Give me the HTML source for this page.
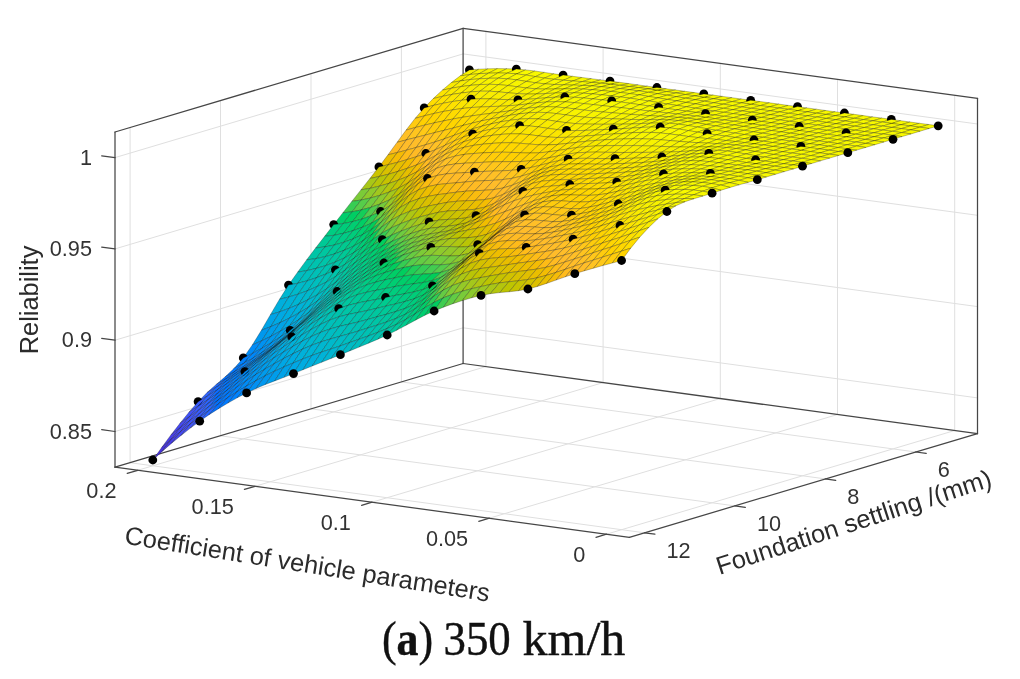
<!DOCTYPE html>
<html><head><meta charset="utf-8"><title>Reliability surface</title>
<style>
html,body{margin:0;padding:0;background:#fff}
svg{display:block}
.g{stroke:#dfdfdf;stroke-width:1;fill:none}
.b{stroke:#464646;stroke-width:1.25;fill:none;stroke-linecap:round}
.tk{font-family:"Liberation Sans",sans-serif;font-size:21.7px;fill:#333}
.al{font-family:"Liberation Sans",sans-serif;font-size:25.4px;fill:#2b2b2b}
.cap{font-family:"Liberation Serif",serif;font-size:48px;fill:#111;stroke:#111;stroke-width:0.4px}
</style></head><body>
<svg width="1020" height="679" viewBox="0 0 1020 679">
<rect width="1020" height="679" fill="#fff"/>
<g id="axes-back"><line x1="954.7" y1="430.5" x2="606.5" y2="534.2" class="g"/><line x1="837.5" y1="414.5" x2="489.4" y2="518.2" class="g"/><line x1="720.3" y1="398.5" x2="372.1" y2="502.2" class="g"/><line x1="603.1" y1="382.6" x2="255.0" y2="486.3" class="g"/><line x1="485.9" y1="366.6" x2="137.7" y2="470.3" class="g"/><line x1="915.8" y1="452.0" x2="401.4" y2="381.9" class="g"/><line x1="825.3" y1="478.9" x2="311.0" y2="408.8" class="g"/><line x1="734.9" y1="505.9" x2="220.5" y2="435.8" class="g"/><line x1="644.5" y1="532.8" x2="130.1" y2="462.7" class="g"/><line x1="401.4" y1="381.9" x2="401.4" y2="46.7" class="g"/><line x1="311.0" y1="408.8" x2="311.0" y2="73.6" class="g"/><line x1="220.5" y1="435.8" x2="220.5" y2="100.6" class="g"/><line x1="130.1" y1="462.7" x2="130.1" y2="127.5" class="g"/><line x1="463.1" y1="327.8" x2="115.0" y2="431.5" class="g"/><line x1="463.1" y1="236.5" x2="115.0" y2="340.2" class="g"/><line x1="463.1" y1="145.2" x2="115.0" y2="248.9" class="g"/><line x1="463.1" y1="53.9" x2="115.0" y2="157.6" class="g"/><line x1="954.7" y1="430.5" x2="954.7" y2="95.3" class="g"/><line x1="837.5" y1="414.5" x2="837.5" y2="79.3" class="g"/><line x1="720.3" y1="398.5" x2="720.3" y2="63.3" class="g"/><line x1="603.1" y1="382.6" x2="603.1" y2="47.4" class="g"/><line x1="485.9" y1="366.6" x2="485.9" y2="31.4" class="g"/><line x1="977.5" y1="397.9" x2="463.1" y2="327.8" class="g"/><line x1="977.5" y1="306.6" x2="463.1" y2="236.5" class="g"/><line x1="977.5" y1="215.3" x2="463.1" y2="145.2" class="g"/><line x1="977.5" y1="124.0" x2="463.1" y2="53.9" class="g"/><line x1="115.0" y1="467.2" x2="115.0" y2="132.0" class="b"/><line x1="115.0" y1="132.0" x2="463.1" y2="28.3" class="b"/><line x1="463.1" y1="28.3" x2="977.5" y2="98.4" class="b"/><line x1="977.5" y1="98.4" x2="977.5" y2="433.6" class="b"/><line x1="463.1" y1="363.5" x2="463.1" y2="28.3" class="b"/><line x1="115.0" y1="467.2" x2="463.1" y2="363.5" class="b"/><line x1="463.1" y1="363.5" x2="977.5" y2="433.6" class="b"/><line x1="115.0" y1="467.2" x2="629.4" y2="537.3" class="b"/><line x1="629.4" y1="537.3" x2="977.5" y2="433.6" class="b"/></g>
<g id="surface">
<g stroke="#000" stroke-opacity="0.32" stroke-width="0.80" stroke-linejoin="round">
<circle cx="469.4" cy="69.9" r="4.4" fill="#000" stroke="none"/>
<path d="M460.3,75.8L469.7,74.6L478.8,69.2L469.4,69.9z" fill="#f8f200"/>
<path d="M469.7,74.6L479.1,73.7L488.1,68.8L478.8,69.2z" fill="#f8f400"/>
<path d="M451.3,82.6L460.7,80.9L469.7,74.6L460.3,75.8z" fill="#f8ee00"/>
<path d="M479.1,73.7L488.5,73.2L497.5,68.6L488.1,68.8z" fill="#f8f500"/>
<path d="M460.7,80.9L470.1,79.6L479.1,73.7L469.7,74.6z" fill="#f8f100"/>
<path d="M442.3,90.2L451.6,88.2L460.7,80.9L451.3,82.6z" fill="#f9ea00"/>
<path d="M488.5,73.2L497.9,73.0L506.9,68.7L497.5,68.6z" fill="#f8f700"/>
<path d="M470.1,79.6L479.4,78.8L488.5,73.2L479.1,73.7z" fill="#f8f300"/>
<path d="M451.6,88.2L461.0,86.6L470.1,79.6L460.7,80.9z" fill="#f9ed00"/>
<path d="M497.9,73.0L507.2,73.2L516.3,69.1L506.9,68.7z" fill="#f8f800"/>
<path d="M433.2,98.6L442.6,96.3L451.6,88.2L442.3,90.2z" fill="#fce400"/>
<circle cx="516.3" cy="69.1" r="4.4" fill="#000" stroke="none"/>
<path d="M479.4,78.8L488.8,78.3L497.9,73.0L488.5,73.2z" fill="#f8f500"/>
<path d="M507.2,73.2L516.6,73.9L525.6,69.9L516.3,69.1z" fill="#f8f800"/>
<path d="M461.0,86.6L470.4,85.4L479.4,78.8L470.1,79.6z" fill="#f8f000"/>
<path d="M442.6,96.3L452.0,94.4L461.0,86.6L451.6,88.2z" fill="#fae800"/>
<path d="M424.2,107.9L433.5,105.4L442.6,96.3L433.2,98.6z" fill="#ffdd00"/>
<path d="M488.8,78.3L498.2,78.2L507.2,73.2L497.9,73.0z" fill="#f8f600"/>
<path d="M516.6,73.9L526.0,75.1L535.0,71.0L525.6,69.9z" fill="#f8f900"/>
<circle cx="424.2" cy="107.9" r="4.4" fill="#000" stroke="none"/>
<path d="M470.4,85.4L479.8,84.6L488.8,78.3L479.4,78.8z" fill="#f8f200"/>
<path d="M452.0,94.4L461.3,93.0L470.4,85.4L461.0,86.6z" fill="#f9eb00"/>
<path d="M415.1,118.4L424.5,115.8L433.5,105.4L424.2,107.9z" fill="#ffd500"/>
<path d="M498.2,78.2L507.6,78.8L516.6,73.9L507.2,73.2z" fill="#f8f700"/>
<path d="M433.5,105.4L442.9,103.3L452.0,94.4L442.6,96.3z" fill="#fee100"/>
<path d="M526.0,75.1L535.4,76.6L544.4,72.4L535.0,71.0z" fill="#f8f800"/>
<path d="M479.8,84.6L489.1,84.3L498.2,78.2L488.8,78.3z" fill="#f8f300"/>
<path d="M507.6,78.8L516.9,79.9L526.0,75.1L516.6,73.9z" fill="#f8f700"/>
<path d="M535.4,76.6L544.7,78.1L553.8,73.8L544.4,72.4z" fill="#f8f800"/>
<path d="M461.3,93.0L470.7,91.9L479.8,84.6L470.4,85.4z" fill="#f9ed00"/>
<path d="M406.1,130.1L415.5,127.5L424.5,115.8L415.1,118.4z" fill="#ffcb10"/>
<path d="M442.9,103.3L452.3,101.6L461.3,93.0L452.0,94.4z" fill="#fbe500"/>
<path d="M424.5,115.8L433.9,113.5L442.9,103.3L433.5,105.4z" fill="#ffd900"/>
<path d="M489.1,84.3L498.5,84.6L507.6,78.8L498.2,78.2z" fill="#f8f400"/>
<path d="M516.9,79.9L526.3,81.4L535.4,76.6L526.0,75.1z" fill="#f8f700"/>
<path d="M544.7,78.1L554.1,79.3L563.1,75.1L553.8,73.8z" fill="#f8f800"/>
<path d="M397.0,142.4L406.4,139.9L415.5,127.5L406.1,130.1z" fill="#ffc026"/>
<circle cx="563.1" cy="75.1" r="4.4" fill="#000" stroke="none"/>
<path d="M470.7,91.9L480.1,91.2L489.1,84.3L479.8,84.6z" fill="#f8ef00"/>
<path d="M415.5,127.5L424.8,125.1L433.9,113.5L424.5,115.8z" fill="#ffd001"/>
<path d="M452.3,101.6L461.7,100.2L470.7,91.9L461.3,93.0z" fill="#fae800"/>
<path d="M433.9,113.5L443.3,111.5L452.3,101.6L442.9,103.3z" fill="#ffdd00"/>
<path d="M498.5,84.6L507.9,85.5L516.9,79.9L507.6,78.8z" fill="#f8f400"/>
<path d="M526.3,81.4L535.7,82.8L544.7,78.1L535.4,76.6z" fill="#f8f600"/>
<path d="M554.1,79.3L563.5,80.2L572.5,76.3L563.1,75.1z" fill="#f8f800"/>
<path d="M388.0,154.8L397.4,152.5L406.4,139.9L397.0,142.4z" fill="#ffbb20"/>
<path d="M480.1,91.2L489.5,91.2L498.5,84.6L489.1,84.3z" fill="#f8f100"/>
<path d="M406.4,139.9L415.8,137.5L424.8,125.1L415.5,127.5z" fill="#ffc51f"/>
<path d="M507.9,85.5L517.3,86.8L526.3,81.4L516.9,79.9z" fill="#f8f400"/>
<path d="M461.7,100.2L471.0,99.2L480.1,91.2L470.7,91.9z" fill="#f9ea00"/>
<path d="M424.8,125.1L434.2,122.9L443.3,111.5L433.9,113.5z" fill="#ffd400"/>
<path d="M535.7,82.8L545.1,83.9L554.1,79.3L544.7,78.1z" fill="#f8f600"/>
<path d="M443.3,111.5L452.6,109.9L461.7,100.2L452.3,101.6z" fill="#fee100"/>
<path d="M563.5,80.2L572.9,81.0L581.9,77.5L572.5,76.3z" fill="#f8f800"/>
<path d="M378.9,166.9L388.3,164.7L397.4,152.5L388.0,154.8z" fill="#ebbe00"/>
<path d="M489.5,91.2L498.8,91.9L507.9,85.5L498.5,84.6z" fill="#f8f100"/>
<path d="M397.4,152.5L406.7,150.1L415.8,137.5L406.4,139.9z" fill="#ffbc2a"/>
<circle cx="378.9" cy="166.9" r="4.4" fill="#000" stroke="none"/>
<path d="M517.3,86.8L526.6,88.0L535.7,82.8L526.3,81.4z" fill="#f8f400"/>
<path d="M415.8,137.5L425.2,135.1L434.2,122.9L424.8,125.1z" fill="#ffc916"/>
<path d="M545.1,83.9L554.4,84.5L563.5,80.2L554.1,79.3z" fill="#f8f700"/>
<path d="M471.0,99.2L480.4,98.8L489.5,91.2L480.1,91.2z" fill="#f9ec00"/>
<path d="M572.9,81.0L582.2,81.6L591.3,78.7L581.9,77.5z" fill="#f8f900"/>
<path d="M434.2,122.9L443.6,120.9L452.6,109.9L443.3,111.5z" fill="#ffd800"/>
<path d="M452.6,109.9L462.0,108.5L471.0,99.2L461.7,100.2z" fill="#fce400"/>
<path d="M369.9,178.5L379.3,176.5L388.3,164.7L378.9,166.9z" fill="#ccc300"/>
<path d="M498.8,91.9L508.2,92.8L517.3,86.8L507.9,85.5z" fill="#f8f100"/>
<path d="M388.3,164.7L397.7,162.3L406.7,150.1L397.4,152.5z" fill="#f5bc04"/>
<path d="M526.6,88.0L536.0,88.8L545.1,83.9L535.7,82.8z" fill="#f8f400"/>
<circle cx="471.0" cy="99.2" r="4.4" fill="#000" stroke="none"/>
<path d="M406.7,150.1L416.1,147.5L425.2,135.1L415.8,137.5z" fill="#ffbe29"/>
<path d="M554.4,84.5L563.8,84.8L572.9,81.0L563.5,80.2z" fill="#f8f800"/>
<path d="M480.4,98.8L489.8,98.9L498.8,91.9L489.5,91.2z" fill="#f9ed00"/>
<path d="M582.2,81.6L591.6,82.4L600.7,79.9L591.3,78.7z" fill="#f8f900"/>
<path d="M425.2,135.1L434.5,132.7L443.6,120.9L434.2,122.9z" fill="#ffcd0a"/>
<path d="M360.9,189.9L370.2,188.3L379.3,176.5L369.9,178.5z" fill="#a8c719"/>
<path d="M462.0,108.5L471.4,107.5L480.4,98.8L471.0,99.2z" fill="#fbe600"/>
<path d="M443.6,120.9L453.0,119.0L462.0,108.5L452.6,109.9z" fill="#ffdb00"/>
<path d="M508.2,92.8L517.6,93.6L526.6,88.0L517.3,86.8z" fill="#f8f100"/>
<path d="M379.3,176.5L388.7,174.2L397.7,162.3L388.3,164.7z" fill="#d9c100"/>
<path d="M536.0,88.8L545.4,89.1L554.4,84.5L545.1,83.9z" fill="#f8f500"/>
<path d="M397.7,162.3L407.1,159.6L416.1,147.5L406.7,150.1z" fill="#febc19"/>
<path d="M563.8,84.8L573.2,85.1L582.2,81.6L572.9,81.0z" fill="#f8f800"/>
<path d="M591.6,82.4L601.0,83.2L610.0,81.1L600.7,79.9z" fill="#f8f900"/>
<path d="M489.8,98.9L499.2,99.4L508.2,92.8L498.8,91.9z" fill="#f9ed00"/>
<circle cx="610.0" cy="81.1" r="4.4" fill="#000" stroke="none"/>
<path d="M416.1,147.5L425.5,144.8L434.5,132.7L425.2,135.1z" fill="#ffc224"/>
<path d="M351.8,201.4L361.2,200.0L370.2,188.3L360.9,189.9z" fill="#7bcb38"/>
<path d="M517.6,93.6L527.0,94.1L536.0,88.8L526.6,88.0z" fill="#f8f200"/>
<path d="M471.4,107.5L480.8,107.0L489.8,98.9L480.4,98.8z" fill="#fae700"/>
<path d="M434.5,132.7L443.9,130.4L453.0,119.0L443.6,120.9z" fill="#ffd100"/>
<path d="M370.2,188.3L379.6,186.1L388.7,174.2L379.3,176.5z" fill="#b7c508"/>
<path d="M453.0,119.0L462.3,117.3L471.4,107.5L462.0,108.5z" fill="#ffde00"/>
<path d="M545.4,89.1L554.8,89.0L563.8,84.8L554.4,84.5z" fill="#f8f600"/>
<path d="M388.7,174.2L398.0,171.4L407.1,159.6L397.7,162.3z" fill="#e5bf00"/>
<path d="M601.0,83.2L610.4,84.2L619.4,82.3L610.0,81.1z" fill="#f8f900"/>
<path d="M573.2,85.1L582.6,85.4L591.6,82.4L582.2,81.6z" fill="#f8f900"/>
<path d="M499.2,99.4L508.6,99.7L517.6,93.6L508.2,92.8z" fill="#f9ed00"/>
<path d="M407.1,159.6L416.5,156.7L425.5,144.8L416.1,147.5z" fill="#ffbb25"/>
<path d="M527.0,94.1L536.3,94.0L545.4,89.1L536.0,88.8z" fill="#f8f300"/>
<path d="M342.8,212.9L352.1,211.8L361.2,200.0L351.8,201.4z" fill="#37cd53"/>
<path d="M480.8,107.0L490.1,106.6L499.2,99.4L489.8,98.9z" fill="#fae800"/>
<path d="M425.5,144.8L434.9,142.0L443.9,130.4L434.5,132.7z" fill="#ffc61c"/>
<path d="M361.2,200.0L370.6,198.0L379.6,186.1L370.2,188.3z" fill="#8eca2c"/>
<path d="M443.9,130.4L453.3,128.0L462.3,117.3L453.0,119.0z" fill="#ffd500"/>
<path d="M554.8,89.0L564.1,88.9L573.2,85.1L563.8,84.8z" fill="#f8f700"/>
<path d="M462.3,117.3L471.7,115.9L480.8,107.0L471.4,107.5z" fill="#fee000"/>
<path d="M610.4,84.2L619.7,85.3L628.8,83.6L619.4,82.3z" fill="#f8f900"/>
<path d="M379.6,186.1L389.0,183.4L398.0,171.4L388.7,174.2z" fill="#c7c300"/>
<path d="M582.6,85.4L591.9,85.9L601.0,83.2L591.6,82.4z" fill="#f8f900"/>
<path d="M508.6,99.7L517.9,99.8L527.0,94.1L517.6,93.6z" fill="#f8ee00"/>
<path d="M398.0,171.4L407.4,168.3L416.5,156.7L407.1,159.6z" fill="#f1bd00"/>
<path d="M536.3,94.0L545.7,93.6L554.8,89.0L545.4,89.1z" fill="#f8f400"/>
<path d="M333.7,224.6L343.1,223.6L352.1,211.8L342.8,212.9z" fill="#00ce6c"/>
<path d="M416.5,156.7L425.8,153.5L434.9,142.0L425.5,144.8z" fill="#ffbd2a"/>
<path d="M490.1,106.6L499.5,106.3L508.6,99.7L499.2,99.4z" fill="#fae900"/>
<path d="M352.1,211.8L361.5,209.9L370.6,198.0L361.2,200.0z" fill="#56cd4a"/>
<path d="M619.7,85.3L629.1,86.5L638.2,84.9L628.8,83.6z" fill="#f8f900"/>
<path d="M564.1,88.9L573.5,88.8L582.6,85.4L573.2,85.1z" fill="#f8f900"/>
<path d="M434.9,142.0L444.2,138.9L453.3,128.0L443.9,130.4z" fill="#ffcb11"/>
<path d="M591.9,85.9L601.3,86.7L610.4,84.2L601.0,83.2z" fill="#f9fa00"/>
<path d="M471.7,115.9L481.1,114.6L490.1,106.6L480.8,107.0z" fill="#fde200"/>
<path d="M370.6,198.0L379.9,195.3L389.0,183.4L379.6,186.1z" fill="#a1c81e"/>
<circle cx="333.7" cy="224.6" r="4.4" fill="#000" stroke="none"/>
<path d="M453.3,128.0L462.7,125.5L471.7,115.9L462.3,117.3z" fill="#ffd800"/>
<path d="M517.9,99.8L527.3,99.3L536.3,94.0L527.0,94.1z" fill="#f8f000"/>
<path d="M389.0,183.4L398.4,180.1L407.4,168.3L398.0,171.4z" fill="#d6c100"/>
<path d="M324.7,236.3L334.1,235.3L343.1,223.6L333.7,224.6z" fill="#00cc82"/>
<path d="M545.7,93.6L555.1,93.1L564.1,88.9L554.8,89.0z" fill="#f8f600"/>
<path d="M407.4,168.3L416.8,164.9L425.8,153.5L416.5,156.7z" fill="#fdbc15"/>
<path d="M499.5,106.3L508.9,105.8L517.9,99.8L508.6,99.7z" fill="#f9eb00"/>
<path d="M343.1,223.6L352.5,221.7L361.5,209.9L352.1,211.8z" fill="#00ce63"/>
<path d="M629.1,86.5L638.5,87.6L647.5,86.2L638.2,84.9z" fill="#f8f900"/>
<path d="M573.5,88.8L582.9,89.1L591.9,85.9L582.6,85.4z" fill="#f8f900"/>
<path d="M601.3,86.7L610.7,87.6L619.7,85.3L610.4,84.2z" fill="#f9fa00"/>
<path d="M425.8,153.5L435.2,149.8L444.2,138.9L434.9,142.0z" fill="#ffc126"/>
<path d="M361.5,209.9L370.9,207.3L379.9,195.3L370.6,198.0z" fill="#71cc3e"/>
<circle cx="517.9" cy="99.8" r="4.4" fill="#000" stroke="none"/>
<path d="M481.1,114.6L490.5,113.4L499.5,106.3L490.1,106.6z" fill="#fce400"/>
<path d="M527.3,99.3L536.7,98.6L545.7,93.6L536.3,94.0z" fill="#f8f200"/>
<path d="M444.2,138.9L453.6,135.5L462.7,125.5L453.3,128.0z" fill="#ffcf02"/>
<path d="M462.7,125.5L472.0,123.2L481.1,114.6L471.7,115.9z" fill="#ffdc00"/>
<path d="M379.9,195.3L389.3,192.0L398.4,180.1L389.0,183.4z" fill="#b4c60c"/>
<circle cx="425.8" cy="153.5" r="4.4" fill="#000" stroke="none"/>
<path d="M315.6,248.0L325.0,246.9L334.1,235.3L324.7,236.3z" fill="#00c996"/>
<path d="M555.1,93.1L564.5,92.8L573.5,88.8L564.1,88.9z" fill="#f8f800"/>
<path d="M398.4,180.1L407.7,176.4L416.8,164.9L407.4,168.3z" fill="#e5bf00"/>
<path d="M638.5,87.6L647.9,88.9L656.9,87.5L647.5,86.2z" fill="#f8f900"/>
<circle cx="656.9" cy="87.5" r="4.4" fill="#000" stroke="none"/>
<path d="M334.1,235.3L343.4,233.4L352.5,221.7L343.1,223.6z" fill="#00cd7b"/>
<path d="M508.9,105.8L518.3,105.0L527.3,99.3L517.9,99.8z" fill="#f9ed00"/>
<path d="M610.7,87.6L620.1,88.6L629.1,86.5L619.7,85.3z" fill="#f9fa00"/>
<path d="M582.9,89.1L592.3,89.7L601.3,86.7L591.9,85.9z" fill="#f9fa00"/>
<path d="M352.5,221.7L361.9,219.1L370.9,207.3L361.5,209.9z" fill="#13ce59"/>
<path d="M416.8,164.9L426.2,160.6L435.2,149.8L425.8,153.5z" fill="#ffbb26"/>
<path d="M490.5,113.4L499.8,112.2L508.9,105.8L499.5,106.3z" fill="#fbe700"/>
<path d="M370.9,207.3L380.3,203.9L389.3,192.0L379.9,195.3z" fill="#8aca2f"/>
<path d="M536.7,98.6L546.1,97.8L555.1,93.1L545.7,93.6z" fill="#f8f400"/>
<path d="M435.2,149.8L444.6,145.5L453.6,135.5L444.2,138.9z" fill="#ffc61b"/>
<path d="M472.0,123.2L481.4,120.9L490.5,113.4L481.1,114.6z" fill="#ffdf00"/>
<path d="M453.6,135.5L463.0,132.1L472.0,123.2L462.7,125.5z" fill="#ffd400"/>
<path d="M306.6,259.9L316.0,258.6L325.0,246.9L315.6,248.0z" fill="#00c5a6"/>
<path d="M647.9,88.9L657.2,90.2L666.3,88.8L656.9,87.5z" fill="#f8f900"/>
<path d="M389.3,192.0L398.7,188.1L407.7,176.4L398.4,180.1z" fill="#c8c300"/>
<path d="M564.5,92.8L573.9,92.8L582.9,89.1L573.5,88.8z" fill="#f8f900"/>
<path d="M325.0,246.9L334.4,245.0L343.4,233.4L334.1,235.3z" fill="#00cb8f"/>
<path d="M620.1,88.6L629.4,89.7L638.5,87.6L629.1,86.5z" fill="#f9fa00"/>
<path d="M592.3,89.7L601.7,90.5L610.7,87.6L601.3,86.7z" fill="#f9fa00"/>
<path d="M518.3,105.0L527.6,103.9L536.7,98.6L527.3,99.3z" fill="#f8ef00"/>
<path d="M343.4,233.4L352.8,230.8L361.9,219.1L352.5,221.7z" fill="#00ce72"/>
<path d="M407.7,176.4L417.1,171.7L426.2,160.6L416.8,164.9z" fill="#f5bc04"/>
<path d="M361.9,219.1L371.2,215.7L380.3,203.9L370.9,207.3z" fill="#50cd4c"/>
<path d="M499.8,112.2L509.2,110.9L518.3,105.0L508.9,105.8z" fill="#fae900"/>
<path d="M546.1,97.8L555.4,97.2L564.5,92.8L555.1,93.1z" fill="#f8f600"/>
<path d="M426.2,160.6L435.5,155.6L444.6,145.5L435.2,149.8z" fill="#ffbe29"/>
<path d="M657.2,90.2L666.6,91.6L675.7,90.0L666.3,88.8z" fill="#f8f900"/>
<path d="M297.6,272.2L306.9,270.6L316.0,258.6L306.6,259.9z" fill="#00c1b4"/>
<path d="M481.4,120.9L490.8,119.0L499.8,112.2L490.5,113.4z" fill="#fde200"/>
<path d="M629.4,89.7L638.8,90.9L647.9,88.9L638.5,87.6z" fill="#f9fa00"/>
<path d="M380.3,203.9L389.7,199.8L398.7,188.1L389.3,192.0z" fill="#a3c81d"/>
<path d="M573.9,92.8L583.2,93.2L592.3,89.7L582.9,89.1z" fill="#f9fa00"/>
<path d="M601.7,90.5L611.0,91.4L620.1,88.6L610.7,87.6z" fill="#f9fb00"/>
<path d="M444.6,145.5L454.0,141.1L463.0,132.1L453.6,135.5z" fill="#ffcc0d"/>
<path d="M316.0,258.6L325.4,256.6L334.4,245.0L325.0,246.9z" fill="#00c7a0"/>
<path d="M463.0,132.1L472.4,128.9L481.4,120.9L472.0,123.2z" fill="#ffd900"/>
<path d="M527.6,103.9L537.0,102.8L546.1,97.8L536.7,98.6z" fill="#f8f200"/>
<path d="M334.4,245.0L343.8,242.3L352.8,230.8L343.4,233.4z" fill="#00cc87"/>
<path d="M398.7,188.1L408.1,182.9L417.1,171.7L407.7,176.4z" fill="#dcc000"/>
<path d="M352.8,230.8L362.2,227.4L371.2,215.7L361.9,219.1z" fill="#00ce65"/>
<path d="M666.6,91.6L676.0,93.0L685.0,91.3L675.7,90.0z" fill="#f8f900"/>
<path d="M555.4,97.2L564.8,97.0L573.9,92.8L564.5,92.8z" fill="#f8f800"/>
<path d="M509.2,110.9L518.6,109.4L527.6,103.9L518.3,105.0z" fill="#f9ec00"/>
<path d="M288.5,285.1L297.9,283.2L306.9,270.6L297.6,272.2z" fill="#00bdc2"/>
<path d="M638.8,90.9L648.2,92.3L657.2,90.2L647.9,88.9z" fill="#f9fa00"/>
<path d="M417.1,171.7L426.5,165.9L435.5,155.6L426.2,160.6z" fill="#ffbb21"/>
<path d="M583.2,93.2L592.6,93.9L601.7,90.5L592.3,89.7z" fill="#f9fa00"/>
<path d="M611.0,91.4L620.4,92.5L629.4,89.7L620.1,88.6z" fill="#f9fb00"/>
<path d="M371.2,215.7L380.6,211.5L389.7,199.8L380.3,203.9z" fill="#75cb3b"/>
<path d="M306.9,270.6L316.3,268.4L325.4,256.6L316.0,258.6z" fill="#00c3af"/>
<path d="M490.8,119.0L500.2,117.2L509.2,110.9L499.8,112.2z" fill="#fbe500"/>
<circle cx="288.5" cy="285.1" r="4.4" fill="#000" stroke="none"/>
<path d="M435.5,155.6L444.9,150.4L454.0,141.1L444.6,145.5z" fill="#ffc41f"/>
<path d="M325.4,256.6L334.7,253.9L343.8,242.3L334.4,245.0z" fill="#00c999"/>
<path d="M537.0,102.8L546.4,102.0L555.4,97.2L546.1,97.8z" fill="#f8f400"/>
<path d="M472.4,128.9L481.8,126.2L490.8,119.0L481.4,120.9z" fill="#ffdd00"/>
<path d="M454.0,141.1L463.3,137.1L472.4,128.9L463.0,132.1z" fill="#ffd200"/>
<path d="M389.7,199.8L399.0,194.3L408.1,182.9L398.7,188.1z" fill="#bec400"/>
<path d="M676.0,93.0L685.4,94.5L694.4,92.6L685.0,91.3z" fill="#f8f900"/>
<path d="M343.8,242.3L353.1,238.9L362.2,227.4L352.8,230.8z" fill="#00cd7c"/>
<path d="M279.5,299.3L288.8,297.0L297.9,283.2L288.5,285.1z" fill="#00b7d0"/>
<path d="M564.8,97.0L574.2,97.3L583.2,93.2L573.9,92.8z" fill="#f8f900"/>
<path d="M648.2,92.3L657.6,93.7L666.6,91.6L657.2,90.2z" fill="#f9fa00"/>
<path d="M620.4,92.5L629.8,93.6L638.8,90.9L629.4,89.7z" fill="#f9fb00"/>
<path d="M592.6,93.9L602.0,94.8L611.0,91.4L601.7,90.5z" fill="#f9fb00"/>
<path d="M518.6,109.4L528.0,108.1L537.0,102.8L527.6,103.9z" fill="#f8ef00"/>
<path d="M362.2,227.4L371.6,223.1L380.6,211.5L371.2,215.7z" fill="#29ce56"/>
<path d="M408.1,182.9L417.5,176.5L426.5,165.9L417.1,171.7z" fill="#f1bd00"/>
<path d="M297.9,283.2L307.3,280.8L316.3,268.4L306.9,270.6z" fill="#00bfbd"/>
<path d="M316.3,268.4L325.7,265.6L334.7,253.9L325.4,256.6z" fill="#00c5a9"/>
<path d="M500.2,117.2L509.5,115.4L518.6,109.4L509.2,110.9z" fill="#fae900"/>
<path d="M270.4,314.7L279.8,311.8L288.8,297.0L279.5,299.3z" fill="#00afdd"/>
<path d="M546.4,102.0L555.8,101.6L564.8,97.0L555.4,97.2z" fill="#f8f600"/>
<path d="M426.5,165.9L435.9,159.9L444.9,150.4L435.5,155.6z" fill="#ffbe29"/>
<path d="M685.4,94.5L694.7,95.9L703.8,93.9L694.4,92.6z" fill="#f8f900"/>
<path d="M380.6,211.5L390.0,205.7L399.0,194.3L389.7,199.8z" fill="#99c925"/>
<circle cx="703.8" cy="93.9" r="4.4" fill="#000" stroke="none"/>
<path d="M334.7,253.9L344.1,250.4L353.1,238.9L343.8,242.3z" fill="#00ca90"/>
<path d="M481.8,126.2L491.1,123.9L500.2,117.2L490.8,119.0z" fill="#fee100"/>
<path d="M657.6,93.7L667.0,95.2L676.0,93.0L666.6,91.6z" fill="#f9fa00"/>
<circle cx="564.8" cy="97.0" r="4.4" fill="#000" stroke="none"/>
<path d="M574.2,97.3L583.6,98.0L592.6,93.9L583.2,93.2z" fill="#f8f900"/>
<path d="M444.9,150.4L454.3,145.6L463.3,137.1L454.0,141.1z" fill="#ffcb11"/>
<circle cx="380.6" cy="211.5" r="4.4" fill="#000" stroke="none"/>
<path d="M629.8,93.6L639.2,94.9L648.2,92.3L638.8,90.9z" fill="#f9fb00"/>
<path d="M463.3,137.1L472.7,133.8L481.8,126.2L472.4,128.9z" fill="#ffd700"/>
<path d="M602.0,94.8L611.4,95.9L620.4,92.5L611.0,91.4z" fill="#f9fb00"/>
<path d="M288.8,297.0L298.2,294.1L307.3,280.8L297.9,283.2z" fill="#00bacb"/>
<path d="M353.1,238.9L362.5,234.7L371.6,223.1L362.2,227.4z" fill="#00ce6e"/>
<path d="M528.0,108.1L537.3,107.2L546.4,102.0L537.0,102.8z" fill="#f8f200"/>
<path d="M261.4,330.3L270.8,326.7L279.8,311.8L270.4,314.7z" fill="#00a4e7"/>
<path d="M399.0,194.3L408.4,187.3L417.5,176.5L408.1,182.9z" fill="#dac000"/>
<path d="M307.3,280.8L316.6,277.7L325.7,265.6L316.3,268.4z" fill="#00c1b7"/>
<path d="M694.7,95.9L704.1,97.3L713.2,95.1L703.8,93.9z" fill="#f8f900"/>
<path d="M555.8,101.6L565.1,101.9L574.2,97.3L564.8,97.0z" fill="#f8f700"/>
<path d="M509.5,115.4L518.9,113.9L528.0,108.1L518.6,109.4z" fill="#f9ec00"/>
<path d="M371.6,223.1L380.9,217.3L390.0,205.7L380.6,211.5z" fill="#69cc41"/>
<path d="M667.0,95.2L676.3,96.7L685.4,94.5L676.0,93.0z" fill="#f9fa00"/>
<path d="M417.5,176.5L426.8,169.7L435.9,159.9L426.5,165.9z" fill="#ffbb20"/>
<path d="M325.7,265.6L335.1,262.1L344.1,250.4L334.7,253.9z" fill="#00c7a1"/>
<path d="M583.6,98.0L592.9,98.9L602.0,94.8L592.6,93.9z" fill="#f9fa00"/>
<path d="M279.8,311.8L289.2,308.3L298.2,294.1L288.8,297.0z" fill="#00b2d9"/>
<path d="M639.2,94.9L648.5,96.4L657.6,93.7L648.2,92.3z" fill="#f9fb00"/>
<path d="M611.4,95.9L620.7,97.0L629.8,93.6L620.4,92.5z" fill="#f9fb00"/>
<path d="M252.3,345.0L261.7,340.8L270.8,326.7L261.4,330.3z" fill="#0098ee"/>
<path d="M491.1,123.9L500.5,121.9L509.5,115.4L500.2,117.2z" fill="#fce500"/>
<path d="M435.9,159.9L445.2,154.4L454.3,145.6L444.9,150.4z" fill="#ffc420"/>
<path d="M344.1,250.4L353.5,246.3L362.5,234.7L353.1,238.9z" fill="#00cc84"/>
<path d="M472.7,133.8L482.1,131.2L491.1,123.9L481.8,126.2z" fill="#ffdb00"/>
<path d="M537.3,107.2L546.7,106.7L555.8,101.6L546.4,102.0z" fill="#f8f400"/>
<path d="M390.0,205.7L399.4,198.5L408.4,187.3L399.0,194.3z" fill="#bcc501"/>
<path d="M454.3,145.6L463.7,141.8L472.7,133.8L463.3,137.1z" fill="#ffd100"/>
<path d="M298.2,294.1L307.6,290.7L316.6,277.7L307.3,280.8z" fill="#00bcc5"/>
<path d="M704.1,97.3L713.5,98.7L722.5,96.4L713.2,95.1z" fill="#f8f900"/>
<path d="M270.8,326.7L280.1,322.7L289.2,308.3L279.8,311.8z" fill="#00a9e4"/>
<path d="M676.3,96.7L685.7,98.2L694.7,95.9L685.4,94.5z" fill="#f9fa00"/>
<path d="M565.1,101.9L574.5,102.6L583.6,98.0L574.2,97.3z" fill="#f8f800"/>
<path d="M362.5,234.7L371.9,229.1L380.9,217.3L371.6,223.1z" fill="#00ce5b"/>
<path d="M648.5,96.4L657.9,97.9L667.0,95.2L657.6,93.7z" fill="#f9fb00"/>
<path d="M243.3,357.9L252.7,353.3L261.7,340.8L252.3,345.0z" fill="#008cf8"/>
<path d="M592.9,98.9L602.3,99.9L611.4,95.9L602.0,94.8z" fill="#f9fa00"/>
<path d="M518.9,113.9L528.3,112.9L537.3,107.2L528.0,108.1z" fill="#f8ef00"/>
<path d="M316.6,277.7L326.0,274.0L335.1,262.1L325.7,265.6z" fill="#00c3af"/>
<path d="M620.7,97.0L630.1,98.2L639.2,94.9L629.8,93.6z" fill="#f9fb00"/>
<circle cx="472.7" cy="133.8" r="4.4" fill="#000" stroke="none"/>
<path d="M408.4,187.3L417.8,180.0L426.8,169.7L417.5,176.5z" fill="#f2bd00"/>
<circle cx="243.3" cy="357.9" r="4.4" fill="#000" stroke="none"/>
<path d="M289.2,308.3L298.6,304.4L307.6,290.7L298.2,294.1z" fill="#00b6d3"/>
<path d="M500.5,121.9L509.9,120.3L518.9,113.9L509.5,115.4z" fill="#fae800"/>
<path d="M335.1,262.1L344.4,258.0L353.5,246.3L344.1,250.4z" fill="#00c997"/>
<path d="M546.7,106.7L556.1,107.0L565.1,101.9L555.8,101.6z" fill="#f8f500"/>
<path d="M713.5,98.7L722.9,100.2L731.9,97.7L722.5,96.4z" fill="#f8f900"/>
<path d="M380.9,217.3L390.3,210.0L399.4,198.5L390.0,205.7z" fill="#98c925"/>
<path d="M261.7,340.8L271.1,336.2L280.1,322.7L270.8,326.7z" fill="#009eea"/>
<path d="M426.8,169.7L436.2,163.6L445.2,154.4L435.9,159.9z" fill="#ffbe29"/>
<path d="M685.7,98.2L695.1,99.7L704.1,97.3L694.7,95.9z" fill="#f8f900"/>
<path d="M482.1,131.2L491.5,129.1L500.5,121.9L491.1,123.9z" fill="#ffe000"/>
<path d="M574.5,102.6L583.9,103.6L592.9,98.9L583.6,98.0z" fill="#f8f800"/>
<path d="M657.9,97.9L667.3,99.4L676.3,96.7L667.0,95.2z" fill="#f9fa00"/>
<path d="M463.7,141.8L473.0,139.0L482.1,131.2L472.7,133.8z" fill="#ffd500"/>
<path d="M445.2,154.4L454.6,150.1L463.7,141.8L454.3,145.6z" fill="#ffca13"/>
<path d="M602.3,99.9L611.7,100.9L620.7,97.0L611.4,95.9z" fill="#f9fa00"/>
<path d="M353.5,246.3L362.9,240.9L371.9,229.1L362.5,234.7z" fill="#00ce73"/>
<path d="M630.1,98.2L639.5,99.6L648.5,96.4L639.2,94.9z" fill="#f9fb00"/>
<path d="M307.6,290.7L317.0,286.6L326.0,274.0L316.6,277.7z" fill="#00bfbe"/>
<path d="M234.2,368.3L243.6,363.4L252.7,353.3L243.3,357.9z" fill="#0081fe"/>
<path d="M528.3,112.9L537.7,112.3L546.7,106.7L537.3,107.2z" fill="#f8f100"/>
<path d="M280.1,322.7L289.5,318.1L298.6,304.4L289.2,308.3z" fill="#00addf"/>
<path d="M399.4,198.5L408.7,190.7L417.8,180.0L408.4,187.3z" fill="#dbc000"/>
<path d="M722.9,100.2L732.2,101.6L741.3,99.0L731.9,97.7z" fill="#f8f900"/>
<path d="M326.0,274.0L335.4,269.8L344.4,258.0L335.1,262.1z" fill="#00c5a7"/>
<path d="M252.7,353.3L262.0,348.2L271.1,336.2L261.7,340.8z" fill="#0092f2"/>
<path d="M556.1,107.0L565.5,107.8L574.5,102.6L565.1,101.9z" fill="#f8f500"/>
<path d="M371.9,229.1L381.3,222.0L390.3,210.0L380.9,217.3z" fill="#67cc42"/>
<path d="M695.1,99.7L704.5,101.2L713.5,98.7L704.1,97.3z" fill="#f8f900"/>
<path d="M509.9,120.3L519.3,119.2L528.3,112.9L518.9,113.9z" fill="#f9eb00"/>
<path d="M667.3,99.4L676.7,100.9L685.7,98.2L676.3,96.7z" fill="#f9fa00"/>
<path d="M583.9,103.6L593.3,104.6L602.3,99.9L592.9,98.9z" fill="#f8f800"/>
<path d="M639.5,99.6L648.9,101.0L657.9,97.9L648.5,96.4z" fill="#f9fb00"/>
<path d="M611.7,100.9L621.1,102.1L630.1,98.2L620.7,97.0z" fill="#f9fa00"/>
<path d="M417.8,180.0L427.2,173.3L436.2,163.6L426.8,169.7z" fill="#ffbb21"/>
<path d="M298.6,304.4L307.9,299.8L317.0,286.6L307.6,290.7z" fill="#00b9cc"/>
<path d="M491.5,129.1L500.8,127.5L509.9,120.3L500.5,121.9z" fill="#fce300"/>
<path d="M344.4,258.0L353.8,252.7L362.9,240.9L353.5,246.3z" fill="#00cc89"/>
<path d="M271.1,336.2L280.5,331.1L289.5,318.1L280.1,322.7z" fill="#00a3e7"/>
<path d="M473.0,139.0L482.4,136.9L491.5,129.1L482.1,131.2z" fill="#ffda00"/>
<path d="M537.7,112.3L547.1,112.6L556.1,107.0L546.7,106.7z" fill="#f8f200"/>
<path d="M436.2,163.6L445.6,158.9L454.6,150.1L445.2,154.4z" fill="#ffc322"/>
<path d="M454.6,150.1L464.0,147.3L473.0,139.0L463.7,141.8z" fill="#ffcf04"/>
<path d="M225.2,376.8L234.6,371.7L243.6,363.4L234.2,368.3z" fill="#0077ff"/>
<path d="M390.3,210.0L399.7,202.3L408.7,190.7L399.4,198.5z" fill="#bfc400"/>
<path d="M732.2,101.6L741.6,102.9L750.7,100.3L741.3,99.0z" fill="#f8f900"/>
<circle cx="750.7" cy="100.3" r="4.4" fill="#000" stroke="none"/>
<path d="M317.0,286.6L326.3,282.1L335.4,269.8L326.0,274.0z" fill="#00c1b5"/>
<path d="M704.5,101.2L713.8,102.8L722.9,100.2L713.5,98.7z" fill="#f8f900"/>
<path d="M565.5,107.8L574.9,108.9L583.9,103.6L574.5,102.6z" fill="#f8f600"/>
<path d="M243.6,363.4L253.0,358.1L262.0,348.2L252.7,353.3z" fill="#0088fa"/>
<path d="M362.9,240.9L372.2,234.2L381.3,222.0L371.9,229.1z" fill="#00ce5d"/>
<path d="M676.7,100.9L686.0,102.4L695.1,99.7L685.7,98.2z" fill="#f9fa00"/>
<path d="M593.3,104.6L602.6,105.7L611.7,100.9L602.3,99.9z" fill="#f8f900"/>
<path d="M289.5,318.1L298.9,313.0L307.9,299.8L298.6,304.4z" fill="#00b2d9"/>
<path d="M648.9,101.0L658.2,102.5L667.3,99.4L657.9,97.9z" fill="#f9fa00"/>
<path d="M519.3,119.2L528.6,118.6L537.7,112.3L528.3,112.9z" fill="#f9ed00"/>
<path d="M621.1,102.1L630.4,103.3L639.5,99.6L630.1,98.2z" fill="#f9fa00"/>
<circle cx="611.7" cy="100.9" r="4.4" fill="#000" stroke="none"/>
<path d="M335.4,269.8L344.8,264.5L353.8,252.7L344.4,258.0z" fill="#00c89b"/>
<path d="M262.0,348.2L271.4,342.7L280.5,331.1L271.1,336.2z" fill="#0099ee"/>
<path d="M408.7,190.7L418.1,183.7L427.2,173.3L417.8,180.0z" fill="#f3bd01"/>
<path d="M500.8,127.5L510.2,126.3L519.3,119.2L509.9,120.3z" fill="#fbe600"/>
<path d="M547.1,112.6L556.4,113.6L565.5,107.8L556.1,107.0z" fill="#f8f200"/>
<circle cx="335.4" cy="269.8" r="4.4" fill="#000" stroke="none"/>
<path d="M741.6,102.9L751.0,104.3L760.0,101.5L750.7,100.3z" fill="#f8f900"/>
<path d="M381.3,222.0L390.6,214.5L399.7,202.3L390.3,210.0z" fill="#99c925"/>
<path d="M307.9,299.8L317.3,294.8L326.3,282.1L317.0,286.6z" fill="#00bcc4"/>
<path d="M713.8,102.8L723.2,104.2L732.2,101.6L722.9,100.2z" fill="#f8f900"/>
<path d="M482.4,136.9L491.8,135.4L500.8,127.5L491.5,129.1z" fill="#ffde00"/>
<path d="M574.9,108.9L584.2,110.1L593.3,104.6L583.9,103.6z" fill="#f8f600"/>
<path d="M427.2,173.3L436.5,168.3L445.6,158.9L436.2,163.6z" fill="#ffbd29"/>
<path d="M686.0,102.4L695.4,103.9L704.5,101.2L695.1,99.7z" fill="#f8f900"/>
<path d="M464.0,147.3L473.4,145.4L482.4,136.9L473.0,139.0z" fill="#ffd300"/>
<path d="M353.8,252.7L363.2,246.4L372.2,234.2L362.9,240.9z" fill="#00cd76"/>
<path d="M445.6,158.9L455.0,156.1L464.0,147.3L454.6,150.1z" fill="#ffc818"/>
<path d="M280.5,331.1L289.8,325.5L298.9,313.0L289.5,318.1z" fill="#00a9e3"/>
<path d="M602.6,105.7L612.0,106.7L621.1,102.1L611.7,100.9z" fill="#f8f900"/>
<path d="M658.2,102.5L667.6,104.0L676.7,100.9L667.3,99.4z" fill="#f9fa00"/>
<path d="M216.2,384.5L225.5,379.3L234.6,371.7L225.2,376.8z" fill="#0070ff"/>
<path d="M630.4,103.3L639.8,104.7L648.9,101.0L639.5,99.6z" fill="#f9fa00"/>
<path d="M528.6,118.6L538.0,118.9L547.1,112.6L537.7,112.3z" fill="#f8ee00"/>
<path d="M234.6,371.7L244.0,366.3L253.0,358.1L243.6,363.4z" fill="#0080ff"/>
<path d="M326.3,282.1L335.7,276.5L344.8,264.5L335.4,269.8z" fill="#00c4ab"/>
<path d="M399.7,202.3L409.1,195.2L418.1,183.7L408.7,190.7z" fill="#dcc000"/>
<path d="M556.4,113.6L565.8,114.9L574.9,108.9L565.5,107.8z" fill="#f8f300"/>
<path d="M253.0,358.1L262.4,352.3L271.4,342.7L262.0,348.2z" fill="#0090f5"/>
<path d="M751.0,104.3L760.4,105.6L769.4,102.8L760.0,101.5z" fill="#f8f900"/>
<path d="M510.2,126.3L519.6,125.7L528.6,118.6L519.3,119.2z" fill="#fae900"/>
<path d="M298.9,313.0L308.3,307.4L317.3,294.8L307.9,299.8z" fill="#00b7d1"/>
<path d="M723.2,104.2L732.6,105.6L741.6,102.9L732.2,101.6z" fill="#f8f900"/>
<path d="M372.2,234.2L381.6,227.1L390.6,214.5L381.3,222.0z" fill="#64cc44"/>
<path d="M584.2,110.1L593.6,111.1L602.6,105.7L593.3,104.6z" fill="#f8f600"/>
<path d="M695.4,103.9L704.8,105.4L713.8,102.8L704.5,101.2z" fill="#f8f900"/>
<path d="M667.6,104.0L677.0,105.4L686.0,102.4L676.7,100.9z" fill="#f9fa00"/>
<path d="M612.0,106.7L621.4,107.7L630.4,103.3L621.1,102.1z" fill="#f8f900"/>
<path d="M491.8,135.4L501.2,134.4L510.2,126.3L500.8,127.5z" fill="#fee100"/>
<path d="M344.8,264.5L354.1,258.2L363.2,246.4L353.8,252.7z" fill="#00cb8c"/>
<path d="M639.8,104.7L649.2,106.0L658.2,102.5L648.9,101.0z" fill="#f9fa00"/>
<path d="M271.4,342.7L280.8,336.7L289.8,325.5L280.5,331.1z" fill="#00a0e9"/>
<path d="M418.1,183.7L427.5,178.5L436.5,168.3L427.2,173.3z" fill="#ffbb1e"/>
<path d="M473.4,145.4L482.7,144.2L491.8,135.4L482.4,136.9z" fill="#ffd700"/>
<path d="M538.0,118.9L547.4,119.9L556.4,113.6L547.1,112.6z" fill="#f8ef00"/>
<path d="M455.0,156.1L464.3,154.4L473.4,145.4L464.0,147.3z" fill="#ffcc0e"/>
<path d="M436.5,168.3L445.9,165.4L455.0,156.1L445.6,158.9z" fill="#ffc126"/>
<path d="M317.3,294.8L326.7,288.8L335.7,276.5L326.3,282.1z" fill="#00c0b9"/>
<path d="M565.8,114.9L575.2,116.2L584.2,110.1L574.9,108.9z" fill="#f8f300"/>
<path d="M207.1,392.5L216.5,387.1L225.5,379.3L216.2,384.5z" fill="#2269ff"/>
<path d="M760.4,105.6L769.8,106.8L778.8,104.1L769.4,102.8z" fill="#f8f900"/>
<path d="M390.6,214.5L400.0,207.6L409.1,195.2L399.7,202.3z" fill="#bdc501"/>
<path d="M732.6,105.6L742.0,107.0L751.0,104.3L741.6,102.9z" fill="#f8f900"/>
<path d="M289.8,325.5L299.2,319.4L308.3,307.4L298.9,313.0z" fill="#00afdd"/>
<path d="M225.5,379.3L234.9,373.8L244.0,366.3L234.6,371.7z" fill="#0079ff"/>
<path d="M363.2,246.4L372.6,239.6L381.6,227.1L372.2,234.2z" fill="#00ce60"/>
<path d="M704.8,105.4L714.2,106.9L723.2,104.2L713.8,102.8z" fill="#f8f900"/>
<path d="M593.6,111.1L603.0,112.0L612.0,106.7L602.6,105.7z" fill="#f8f700"/>
<path d="M519.6,125.7L529.0,125.9L538.0,118.9L528.6,118.6z" fill="#f9ea00"/>
<path d="M244.0,366.3L253.3,360.5L262.4,352.3L253.0,358.1z" fill="#0088fb"/>
<path d="M677.0,105.4L686.4,106.8L695.4,103.9L686.0,102.4z" fill="#f8f900"/>
<path d="M621.4,107.7L630.8,108.8L639.8,104.7L630.4,103.3z" fill="#f8f900"/>
<path d="M649.2,106.0L658.6,107.3L667.6,104.0L658.2,102.5z" fill="#f9fa00"/>
<path d="M335.7,276.5L345.1,270.0L354.1,258.2L344.8,264.5z" fill="#00c79e"/>
<path d="M501.2,134.4L510.5,133.8L519.6,125.7L510.2,126.3z" fill="#fce300"/>
<path d="M547.4,119.9L556.8,121.4L565.8,114.9L556.4,113.6z" fill="#f8ef00"/>
<path d="M262.4,352.3L271.8,346.2L280.8,336.7L271.4,342.7z" fill="#0097ef"/>
<path d="M409.1,195.2L418.4,189.8L427.5,178.5L418.1,183.7z" fill="#efbd00"/>
<path d="M308.3,307.4L317.6,300.9L326.7,288.8L317.3,294.8z" fill="#00bbc7"/>
<path d="M482.7,144.2L492.1,143.4L501.2,134.4L491.8,135.4z" fill="#ffda00"/>
<path d="M575.2,116.2L584.6,117.2L593.6,111.1L584.2,110.1z" fill="#f8f300"/>
<path d="M769.8,106.8L779.1,108.1L788.2,105.4L778.8,104.1z" fill="#f8f900"/>
<path d="M464.3,154.4L473.7,153.5L482.7,144.2L473.4,145.4z" fill="#ffcf03"/>
<path d="M381.6,227.1L391.0,220.4L400.0,207.6L390.6,214.5z" fill="#92c929"/>
<path d="M742.0,107.0L751.3,108.3L760.4,105.6L751.0,104.3z" fill="#f8f900"/>
<path d="M427.5,178.5L436.9,175.5L445.9,165.4L436.5,168.3z" fill="#ffbc2a"/>
<circle cx="519.6" cy="125.7" r="4.4" fill="#000" stroke="none"/>
<path d="M445.9,165.4L455.3,163.9L464.3,154.4L455.0,156.1z" fill="#ffc41f"/>
<path d="M714.2,106.9L723.5,108.3L732.6,105.6L723.2,104.2z" fill="#f8f900"/>
<path d="M280.8,336.7L290.2,330.3L299.2,319.4L289.8,325.5z" fill="#00a7e5"/>
<path d="M603.0,112.0L612.4,112.8L621.4,107.7L612.0,106.7z" fill="#f8f700"/>
<path d="M354.1,258.2L363.5,251.6L372.6,239.6L363.2,246.4z" fill="#00cd7a"/>
<path d="M529.0,125.9L538.3,126.9L547.4,119.9L538.0,118.9z" fill="#f9ea00"/>
<path d="M686.4,106.8L695.7,108.2L704.8,105.4L695.4,103.9z" fill="#f8f900"/>
<path d="M630.8,108.8L640.2,110.0L649.2,106.0L639.8,104.7z" fill="#f8f900"/>
<path d="M658.6,107.3L667.9,108.6L677.0,105.4L667.6,104.0z" fill="#f8f900"/>
<path d="M198.1,401.7L207.4,396.0L216.5,387.1L207.1,392.5z" fill="#2f63ff"/>
<path d="M326.7,288.8L336.1,281.9L345.1,270.0L335.7,276.5z" fill="#00c3ad"/>
<circle cx="427.5" cy="178.5" r="4.4" fill="#000" stroke="none"/>
<path d="M556.8,121.4L566.1,122.7L575.2,116.2L565.8,114.9z" fill="#f8ef00"/>
<path d="M216.5,387.1L225.9,381.5L234.9,373.8L225.5,379.3z" fill="#0072ff"/>
<path d="M510.5,133.8L519.9,133.9L529.0,125.9L519.6,125.7z" fill="#fce500"/>
<path d="M400.0,207.6L409.4,202.2L418.4,189.8L409.1,195.2z" fill="#d5c100"/>
<path d="M234.9,373.8L244.3,368.0L253.3,360.5L244.0,366.3z" fill="#0082fe"/>
<circle cx="198.1" cy="401.7" r="4.4" fill="#000" stroke="none"/>
<path d="M299.2,319.4L308.6,312.5L317.6,300.9L308.3,307.4z" fill="#00b5d4"/>
<path d="M584.6,117.2L593.9,117.8L603.0,112.0L593.6,111.1z" fill="#f8f400"/>
<path d="M779.1,108.1L788.5,109.3L797.5,106.6L788.2,105.4z" fill="#f8f900"/>
<path d="M372.6,239.6L381.9,233.1L391.0,220.4L381.6,227.1z" fill="#55cd4a"/>
<circle cx="797.5" cy="106.6" r="4.4" fill="#000" stroke="none"/>
<path d="M751.3,108.3L760.7,109.5L769.8,106.8L760.4,105.6z" fill="#f8f900"/>
<path d="M492.1,143.4L501.5,142.8L510.5,133.8L501.2,134.4z" fill="#ffdc00"/>
<path d="M253.3,360.5L262.7,354.3L271.8,346.2L262.4,352.3z" fill="#0090f4"/>
<path d="M723.5,108.3L732.9,109.7L742.0,107.0L732.6,105.6z" fill="#f8f900"/>
<path d="M473.7,153.5L483.1,152.9L492.1,143.4L482.7,144.2z" fill="#ffd200"/>
<path d="M612.4,112.8L621.7,113.6L630.8,108.8L621.4,107.7z" fill="#f8f700"/>
<path d="M538.3,126.9L547.7,128.3L556.8,121.4L547.4,119.9z" fill="#f9ea00"/>
<path d="M695.7,108.2L705.1,109.7L714.2,106.9L704.8,105.4z" fill="#f8f900"/>
<path d="M418.4,189.8L427.8,186.6L436.9,175.5L427.5,178.5z" fill="#fbbc12"/>
<path d="M345.1,270.0L354.5,263.2L363.5,251.6L354.1,258.2z" fill="#00cb8f"/>
<path d="M667.9,108.6L677.3,109.9L686.4,106.8L677.0,105.4z" fill="#f8f900"/>
<path d="M640.2,110.0L649.5,111.0L658.6,107.3L649.2,106.0z" fill="#f8f900"/>
<path d="M455.3,163.9L464.7,163.2L473.7,153.5L464.3,154.4z" fill="#ffc71a"/>
<path d="M436.9,175.5L446.2,173.9L455.3,163.9L445.9,165.4z" fill="#ffbd29"/>
<path d="M271.8,346.2L281.1,339.7L290.2,330.3L280.8,336.7z" fill="#009fe9"/>
<circle cx="658.6" cy="107.3" r="4.4" fill="#000" stroke="none"/>
<path d="M566.1,122.7L575.5,123.6L584.6,117.2L575.2,116.2z" fill="#f8ef00"/>
<path d="M317.6,300.9L327.0,293.5L336.1,281.9L326.7,288.8z" fill="#00bfbc"/>
<path d="M189.0,412.2L198.4,406.1L207.4,396.0L198.1,401.7z" fill="#395bfe"/>
<path d="M391.0,220.4L400.4,215.1L409.4,202.2L400.0,207.6z" fill="#b0c611"/>
<path d="M519.9,133.9L529.3,134.7L538.3,126.9L529.0,125.9z" fill="#fbe500"/>
<path d="M788.5,109.3L797.9,110.6L806.9,107.9L797.5,106.6z" fill="#f8f900"/>
<path d="M593.9,117.8L603.3,118.3L612.4,112.8L603.0,112.0z" fill="#f8f400"/>
<path d="M760.7,109.5L770.1,110.8L779.1,108.1L769.8,106.8z" fill="#f8f900"/>
<path d="M290.2,330.3L299.5,323.1L308.6,312.5L299.2,319.4z" fill="#00aede"/>
<path d="M363.5,251.6L372.9,245.2L381.9,233.1L372.6,239.6z" fill="#00ce66"/>
<path d="M207.4,396.0L216.8,390.2L225.9,381.5L216.5,387.1z" fill="#186cff"/>
<path d="M732.9,109.7L742.3,111.0L751.3,108.3L742.0,107.0z" fill="#f8f900"/>
<path d="M501.5,142.8L510.9,142.7L519.9,133.9L510.5,133.8z" fill="#ffde00"/>
<path d="M705.1,109.7L714.5,111.0L723.5,108.3L714.2,106.9z" fill="#f8f900"/>
<path d="M547.7,128.3L557.1,129.6L566.1,122.7L556.8,121.4z" fill="#f9ea00"/>
<path d="M621.7,113.6L631.1,114.4L640.2,110.0L630.8,108.8z" fill="#f8f700"/>
<circle cx="290.2" cy="330.3" r="4.4" fill="#000" stroke="none"/>
<path d="M677.3,109.9L686.7,111.2L695.7,108.2L686.4,106.8z" fill="#f8f900"/>
<path d="M649.5,111.0L658.9,112.1L667.9,108.6L658.6,107.3z" fill="#f8f900"/>
<path d="M409.4,202.2L418.8,198.7L427.8,186.6L418.4,189.8z" fill="#e3bf00"/>
<path d="M225.9,381.5L235.2,375.6L244.3,368.0L234.9,373.8z" fill="#007cff"/>
<path d="M483.1,152.9L492.5,152.4L501.5,142.8L492.1,143.4z" fill="#ffd400"/>
<path d="M336.1,281.9L345.4,274.6L354.5,263.2L345.1,270.0z" fill="#00c7a0"/>
<path d="M464.7,163.2L474.0,162.8L483.1,152.9L473.7,153.5z" fill="#ffc915"/>
<path d="M244.3,368.0L253.7,361.9L262.7,354.3L253.3,360.5z" fill="#008af9"/>
<path d="M575.5,123.6L584.9,124.1L593.9,117.8L584.6,117.2z" fill="#f8f000"/>
<path d="M427.8,186.6L437.2,184.7L446.2,173.9L436.9,175.5z" fill="#ffbb1d"/>
<path d="M446.2,173.9L455.6,173.1L464.7,163.2L455.3,163.9z" fill="#ffbf29"/>
<path d="M308.6,312.5L318.0,304.7L327.0,293.5L317.6,300.9z" fill="#00bbc9"/>
<path d="M381.9,233.1L391.3,227.8L400.4,215.1L391.0,220.4z" fill="#80cb35"/>
<path d="M529.3,134.7L538.7,135.9L547.7,128.3L538.3,126.9z" fill="#fbe500"/>
<path d="M262.7,354.3L272.1,347.8L281.1,339.7L271.8,346.2z" fill="#0098ee"/>
<path d="M797.9,110.6L807.3,111.9L816.3,109.2L806.9,107.9z" fill="#f8f900"/>
<path d="M180.0,423.3L189.4,416.7L198.4,406.1L189.0,412.2z" fill="#4052f9"/>
<path d="M770.1,110.8L779.5,112.0L788.5,109.3L779.1,108.1z" fill="#f8f900"/>
<path d="M603.3,118.3L612.7,118.8L621.7,113.6L612.4,112.8z" fill="#f8f500"/>
<path d="M742.3,111.0L751.7,112.2L760.7,109.5L751.3,108.3z" fill="#f8f900"/>
<path d="M354.5,263.2L363.9,256.5L372.9,245.2L363.5,251.6z" fill="#00cd7e"/>
<path d="M714.5,111.0L723.9,112.3L732.9,109.7L723.5,108.3z" fill="#f8f900"/>
<path d="M557.1,129.6L566.5,130.4L575.5,123.6L566.1,122.7z" fill="#f9ea00"/>
<path d="M631.1,114.4L640.5,115.1L649.5,111.0L640.2,110.0z" fill="#f8f800"/>
<path d="M510.9,142.7L520.3,143.3L529.3,134.7L519.9,133.9z" fill="#ffde00"/>
<path d="M686.7,111.2L696.1,112.4L705.1,109.7L695.7,108.2z" fill="#f8f900"/>
<path d="M281.1,339.7L290.5,332.4L299.5,323.1L290.2,330.3z" fill="#00a7e5"/>
<path d="M658.9,112.1L668.3,113.0L677.3,109.9L667.9,108.6z" fill="#f8f900"/>
<path d="M400.4,215.1L409.7,211.3L418.8,198.7L409.4,202.2z" fill="#c3c400"/>
<path d="M198.4,406.1L207.8,399.9L216.8,390.2L207.4,396.0z" fill="#2e64ff"/>
<path d="M327.0,293.5L336.4,285.8L345.4,274.6L336.1,281.9z" fill="#00c3ae"/>
<path d="M492.5,152.4L501.8,152.2L510.9,142.7L501.5,142.8z" fill="#ffd600"/>
<path d="M584.9,124.1L594.3,124.2L603.3,118.3L593.9,117.8z" fill="#f8f100"/>
<path d="M474.0,162.8L483.4,162.3L492.5,152.4L483.1,152.9z" fill="#ffcb0f"/>
<path d="M418.8,198.7L428.2,196.3L437.2,184.7L427.8,186.6z" fill="#edbe00"/>
<path d="M372.9,245.2L382.3,239.7L391.3,227.8L381.9,233.1z" fill="#35cd53"/>
<path d="M538.7,135.9L548.0,137.0L557.1,129.6L547.7,128.3z" fill="#fbe500"/>
<path d="M455.6,173.1L465.0,172.7L474.0,162.8L464.7,163.2z" fill="#ffc126"/>
<path d="M216.8,390.2L226.2,384.2L235.2,375.6L225.9,381.5z" fill="#0075ff"/>
<path d="M807.3,111.9L816.6,113.2L825.7,110.5L816.3,109.2z" fill="#f8f900"/>
<path d="M437.2,184.7L446.6,183.6L455.6,173.1L446.2,173.9z" fill="#ffbb23"/>
<path d="M299.5,323.1L308.9,315.1L318.0,304.7L308.6,312.5z" fill="#00b5d4"/>
<path d="M779.5,112.0L788.8,113.3L797.9,110.6L788.5,109.3z" fill="#f8f900"/>
<path d="M751.7,112.2L761.0,113.5L770.1,110.8L760.7,109.5z" fill="#f8f900"/>
<path d="M612.7,118.8L622.1,119.1L631.1,114.4L621.7,113.6z" fill="#f8f500"/>
<path d="M170.9,434.9L180.3,427.7L189.4,416.7L180.0,423.3z" fill="#4548f2"/>
<path d="M235.2,375.6L244.6,369.5L253.7,361.9L244.3,368.0z" fill="#0085fc"/>
<path d="M723.9,112.3L733.2,113.6L742.3,111.0L732.9,109.7z" fill="#f8f900"/>
<path d="M696.1,112.4L705.5,113.7L714.5,111.0L705.1,109.7z" fill="#f8f900"/>
<path d="M566.5,130.4L575.8,130.6L584.9,124.1L575.5,123.6z" fill="#f9ec00"/>
<path d="M345.4,274.6L354.8,267.6L363.9,256.5L354.5,263.2z" fill="#00ca91"/>
<path d="M640.5,115.1L649.9,115.7L658.9,112.1L649.5,111.0z" fill="#f8f800"/>
<path d="M520.3,143.3L529.6,144.1L538.7,135.9L529.3,134.7z" fill="#ffdf00"/>
<path d="M668.3,113.0L677.7,114.0L686.7,111.2L677.3,109.9z" fill="#f8f900"/>
<path d="M253.7,361.9L263.0,355.4L272.1,347.8L262.7,354.3z" fill="#0093f2"/>
<path d="M391.3,227.8L400.7,223.6L409.7,211.3L400.4,215.1z" fill="#9ac924"/>
<path d="M501.8,152.2L511.2,152.4L520.3,143.3L510.9,142.7z" fill="#ffd700"/>
<path d="M318.0,304.7L327.3,296.6L336.4,285.8L327.0,293.5z" fill="#00bfbb"/>
<path d="M272.1,347.8L281.5,340.6L290.5,332.4L281.1,339.7z" fill="#00a1e8"/>
<path d="M189.4,416.7L198.7,410.1L207.8,399.9L198.4,406.1z" fill="#395bfe"/>
<path d="M594.3,124.2L603.6,124.3L612.7,118.8L603.3,118.3z" fill="#f8f200"/>
<path d="M548.0,137.0L557.4,137.5L566.5,130.4L557.1,129.6z" fill="#fbe500"/>
<path d="M409.7,211.3L419.1,208.3L428.2,196.3L418.8,198.7z" fill="#d1c200"/>
<path d="M483.4,162.3L492.8,161.8L501.8,152.2L492.5,152.4z" fill="#ffcd09"/>
<path d="M816.6,113.2L826.0,114.4L835.1,111.8L825.7,110.5z" fill="#f8f900"/>
<path d="M363.9,256.5L373.2,250.8L382.3,239.7L372.9,245.2z" fill="#00ce6d"/>
<path d="M788.8,113.3L798.2,114.6L807.3,111.9L797.9,110.6z" fill="#f8f900"/>
<path d="M465.0,172.7L474.4,172.1L483.4,162.3L474.0,162.8z" fill="#ffc322"/>
<path d="M761.0,113.5L770.4,114.7L779.5,112.0L770.1,110.8z" fill="#f8f900"/>
<path d="M428.2,196.3L437.5,194.7L446.6,183.6L437.2,184.7z" fill="#f3bd02"/>
<path d="M446.6,183.6L456.0,182.9L465.0,172.7L455.6,173.1z" fill="#ffbb28"/>
<path d="M622.1,119.1L631.4,119.5L640.5,115.1L631.1,114.4z" fill="#f8f600"/>
<path d="M733.2,113.6L742.6,114.9L751.7,112.2L742.3,111.0z" fill="#f8f900"/>
<circle cx="566.5" cy="130.4" r="4.4" fill="#000" stroke="none"/>
<path d="M161.9,447.2L171.3,439.3L180.3,427.7L170.9,434.9z" fill="#483ee9"/>
<path d="M207.8,399.9L217.2,393.7L226.2,384.2L216.8,390.2z" fill="#0f6dff"/>
<path d="M290.5,332.4L299.9,324.4L308.9,315.1L299.5,323.1z" fill="#00afdd"/>
<path d="M705.5,113.7L714.8,115.0L723.9,112.3L714.5,111.0z" fill="#f8f900"/>
<path d="M529.6,144.1L539.0,144.8L548.0,137.0L538.7,135.9z" fill="#ffdf00"/>
<path d="M649.9,115.7L659.2,116.2L668.3,113.0L658.9,112.1z" fill="#f8f800"/>
<path d="M677.7,114.0L687.0,115.0L696.1,112.4L686.7,111.2z" fill="#f8f900"/>
<path d="M575.8,130.6L585.2,130.4L594.3,124.2L584.9,124.1z" fill="#f9ed00"/>
<path d="M382.3,239.7L391.6,235.2L400.7,223.6L391.3,227.8z" fill="#64cc44"/>
<path d="M336.4,285.8L345.8,278.4L354.8,267.6L345.4,274.6z" fill="#00c7a1"/>
<path d="M226.2,384.2L235.6,378.0L244.6,369.5L235.2,375.6z" fill="#007fff"/>
<path d="M511.2,152.4L520.6,152.8L529.6,144.1L520.3,143.3z" fill="#ffd700"/>
<circle cx="382.3" cy="239.7" r="4.4" fill="#000" stroke="none"/>
<path d="M826.0,114.4L835.4,115.7L844.4,113.0L835.1,111.8z" fill="#f8f900"/>
<path d="M603.6,124.3L613.0,124.2L622.1,119.1L612.7,118.8z" fill="#f8f300"/>
<path d="M400.7,223.6L410.1,220.1L419.1,208.3L409.7,211.3z" fill="#adc714"/>
<path d="M244.6,369.5L254.0,363.1L263.0,355.4L253.7,361.9z" fill="#008df6"/>
<path d="M557.4,137.5L566.8,137.3L575.8,130.6L566.5,130.4z" fill="#fbe700"/>
<path d="M308.9,315.1L318.3,306.8L327.3,296.6L318.0,304.7z" fill="#00bbc7"/>
<path d="M180.3,427.7L189.7,420.7L198.7,410.1L189.4,416.7z" fill="#4052f9"/>
<circle cx="844.4" cy="113.0" r="4.4" fill="#000" stroke="none"/>
<path d="M798.2,114.6L807.6,115.9L816.6,113.2L807.3,111.9z" fill="#f8f900"/>
<path d="M492.8,161.8L502.2,161.7L511.2,152.4L501.8,152.2z" fill="#ffcf05"/>
<path d="M770.4,114.7L779.8,116.0L788.8,113.3L779.5,112.0z" fill="#f8f900"/>
<path d="M354.8,267.6L364.2,261.4L373.2,250.8L363.9,256.5z" fill="#00cd81"/>
<path d="M742.6,114.9L752.0,116.2L761.0,113.5L751.7,112.2z" fill="#f8f900"/>
<path d="M474.4,172.1L483.7,171.4L492.8,161.8L483.4,162.3z" fill="#ffc51f"/>
<path d="M419.1,208.3L428.5,206.0L437.5,194.7L428.2,196.3z" fill="#dac000"/>
<path d="M263.0,355.4L272.4,348.4L281.5,340.6L272.1,347.8z" fill="#009cec"/>
<path d="M631.4,119.5L640.8,119.7L649.9,115.7L640.5,115.1z" fill="#f8f700"/>
<path d="M714.8,115.0L724.2,116.3L733.2,113.6L723.9,112.3z" fill="#f8f900"/>
<path d="M152.8,460.0L162.2,451.4L171.3,439.3L161.9,447.2z" fill="#4834da"/>
<path d="M456.0,182.9L465.3,182.0L474.4,172.1L465.0,172.7z" fill="#ffbc2a"/>
<path d="M437.5,194.7L446.9,193.5L456.0,182.9L446.6,183.6z" fill="#f8bc0d"/>
<path d="M687.0,115.0L696.4,116.1L705.5,113.7L696.1,112.4z" fill="#f8f900"/>
<circle cx="152.8" cy="460.0" r="4.4" fill="#000" stroke="none"/>
<path d="M659.2,116.2L668.6,116.8L677.7,114.0L668.3,113.0z" fill="#f8f900"/>
<path d="M539.0,144.8L548.4,144.9L557.4,137.5L548.0,137.0z" fill="#ffe000"/>
<circle cx="705.5" cy="113.7" r="4.4" fill="#000" stroke="none"/>
<path d="M585.2,130.4L594.6,130.0L603.6,124.3L594.3,124.2z" fill="#f8ee00"/>
<path d="M198.7,410.1L208.1,403.5L217.2,393.7L207.8,399.9z" fill="#2c65ff"/>
<path d="M373.2,250.8L382.6,245.8L391.6,235.2L382.3,239.7z" fill="#00ce5d"/>
<path d="M281.5,340.6L290.8,332.8L299.9,324.4L290.5,332.4z" fill="#00aae3"/>
<path d="M327.3,296.6L336.7,288.8L345.8,278.4L336.4,285.8z" fill="#00c3ae"/>
<path d="M520.6,152.8L530.0,153.0L539.0,144.8L529.6,144.1z" fill="#ffd800"/>
<path d="M835.4,115.7L844.8,117.0L853.8,114.3L844.4,113.0z" fill="#f8f900"/>
<circle cx="474.4" cy="172.1" r="4.4" fill="#000" stroke="none"/>
<path d="M807.6,115.9L817.0,117.1L826.0,114.4L816.6,113.2z" fill="#f8f900"/>
<path d="M613.0,124.2L622.4,124.2L631.4,119.5L622.1,119.1z" fill="#f8f400"/>
<path d="M391.6,235.2L401.0,231.1L410.1,220.1L400.7,223.6z" fill="#81cb34"/>
<path d="M217.2,393.7L226.5,387.3L235.6,378.0L226.2,384.2z" fill="#0077ff"/>
<path d="M779.8,116.0L789.2,117.3L798.2,114.6L788.8,113.3z" fill="#f8f900"/>
<path d="M566.8,137.3L576.2,136.8L585.2,130.4L575.8,130.6z" fill="#fae900"/>
<path d="M171.3,439.3L180.6,431.7L189.7,420.7L180.3,427.7z" fill="#4548f2"/>
<path d="M502.2,161.7L511.5,161.7L520.6,152.8L511.2,152.4z" fill="#ffd001"/>
<path d="M752.0,116.2L761.4,117.4L770.4,114.7L761.0,113.5z" fill="#f8f900"/>
<path d="M299.9,324.4L309.3,316.2L318.3,306.8L308.9,315.1z" fill="#00b6d2"/>
<path d="M724.2,116.3L733.6,117.6L742.6,114.9L733.2,113.6z" fill="#f8f900"/>
<path d="M345.8,278.4L355.1,271.7L364.2,261.4L354.8,267.6z" fill="#00ca92"/>
<path d="M640.8,119.7L650.2,119.7L659.2,116.2L649.9,115.7z" fill="#f8f800"/>
<path d="M410.1,220.1L419.4,217.1L428.5,206.0L419.1,208.3z" fill="#bbc503"/>
<path d="M696.4,116.1L705.8,117.3L714.8,115.0L705.5,113.7z" fill="#f8f900"/>
<path d="M483.7,171.4L493.1,171.1L502.2,161.7L492.8,161.8z" fill="#ffc61b"/>
<path d="M235.6,378.0L244.9,371.6L254.0,363.1L244.6,369.5z" fill="#0088fb"/>
<path d="M668.6,116.8L678.0,117.4L687.0,115.0L677.7,114.0z" fill="#f8f900"/>
<path d="M465.3,182.0L474.7,181.1L483.7,171.4L474.4,172.1z" fill="#ffbe29"/>
<path d="M548.4,144.9L557.8,144.4L566.8,137.3L557.4,137.5z" fill="#fde200"/>
<path d="M428.5,206.0L437.9,204.2L446.9,193.5L437.5,194.7z" fill="#e2bf00"/>
<path d="M446.9,193.5L456.3,192.2L465.3,182.0L456.0,182.9z" fill="#febc17"/>
<path d="M594.6,130.0L604.0,129.6L613.0,124.2L603.6,124.3z" fill="#f8f000"/>
<path d="M254.0,363.1L263.4,356.2L272.4,348.4L263.0,355.4z" fill="#0096f0"/>
<path d="M189.7,420.7L199.1,413.8L208.1,403.5L198.7,410.1z" fill="#395cfe"/>
<path d="M364.2,261.4L373.6,256.0L382.6,245.8L373.2,250.8z" fill="#00ce72"/>
<path d="M844.8,117.0L854.1,118.3L863.2,115.6L853.8,114.3z" fill="#f8f900"/>
<path d="M318.3,306.8L327.7,298.8L336.7,288.8L327.3,296.6z" fill="#00c0ba"/>
<path d="M530.0,153.0L539.3,152.8L548.4,144.9L539.0,144.8z" fill="#ffda00"/>
<path d="M817.0,117.1L826.3,118.4L835.4,115.7L826.0,114.4z" fill="#f8f900"/>
<path d="M789.2,117.3L798.5,118.6L807.6,115.9L798.2,114.6z" fill="#f8f900"/>
<path d="M622.4,124.2L631.8,124.0L640.8,119.7L631.4,119.5z" fill="#f8f500"/>
<path d="M761.4,117.4L770.8,118.7L779.8,116.0L770.4,114.7z" fill="#f8f900"/>
<path d="M272.4,348.4L281.8,340.8L290.8,332.8L281.5,340.6z" fill="#00a4e6"/>
<path d="M382.6,245.8L392.0,241.3L401.0,231.1L391.6,235.2z" fill="#49cd4e"/>
<path d="M733.6,117.6L743.0,118.8L752.0,116.2L742.6,114.9z" fill="#f8f900"/>
<path d="M576.2,136.8L585.6,136.0L594.6,130.0L585.2,130.4z" fill="#f9eb00"/>
<path d="M511.5,161.7L520.9,161.5L530.0,153.0L520.6,152.8z" fill="#ffd100"/>
<path d="M162.2,451.4L171.6,443.2L180.6,431.7L171.3,439.3z" fill="#483ee9"/>
<path d="M705.8,117.3L715.2,118.6L724.2,116.3L714.8,115.0z" fill="#f8f900"/>
<path d="M208.1,403.5L217.5,397.0L226.5,387.3L217.2,393.7z" fill="#066eff"/>
<path d="M650.2,119.7L659.6,119.7L668.6,116.8L659.2,116.2z" fill="#f8f900"/>
<path d="M678.0,117.4L687.4,118.2L696.4,116.1L687.0,115.0z" fill="#f8f900"/>
<path d="M401.0,231.1L410.4,227.6L419.4,217.1L410.1,220.1z" fill="#97c926"/>
<path d="M493.1,171.1L502.5,170.8L511.5,161.7L502.2,161.7z" fill="#ffc818"/>
<path d="M336.7,288.8L346.1,281.7L355.1,271.7L345.8,278.4z" fill="#00c7a1"/>
<path d="M290.8,332.8L300.2,324.7L309.3,316.2L299.9,324.4z" fill="#00b2da"/>
<path d="M474.7,181.1L484.1,180.7L493.1,171.1L483.7,171.4z" fill="#ffbf29"/>
<path d="M557.8,144.4L567.1,143.5L576.2,136.8L566.8,137.3z" fill="#fce400"/>
<path d="M419.4,217.1L428.8,214.6L437.9,204.2L428.5,206.0z" fill="#c7c300"/>
<path d="M456.3,192.2L465.7,191.2L474.7,181.1L465.3,182.0z" fill="#ffbb1f"/>
<path d="M437.9,204.2L447.2,202.4L456.3,192.2L446.9,193.5z" fill="#eabe00"/>
<path d="M226.5,387.3L235.9,380.9L244.9,371.6L235.6,378.0z" fill="#0081fe"/>
<path d="M604.0,129.6L613.3,129.2L622.4,124.2L613.0,124.2z" fill="#f8f200"/>
<path d="M854.1,118.3L863.5,119.6L872.6,116.9L863.2,115.6z" fill="#f8f900"/>
<path d="M826.3,118.4L835.7,119.7L844.8,117.0L835.4,115.7z" fill="#f8f900"/>
<path d="M180.6,431.7L190.0,424.4L199.1,413.8L189.7,420.7z" fill="#4053f9"/>
<path d="M798.5,118.6L807.9,119.8L817.0,117.1L807.6,115.9z" fill="#f8f900"/>
<path d="M539.3,152.8L548.7,151.9L557.8,144.4L548.4,144.9z" fill="#ffdc00"/>
<path d="M355.1,271.7L364.5,265.8L373.6,256.0L364.2,261.4z" fill="#00cc84"/>
<path d="M770.8,118.7L780.1,120.0L789.2,117.3L779.8,116.0z" fill="#f8f900"/>
<path d="M743.0,118.8L752.3,120.1L761.4,117.4L752.0,116.2z" fill="#f8f900"/>
<path d="M309.3,316.2L318.6,308.1L327.7,298.8L318.3,306.8z" fill="#00bcc5"/>
<path d="M244.9,371.6L254.3,364.9L263.4,356.2L254.0,363.1z" fill="#0091f4"/>
<path d="M631.8,124.0L641.1,123.6L650.2,119.7L640.8,119.7z" fill="#f8f700"/>
<path d="M715.2,118.6L724.5,120.0L733.6,117.6L724.2,116.3z" fill="#f8f900"/>
<path d="M520.9,161.5L530.3,160.9L539.3,152.8L530.0,153.0z" fill="#ffd300"/>
<path d="M585.6,136.0L594.9,135.3L604.0,129.6L594.6,130.0z" fill="#f9ed00"/>
<path d="M687.4,118.2L696.7,119.4L705.8,117.3L696.4,116.1z" fill="#f8f900"/>
<path d="M373.6,256.0L382.9,251.0L392.0,241.3L382.6,245.8z" fill="#00ce63"/>
<path d="M659.6,119.7L668.9,119.9L678.0,117.4L668.6,116.8z" fill="#f8f900"/>
<path d="M199.1,413.8L208.4,407.0L217.5,397.0L208.1,403.5z" fill="#2b66ff"/>
<path d="M263.4,356.2L272.7,348.9L281.8,340.8L272.4,348.4z" fill="#009fe9"/>
<circle cx="244.9" cy="371.6" r="4.4" fill="#000" stroke="none"/>
<path d="M502.5,170.8L511.9,170.3L520.9,161.5L511.5,161.7z" fill="#ffca14"/>
<path d="M392.0,241.3L401.4,237.3L410.4,227.6L401.0,231.1z" fill="#6dcc40"/>
<path d="M863.5,119.6L872.9,120.8L881.9,118.1L872.6,116.9z" fill="#f8f900"/>
<path d="M327.7,298.8L337.1,291.5L346.1,281.7L336.7,288.8z" fill="#00c3ad"/>
<path d="M484.1,180.7L493.5,180.3L502.5,170.8L493.1,171.1z" fill="#ffc026"/>
<path d="M567.1,143.5L576.5,142.4L585.6,136.0L576.2,136.8z" fill="#fbe700"/>
<path d="M835.7,119.7L845.1,121.0L854.1,118.3L844.8,117.0z" fill="#f8f900"/>
<path d="M410.4,227.6L419.8,224.5L428.8,214.6L419.4,217.1z" fill="#a8c719"/>
<path d="M613.3,129.2L622.7,128.7L631.8,124.0L622.4,124.2z" fill="#f8f300"/>
<path d="M465.7,191.2L475.0,190.7L484.1,180.7L474.7,181.1z" fill="#ffbb24"/>
<path d="M807.9,119.8L817.3,121.1L826.3,118.4L817.0,117.1z" fill="#f8f900"/>
<path d="M428.8,214.6L438.2,212.4L447.2,202.4L437.9,204.2z" fill="#d2c200"/>
<path d="M447.2,202.4L456.6,201.3L465.7,191.2L456.3,192.2z" fill="#f0bd00"/>
<path d="M281.8,340.8L291.2,333.0L300.2,324.7L290.8,332.8z" fill="#00ade0"/>
<path d="M780.1,120.0L789.5,121.3L798.5,118.6L789.2,117.3z" fill="#f8f900"/>
<path d="M217.5,397.0L226.9,390.4L235.9,380.9L226.5,387.3z" fill="#0079ff"/>
<path d="M171.6,443.2L181.0,435.5L190.0,424.4L180.6,431.7z" fill="#4549f3"/>
<path d="M752.3,120.1L761.7,121.4L770.8,118.7L761.4,117.4z" fill="#f8f900"/>
<path d="M548.7,151.9L558.1,150.5L567.1,143.5L557.8,144.4z" fill="#ffdf00"/>
<path d="M724.5,120.0L733.9,121.3L743.0,118.8L733.6,117.6z" fill="#f8f900"/>
<path d="M346.1,281.7L355.5,275.4L364.5,265.8L355.1,271.7z" fill="#00ca93"/>
<path d="M641.1,123.6L650.5,123.2L659.6,119.7L650.2,119.7z" fill="#f8f800"/>
<path d="M696.7,119.4L706.1,120.7L715.2,118.6L705.8,117.3z" fill="#f8f900"/>
<path d="M668.9,119.9L678.3,120.5L687.4,118.2L678.0,117.4z" fill="#f9fa00"/>
<path d="M530.3,160.9L539.7,159.6L548.7,151.9L539.3,152.8z" fill="#ffd600"/>
<path d="M594.9,135.3L604.3,134.6L613.3,129.2L604.0,129.6z" fill="#f8ef00"/>
<path d="M300.2,324.7L309.6,316.8L318.6,308.1L309.3,316.2z" fill="#00b8ce"/>
<path d="M235.9,380.9L245.3,374.2L254.3,364.9L244.9,371.6z" fill="#008af9"/>
<path d="M364.5,265.8L373.9,260.3L382.9,251.0L373.6,256.0z" fill="#00cd75"/>
<path d="M872.9,120.8L882.3,122.1L891.3,119.4L881.9,118.1z" fill="#f8f900"/>
<path d="M511.9,170.3L521.2,169.3L530.3,160.9L520.9,161.5z" fill="#ffcc0d"/>
<path d="M190.0,424.4L199.4,417.4L208.4,407.0L199.1,413.8z" fill="#385cff"/>
<circle cx="891.3" cy="119.4" r="4.4" fill="#000" stroke="none"/>
<path d="M845.1,121.0L854.5,122.3L863.5,119.6L854.1,118.3z" fill="#f8f900"/>
<circle cx="613.3" cy="129.2" r="4.4" fill="#000" stroke="none"/>
<path d="M817.3,121.1L826.7,122.4L835.7,119.7L826.3,118.4z" fill="#f8f900"/>
<path d="M493.5,180.3L502.8,179.6L511.9,170.3L502.5,170.8z" fill="#ffc223"/>
<path d="M382.9,251.0L392.3,246.4L401.4,237.3L392.0,241.3z" fill="#32cd54"/>
<path d="M789.5,121.3L798.9,122.5L807.9,119.8L798.5,118.6z" fill="#f8f900"/>
<path d="M254.3,364.9L263.7,357.7L272.7,348.9L263.4,356.2z" fill="#009aed"/>
<path d="M576.5,142.4L585.9,141.3L594.9,135.3L585.6,136.0z" fill="#fae900"/>
<path d="M622.7,128.7L632.1,128.1L641.1,123.6L631.8,124.0z" fill="#f8f500"/>
<path d="M318.6,308.1L328.0,300.8L337.1,291.5L327.7,298.8z" fill="#00c0b8"/>
<path d="M475.0,190.7L484.4,190.3L493.5,180.3L484.1,180.7z" fill="#ffbc28"/>
<path d="M761.7,121.4L771.1,122.7L780.1,120.0L770.8,118.7z" fill="#f8f900"/>
<path d="M401.4,237.3L410.7,233.7L419.8,224.5L410.4,227.6z" fill="#86ca32"/>
<path d="M456.6,201.3L466.0,200.8L475.0,190.7L465.7,191.2z" fill="#f5bc05"/>
<path d="M733.9,121.3L743.3,122.6L752.3,120.1L743.0,118.8z" fill="#f8f900"/>
<path d="M419.8,224.5L429.1,221.9L438.2,212.4L428.8,214.6z" fill="#b7c508"/>
<circle cx="752.3" cy="120.1" r="4.4" fill="#000" stroke="none"/>
<path d="M438.2,212.4L447.6,211.0L456.6,201.3L447.2,202.4z" fill="#dac000"/>
<path d="M706.1,120.7L715.5,122.1L724.5,120.0L715.2,118.6z" fill="#f8f900"/>
<path d="M208.4,407.0L217.8,400.4L226.9,390.4L217.5,397.0z" fill="#0070ff"/>
<path d="M650.5,123.2L659.9,123.0L668.9,119.9L659.6,119.7z" fill="#f9f900"/>
<path d="M558.1,150.5L567.5,149.0L576.5,142.4L567.1,143.5z" fill="#fde200"/>
<path d="M272.7,348.9L282.1,341.4L291.2,333.0L281.8,340.8z" fill="#00a8e4"/>
<path d="M678.3,120.5L687.7,121.5L696.7,119.4L687.4,118.2z" fill="#f9fa00"/>
<path d="M337.1,291.5L346.4,284.9L355.5,275.4L346.1,281.7z" fill="#00c7a0"/>
<path d="M604.3,134.6L613.7,134.0L622.7,128.7L613.3,129.2z" fill="#f8f100"/>
<path d="M882.3,122.1L891.6,123.4L900.7,120.7L891.3,119.4z" fill="#f8f900"/>
<path d="M539.7,159.6L549.0,157.8L558.1,150.5L548.7,151.9z" fill="#ffd900"/>
<path d="M854.5,122.3L863.8,123.5L872.9,120.8L863.5,119.6z" fill="#f8f900"/>
<path d="M226.9,390.4L236.2,383.8L245.3,374.2L235.9,380.9z" fill="#0083fd"/>
<path d="M826.7,122.4L836.0,123.7L845.1,121.0L835.7,119.7z" fill="#f8f900"/>
<circle cx="337.1" cy="291.5" r="4.4" fill="#000" stroke="none"/>
<path d="M291.2,333.0L300.5,325.3L309.6,316.8L300.2,324.7z" fill="#00b4d6"/>
<path d="M798.9,122.5L808.3,123.8L817.3,121.1L807.9,119.8z" fill="#f8f900"/>
<path d="M521.2,169.3L530.6,167.6L539.7,159.6L530.3,160.9z" fill="#ffcf02"/>
<path d="M181.0,435.5L190.4,428.1L199.4,417.4L190.0,424.4z" fill="#4053fa"/>
<path d="M355.5,275.4L364.8,269.5L373.9,260.3L364.5,265.8z" fill="#00cc85"/>
<path d="M771.1,122.7L780.5,123.9L789.5,121.3L780.1,120.0z" fill="#f8f900"/>
<path d="M502.8,179.6L512.2,178.3L521.2,169.3L511.9,170.3z" fill="#ffc51e"/>
<path d="M743.3,122.6L752.7,124.0L761.7,121.4L752.3,120.1z" fill="#f8f900"/>
<path d="M632.1,128.1L641.5,127.4L650.5,123.2L641.1,123.6z" fill="#f8f700"/>
<path d="M585.9,141.3L595.3,140.5L604.3,134.6L594.9,135.3z" fill="#f9eb00"/>
<path d="M484.4,190.3L493.8,189.6L502.8,179.6L493.5,180.3z" fill="#ffbc2a"/>
<path d="M715.5,122.1L724.9,123.6L733.9,121.3L724.5,120.0z" fill="#f8f900"/>
<path d="M373.9,260.3L383.3,255.3L392.3,246.4L382.9,251.0z" fill="#00ce66"/>
<path d="M466.0,200.8L475.4,200.4L484.4,190.3L475.0,190.7z" fill="#f9bc0f"/>
<path d="M245.3,374.2L254.7,367.3L263.7,357.7L254.3,364.9z" fill="#0094f2"/>
<path d="M309.6,316.8L319.0,309.6L328.0,300.8L318.6,308.1z" fill="#00bdc2"/>
<path d="M447.6,211.0L456.9,210.5L466.0,200.8L456.6,201.3z" fill="#e0c000"/>
<path d="M687.7,121.5L697.1,122.9L706.1,120.7L696.7,119.4z" fill="#f9fa00"/>
<path d="M659.9,123.0L669.3,123.3L678.3,120.5L668.9,119.9z" fill="#f9fa00"/>
<path d="M392.3,246.4L401.7,242.3L410.7,233.7L401.4,237.3z" fill="#5fcc46"/>
<path d="M429.1,221.9L438.5,220.2L447.6,211.0L438.2,212.4z" fill="#c1c400"/>
<path d="M410.7,233.7L420.1,230.6L429.1,221.9L419.8,224.5z" fill="#99c924"/>
<path d="M199.4,417.4L208.8,410.6L217.8,400.4L208.4,407.0z" fill="#2966ff"/>
<path d="M891.6,123.4L901.0,124.7L910.1,122.0L900.7,120.7z" fill="#f8f900"/>
<circle cx="521.2" cy="169.3" r="4.4" fill="#000" stroke="none"/>
<path d="M567.5,149.0L576.8,147.6L585.9,141.3L576.5,142.4z" fill="#fbe500"/>
<path d="M863.8,123.5L873.2,124.8L882.3,122.1L872.9,120.8z" fill="#f8f900"/>
<path d="M613.7,134.0L623.1,133.4L632.1,128.1L622.7,128.7z" fill="#f8f300"/>
<path d="M836.0,123.7L845.4,124.9L854.5,122.3L845.1,121.0z" fill="#f8f900"/>
<path d="M263.7,357.7L273.1,350.5L282.1,341.4L272.7,348.9z" fill="#00a3e7"/>
<path d="M328.0,300.8L337.4,294.1L346.4,284.9L337.1,291.5z" fill="#00c4ac"/>
<path d="M808.3,123.8L817.6,125.1L826.7,122.4L817.3,121.1z" fill="#f8f900"/>
<path d="M780.5,123.9L789.8,125.2L798.9,122.5L789.5,121.3z" fill="#f8f900"/>
<path d="M549.0,157.8L558.4,155.8L567.5,149.0L558.1,150.5z" fill="#ffdd00"/>
<path d="M752.7,124.0L762.0,125.3L771.1,122.7L761.7,121.4z" fill="#f8f900"/>
<path d="M217.8,400.4L227.2,393.8L236.2,383.8L226.9,390.4z" fill="#007aff"/>
<circle cx="429.1" cy="221.9" r="4.4" fill="#000" stroke="none"/>
<path d="M724.9,123.6L734.2,125.0L743.3,122.6L733.9,121.3z" fill="#f8f900"/>
<path d="M530.6,167.6L540.0,165.3L549.0,157.8L539.7,159.6z" fill="#ffd300"/>
<path d="M346.4,284.9L355.8,278.7L364.8,269.5L355.5,275.4z" fill="#00ca93"/>
<path d="M641.5,127.4L650.9,127.1L659.9,123.0L650.5,123.2z" fill="#f8f900"/>
<path d="M282.1,341.4L291.5,334.1L300.5,325.3L291.2,333.0z" fill="#00b0dd"/>
<path d="M595.3,140.5L604.6,139.9L613.7,134.0L604.3,134.6z" fill="#f9ee00"/>
<path d="M512.2,178.3L521.6,176.1L530.6,167.6L521.2,169.3z" fill="#ffc916"/>
<path d="M697.1,122.9L706.4,124.4L715.5,122.1L706.1,120.7z" fill="#f9fa00"/>
<path d="M493.8,189.6L503.2,188.0L512.2,178.3L502.8,179.6z" fill="#ffbe29"/>
<path d="M475.4,200.4L484.7,199.6L493.8,189.6L484.4,190.3z" fill="#febc18"/>
<path d="M669.3,123.3L678.6,124.2L687.7,121.5L678.3,120.5z" fill="#f9fb00"/>
<path d="M456.9,210.5L466.3,210.1L475.4,200.4L466.0,200.8z" fill="#e5bf00"/>
<path d="M901.0,124.7L910.4,125.9L919.4,123.3L910.1,122.0z" fill="#f8f900"/>
<path d="M236.2,383.8L245.6,377.1L254.7,367.3L245.3,374.2z" fill="#008cf7"/>
<path d="M364.8,269.5L374.2,264.0L383.3,255.3L373.9,260.3z" fill="#00cd76"/>
<path d="M873.2,124.8L882.6,126.1L891.6,123.4L882.3,122.1z" fill="#f8f900"/>
<path d="M438.5,220.2L447.9,219.4L456.9,210.5L447.6,211.0z" fill="#c8c300"/>
<path d="M845.4,124.9L854.8,126.2L863.8,123.5L854.5,122.3z" fill="#f8f900"/>
<path d="M190.4,428.1L199.7,421.2L208.8,410.6L199.4,417.4z" fill="#385dff"/>
<path d="M300.5,325.3L309.9,318.3L319.0,309.6L309.6,316.8z" fill="#00bacb"/>
<path d="M576.8,147.6L586.2,146.6L595.3,140.5L585.9,141.3z" fill="#fae800"/>
<path d="M817.6,125.1L827.0,126.4L836.0,123.7L826.7,122.4z" fill="#f8f900"/>
<path d="M383.3,255.3L392.6,250.7L401.7,242.3L392.3,246.4z" fill="#20ce57"/>
<path d="M420.1,230.6L429.5,228.4L438.5,220.2L429.1,221.9z" fill="#a7c71a"/>
<path d="M401.7,242.3L411.1,238.7L420.1,230.6L410.7,233.7z" fill="#7acb39"/>
<path d="M789.8,125.2L799.2,126.5L808.3,123.8L798.9,122.5z" fill="#f8f900"/>
<path d="M623.1,133.4L632.4,132.7L641.5,127.4L632.1,128.1z" fill="#f8f500"/>
<path d="M762.0,125.3L771.4,126.6L780.5,123.9L771.1,122.7z" fill="#f8f900"/>
<path d="M734.2,125.0L743.6,126.4L752.7,124.0L743.3,122.6z" fill="#f8f900"/>
<path d="M254.7,367.3L264.0,360.3L273.1,350.5L263.7,357.7z" fill="#009ceb"/>
<path d="M319.0,309.6L328.3,302.9L337.4,294.1L328.0,300.8z" fill="#00c1b6"/>
<path d="M558.4,155.8L567.8,154.1L576.8,147.6L567.5,149.0z" fill="#fee000"/>
<path d="M706.4,124.4L715.8,126.0L724.9,123.6L715.5,122.1z" fill="#f9f900"/>
<path d="M208.8,410.6L218.1,404.1L227.2,393.8L217.8,400.4z" fill="#0070ff"/>
<path d="M650.9,127.1L660.2,127.2L669.3,123.3L659.9,123.0z" fill="#f9fa00"/>
<path d="M678.6,124.2L688.0,125.5L697.1,122.9L687.7,121.5z" fill="#f9fb00"/>
<path d="M604.6,139.9L614.0,139.3L623.1,133.4L613.7,134.0z" fill="#f8f000"/>
<path d="M540.0,165.3L549.4,162.8L558.4,155.8L549.0,157.8z" fill="#ffd700"/>
<path d="M910.4,125.9L919.8,127.2L928.8,124.5L919.4,123.3z" fill="#f8f900"/>
<path d="M337.4,294.1L346.8,287.8L355.8,278.7L346.4,284.9z" fill="#00c79f"/>
<path d="M882.6,126.1L892.0,127.4L901.0,124.7L891.6,123.4z" fill="#f8f900"/>
<path d="M484.7,199.6L494.1,197.8L503.2,188.0L493.8,189.6z" fill="#ffbb22"/>
<path d="M521.6,176.1L531.0,173.1L540.0,165.3L530.6,167.6z" fill="#ffcd0a"/>
<path d="M273.1,350.5L282.5,343.5L291.5,334.1L282.1,341.4z" fill="#00abe2"/>
<path d="M503.2,188.0L512.5,185.1L521.6,176.1L512.2,178.3z" fill="#ffc224"/>
<path d="M466.3,210.1L475.7,209.2L484.7,199.6L475.4,200.4z" fill="#ebbe00"/>
<path d="M854.8,126.2L864.2,127.5L873.2,124.8L863.8,123.5z" fill="#f8f900"/>
<path d="M827.0,126.4L836.4,127.6L845.4,124.9L836.0,123.7z" fill="#f8f900"/>
<path d="M447.9,219.4L457.3,218.9L466.3,210.1L456.9,210.5z" fill="#cec200"/>
<path d="M227.2,393.8L236.6,387.3L245.6,377.1L236.2,383.8z" fill="#0084fd"/>
<path d="M799.2,126.5L808.6,127.8L817.6,125.1L808.3,123.8z" fill="#f8f900"/>
<path d="M355.8,278.7L365.2,273.0L374.2,264.0L364.8,269.5z" fill="#00cc84"/>
<path d="M771.4,126.6L780.8,127.9L789.8,125.2L780.5,123.9z" fill="#f8f900"/>
<path d="M586.2,146.6L595.6,146.0L604.6,139.9L595.3,140.5z" fill="#f9ea00"/>
<path d="M632.4,132.7L641.8,132.4L650.9,127.1L641.5,127.4z" fill="#f8f700"/>
<path d="M743.6,126.4L753.0,127.8L762.0,125.3L752.7,124.0z" fill="#f8f900"/>
<path d="M429.5,228.4L438.9,227.2L447.9,219.4L438.5,220.2z" fill="#b0c611"/>
<path d="M291.5,334.1L300.9,327.2L309.9,318.3L300.5,325.3z" fill="#00b6d3"/>
<path d="M715.8,126.0L725.2,127.5L734.2,125.0L724.9,123.6z" fill="#f8f900"/>
<path d="M374.2,264.0L383.6,259.1L392.6,250.7L383.3,255.3z" fill="#00ce67"/>
<path d="M411.1,238.7L420.4,236.0L429.5,228.4L420.1,230.6z" fill="#8dca2d"/>
<path d="M392.6,250.7L402.0,246.6L411.1,238.7L401.7,242.3z" fill="#56cd49"/>
<path d="M688.0,125.5L697.4,127.1L706.4,124.4L697.1,122.9z" fill="#f9fa00"/>
<path d="M245.6,377.1L255.0,370.5L264.0,360.3L254.7,367.3z" fill="#0095f1"/>
<path d="M660.2,127.2L669.6,127.9L678.6,124.2L669.3,123.3z" fill="#f9fb00"/>
<path d="M567.8,154.1L577.2,152.8L586.2,146.6L576.8,147.6z" fill="#fce300"/>
<path d="M919.8,127.2L929.1,128.5L938.2,125.8L928.8,124.5z" fill="#f8f900"/>
<path d="M199.7,421.2L209.1,414.7L218.1,404.1L208.8,410.6z" fill="#2867ff"/>
<circle cx="938.2" cy="125.8" r="4.4" fill="#000" stroke="none"/>
<path d="M892.0,127.4L901.4,128.6L910.4,125.9L901.0,124.7z" fill="#f8f900"/>
<path d="M309.9,318.3L319.3,311.6L328.3,302.9L319.0,309.6z" fill="#00bebf"/>
<path d="M614.0,139.3L623.4,139.0L632.4,132.7L623.1,133.4z" fill="#f8f200"/>
<path d="M864.2,127.5L873.6,128.8L882.6,126.1L873.2,124.8z" fill="#f8f900"/>
<path d="M836.4,127.6L845.8,128.9L854.8,126.2L845.4,124.9z" fill="#f8f900"/>
<path d="M549.4,162.8L558.8,160.6L567.8,154.1L558.4,155.8z" fill="#ffdb00"/>
<path d="M808.6,127.8L818.0,129.1L827.0,126.4L817.6,125.1z" fill="#f8f900"/>
<circle cx="199.7" cy="421.2" r="4.4" fill="#000" stroke="none"/>
<path d="M475.7,209.2L485.1,207.1L494.1,197.8L484.7,199.6z" fill="#f4bd03"/>
<path d="M780.8,127.9L790.2,129.2L799.2,126.5L789.8,125.2z" fill="#f8f900"/>
<path d="M264.0,360.3L273.4,353.6L282.5,343.5L273.1,350.5z" fill="#00a4e6"/>
<path d="M328.3,302.9L337.7,296.4L346.8,287.8L337.4,294.1z" fill="#00c4aa"/>
<path d="M494.1,197.8L503.5,194.3L512.5,185.1L503.2,188.0z" fill="#ffbc2a"/>
<circle cx="799.2" cy="126.5" r="4.4" fill="#000" stroke="none"/>
<path d="M457.3,218.9L466.7,217.8L475.7,209.2L466.3,210.1z" fill="#d6c100"/>
<path d="M753.0,127.8L762.4,129.2L771.4,126.6L762.0,125.3z" fill="#f8f900"/>
<path d="M531.0,173.1L540.3,169.9L549.4,162.8L540.0,165.3z" fill="#ffd200"/>
<path d="M512.5,185.1L521.9,181.3L531.0,173.1L521.6,176.1z" fill="#ffc71a"/>
<path d="M218.1,404.1L227.5,397.8L236.6,387.3L227.2,393.8z" fill="#007bff"/>
<path d="M595.6,146.0L605.0,145.7L614.0,139.3L604.6,139.9z" fill="#f9ec00"/>
<path d="M725.2,127.5L734.6,128.9L743.6,126.4L734.2,125.0z" fill="#f8f900"/>
<path d="M641.8,132.4L651.2,132.4L660.2,127.2L650.9,127.1z" fill="#f8f900"/>
<path d="M438.9,227.2L448.2,226.2L457.3,218.9L447.9,219.4z" fill="#b7c508"/>
<path d="M697.4,127.1L706.8,128.7L715.8,126.0L706.4,124.4z" fill="#f9fa00"/>
<path d="M346.8,287.8L356.1,281.8L365.2,273.0L355.8,278.7z" fill="#00ca92"/>
<path d="M669.6,127.9L679.0,129.1L688.0,125.5L678.6,124.2z" fill="#f9fb00"/>
<circle cx="660.2" cy="127.2" r="4.4" fill="#000" stroke="none"/>
<path d="M282.5,343.5L291.8,336.9L300.9,327.2L291.5,334.1z" fill="#00b1da"/>
<path d="M901.4,128.6L910.7,129.9L919.8,127.2L910.4,125.9z" fill="#f8f900"/>
<path d="M420.4,236.0L429.8,234.1L438.9,227.2L429.5,228.4z" fill="#99c925"/>
<path d="M365.2,273.0L374.6,267.7L383.6,259.1L374.2,264.0z" fill="#00cd76"/>
<path d="M873.6,128.8L882.9,130.1L892.0,127.4L882.6,126.1z" fill="#f8f900"/>
<path d="M236.6,387.3L245.9,381.0L255.0,370.5L245.6,377.1z" fill="#008df7"/>
<path d="M577.2,152.8L586.5,152.3L595.6,146.0L586.2,146.6z" fill="#fbe600"/>
<path d="M845.8,128.9L855.1,130.2L864.2,127.5L854.8,126.2z" fill="#f8f900"/>
<path d="M623.4,139.0L632.8,138.7L641.8,132.4L632.4,132.7z" fill="#f8f400"/>
<path d="M383.6,259.1L393.0,254.6L402.0,246.6L392.6,250.7z" fill="#18ce58"/>
<path d="M402.0,246.6L411.4,243.3L420.4,236.0L411.1,238.7z" fill="#72cc3d"/>
<path d="M818.0,129.1L827.3,130.3L836.4,127.6L827.0,126.4z" fill="#f8f900"/>
<path d="M790.2,129.2L799.5,130.5L808.6,127.8L799.2,126.5z" fill="#f8f900"/>
<path d="M300.9,327.2L310.2,320.7L319.3,311.6L309.9,318.3z" fill="#00bbc8"/>
<path d="M762.4,129.2L771.7,130.5L780.8,127.9L771.4,126.6z" fill="#f8f900"/>
<path d="M558.8,160.6L568.1,159.1L577.2,152.8L567.8,154.1z" fill="#ffdf00"/>
<path d="M734.6,128.9L744.0,130.3L753.0,127.8L743.6,126.4z" fill="#f8f900"/>
<path d="M255.0,370.5L264.4,364.1L273.4,353.6L264.0,360.3z" fill="#009deb"/>
<path d="M651.2,132.4L660.6,133.0L669.6,127.9L660.2,127.2z" fill="#f8f900"/>
<path d="M706.8,128.7L716.2,130.3L725.2,127.5L715.8,126.0z" fill="#f9fa00"/>
<path d="M605.0,145.7L614.3,145.6L623.4,139.0L614.0,139.3z" fill="#f9ee00"/>
<path d="M466.7,217.8L476.0,215.6L485.1,207.1L475.7,209.2z" fill="#e0bf00"/>
<path d="M209.1,414.7L218.5,408.7L227.5,397.8L218.1,404.1z" fill="#0070ff"/>
<path d="M485.1,207.1L494.4,203.3L503.5,194.3L494.1,197.8z" fill="#ffbb1a"/>
<path d="M679.0,129.1L688.4,130.6L697.4,127.1L688.0,125.5z" fill="#f9fa00"/>
<path d="M319.3,311.6L328.7,305.1L337.7,296.4L328.3,302.9z" fill="#00c2b3"/>
<path d="M540.3,169.9L549.7,167.1L558.8,160.6L549.4,162.8z" fill="#ffd600"/>
<path d="M503.5,194.3L512.9,189.7L521.9,181.3L512.5,185.1z" fill="#ffc026"/>
<path d="M910.7,129.9L920.1,131.2L929.1,128.5L919.8,127.2z" fill="#f8f900"/>
<path d="M448.2,226.2L457.6,224.9L466.7,217.8L457.3,218.9z" fill="#c0c400"/>
<path d="M521.9,181.3L531.3,177.2L540.3,169.9L531.0,173.1z" fill="#ffcc0c"/>
<path d="M882.9,130.1L892.3,131.3L901.4,128.6L892.0,127.4z" fill="#f8f900"/>
<path d="M855.1,130.2L864.5,131.5L873.6,128.8L864.2,127.5z" fill="#f8f900"/>
<path d="M337.7,296.4L347.1,290.3L356.1,281.8L346.8,287.8z" fill="#00c79e"/>
<path d="M273.4,353.6L282.8,347.3L291.8,336.9L282.5,343.5z" fill="#00ace1"/>
<path d="M827.3,130.3L836.7,131.6L845.8,128.9L836.4,127.6z" fill="#f8f900"/>
<path d="M586.5,152.3L595.9,152.1L605.0,145.7L595.6,146.0z" fill="#fae800"/>
<path d="M227.5,397.8L236.9,391.9L245.9,381.0L236.6,387.3z" fill="#0084fd"/>
<path d="M799.5,130.5L808.9,131.8L818.0,129.1L808.6,127.8z" fill="#f8f900"/>
<path d="M429.8,234.1L439.2,232.5L448.2,226.2L438.9,227.2z" fill="#a4c81c"/>
<path d="M632.8,138.7L642.1,138.8L651.2,132.4L641.8,132.4z" fill="#f8f600"/>
<path d="M771.7,130.5L781.1,131.9L790.2,129.2L780.8,127.9z" fill="#f8f900"/>
<path d="M356.1,281.8L365.5,276.4L374.6,267.7L365.2,273.0z" fill="#00cc84"/>
<path d="M744.0,130.3L753.3,131.8L762.4,129.2L753.0,127.8z" fill="#f8f900"/>
<path d="M411.4,243.3L420.8,240.6L429.8,234.1L420.4,236.0z" fill="#84ca33"/>
<path d="M716.2,130.3L725.5,131.7L734.6,128.9L725.2,127.5z" fill="#f8f900"/>
<path d="M374.6,267.7L383.9,263.0L393.0,254.6L383.6,259.1z" fill="#00ce67"/>
<path d="M660.6,133.0L669.9,134.0L679.0,129.1L669.6,127.9z" fill="#f9f900"/>
<path d="M291.8,336.9L301.2,330.6L310.2,320.7L300.9,327.2z" fill="#00b7d1"/>
<path d="M688.4,130.6L697.7,132.2L706.8,128.7L697.4,127.1z" fill="#f9fa00"/>
<path d="M568.1,159.1L577.5,158.4L586.5,152.3L577.2,152.8z" fill="#fee100"/>
<path d="M393.0,254.6L402.3,250.8L411.4,243.3L402.0,246.6z" fill="#52cd4b"/>
<path d="M614.3,145.6L623.7,145.6L632.8,138.7L623.4,139.0z" fill="#f8f000"/>
<path d="M245.9,381.0L255.3,374.9L264.4,364.1L255.0,370.5z" fill="#0095f0"/>
<path d="M892.3,131.3L901.7,132.6L910.7,129.9L901.4,128.6z" fill="#f8f900"/>
<circle cx="291.8" cy="336.9" r="4.4" fill="#000" stroke="none"/>
<path d="M864.5,131.5L873.9,132.8L882.9,130.1L873.6,128.8z" fill="#f8f900"/>
<path d="M476.0,215.6L485.4,211.6L494.4,203.3L485.1,207.1z" fill="#efbd00"/>
<path d="M310.2,320.7L319.6,314.3L328.7,305.1L319.3,311.6z" fill="#00bfbd"/>
<path d="M836.7,131.6L846.1,132.9L855.1,130.2L845.8,128.9z" fill="#f8f900"/>
<path d="M549.7,167.1L559.1,165.1L568.1,159.1L558.8,160.6z" fill="#ffda00"/>
<path d="M457.6,224.9L467.0,222.6L476.0,215.6L466.7,217.8z" fill="#cdc200"/>
<path d="M808.9,131.8L818.3,133.0L827.3,130.3L818.0,129.1z" fill="#f8f900"/>
<path d="M494.4,203.3L503.8,198.1L512.9,189.7L503.5,194.3z" fill="#ffbc2a"/>
<path d="M595.9,152.1L605.3,152.3L614.3,145.6L605.0,145.7z" fill="#fae900"/>
<path d="M781.1,131.9L790.5,133.2L799.5,130.5L790.2,129.2z" fill="#f8f900"/>
<path d="M642.1,138.8L651.5,139.1L660.6,133.0L651.2,132.4z" fill="#f8f700"/>
<path d="M264.4,364.1L273.7,358.0L282.8,347.3L273.4,353.6z" fill="#00a5e6"/>
<path d="M531.3,177.2L540.7,173.4L549.7,167.1L540.3,169.9z" fill="#ffd200"/>
<path d="M218.5,408.7L227.9,403.1L236.9,391.9L227.5,397.8z" fill="#007aff"/>
<path d="M753.3,131.8L762.7,133.2L771.7,130.5L762.4,129.2z" fill="#f8f900"/>
<path d="M512.9,189.7L522.2,184.6L531.3,177.2L521.9,181.3z" fill="#ffc71b"/>
<path d="M439.2,232.5L448.6,230.8L457.6,224.9L448.2,226.2z" fill="#afc612"/>
<path d="M328.7,305.1L338.0,299.0L347.1,290.3L337.7,296.4z" fill="#00c5a8"/>
<circle cx="568.1" cy="159.1" r="4.4" fill="#000" stroke="none"/>
<path d="M725.5,131.7L734.9,133.1L744.0,130.3L734.6,128.9z" fill="#f8f900"/>
<path d="M669.9,134.0L679.3,135.2L688.4,130.6L679.0,129.1z" fill="#f8f900"/>
<path d="M697.7,132.2L707.1,133.6L716.2,130.3L706.8,128.7z" fill="#f9fa00"/>
<circle cx="476.0" cy="215.6" r="4.4" fill="#000" stroke="none"/>
<path d="M347.1,290.3L356.5,284.8L365.5,276.4L356.1,281.8z" fill="#00ca91"/>
<path d="M577.5,158.4L586.9,158.3L595.9,152.1L586.5,152.3z" fill="#fce300"/>
<path d="M623.7,145.6L633.1,145.6L642.1,138.8L632.8,138.7z" fill="#f8f100"/>
<path d="M420.8,240.6L430.1,238.4L439.2,232.5L429.8,234.1z" fill="#93c929"/>
<path d="M282.8,347.3L292.2,341.2L301.2,330.6L291.8,336.9z" fill="#00b2da"/>
<path d="M901.7,132.6L911.1,133.9L920.1,131.2L910.7,129.9z" fill="#f8f900"/>
<path d="M236.9,391.9L246.3,386.2L255.3,374.9L245.9,381.0z" fill="#008cf7"/>
<path d="M873.9,132.8L883.3,134.0L892.3,131.3L882.9,130.1z" fill="#f8f900"/>
<path d="M365.5,276.4L374.9,271.5L383.9,263.0L374.6,267.7z" fill="#00cd76"/>
<path d="M846.1,132.9L855.5,134.2L864.5,131.5L855.1,130.2z" fill="#f8f900"/>
<path d="M402.3,250.8L411.7,247.5L420.8,240.6L411.4,243.3z" fill="#6ecc3f"/>
<path d="M383.9,263.0L393.3,258.8L402.3,250.8L393.0,254.6z" fill="#14ce59"/>
<path d="M818.3,133.0L827.7,134.3L836.7,131.6L827.3,130.3z" fill="#f8f900"/>
<path d="M790.5,133.2L799.9,134.5L808.9,131.8L799.5,130.5z" fill="#f8f900"/>
<path d="M559.1,165.1L568.5,164.1L577.5,158.4L568.1,159.1z" fill="#ffdd00"/>
<path d="M762.7,133.2L772.1,134.6L781.1,131.9L771.7,130.5z" fill="#f8f900"/>
<path d="M651.5,139.1L660.9,139.8L669.9,134.0L660.6,133.0z" fill="#f8f700"/>
<path d="M605.3,152.3L614.7,152.4L623.7,145.6L614.3,145.6z" fill="#f9eb00"/>
<path d="M301.2,330.6L310.6,324.3L319.6,314.3L310.2,320.7z" fill="#00bbc6"/>
<path d="M734.9,133.1L744.3,134.5L753.3,131.8L744.0,130.3z" fill="#f8f900"/>
<path d="M255.3,374.9L264.7,369.2L273.7,358.0L264.4,364.1z" fill="#009deb"/>
<path d="M679.3,135.2L688.7,136.5L697.7,132.2L688.4,130.6z" fill="#f8f900"/>
<path d="M707.1,133.6L716.5,134.9L725.5,131.7L716.2,130.3z" fill="#f8f900"/>
<path d="M467.0,222.6L476.4,218.9L485.4,211.6L476.0,215.6z" fill="#dfc000"/>
<path d="M485.4,211.6L494.8,206.3L503.8,198.1L494.4,203.3z" fill="#ffbb1b"/>
<circle cx="383.9" cy="263.0" r="4.4" fill="#000" stroke="none"/>
<path d="M540.7,173.4L550.0,170.8L559.1,165.1L549.7,167.1z" fill="#ffd600"/>
<path d="M448.6,230.8L457.9,228.5L467.0,222.6L457.6,224.9z" fill="#bdc500"/>
<path d="M319.6,314.3L329.0,308.3L338.0,299.0L328.7,305.1z" fill="#00c2b1"/>
<path d="M503.8,198.1L513.2,192.4L522.2,184.6L512.9,189.7z" fill="#ffc125"/>
<path d="M586.9,158.3L596.3,158.5L605.3,152.3L595.9,152.1z" fill="#fce400"/>
<path d="M883.3,134.0L892.6,135.3L901.7,132.6L892.3,131.3z" fill="#f8f900"/>
<path d="M633.1,145.6L642.5,145.8L651.5,139.1L642.1,138.8z" fill="#f8f200"/>
<path d="M522.2,184.6L531.6,180.1L540.7,173.4L531.3,177.2z" fill="#ffcd0b"/>
<path d="M855.5,134.2L864.8,135.4L873.9,132.8L864.5,131.5z" fill="#f8f900"/>
<path d="M273.7,358.0L283.1,352.3L292.2,341.2L282.8,347.3z" fill="#00abe2"/>
<path d="M227.9,403.1L237.2,397.8L246.3,386.2L236.9,391.9z" fill="#0083fe"/>
<path d="M827.7,134.3L837.0,135.6L846.1,132.9L836.7,131.6z" fill="#f8f900"/>
<path d="M430.1,238.4L439.5,236.3L448.6,230.8L439.2,232.5z" fill="#a1c81e"/>
<path d="M338.0,299.0L347.4,293.5L356.5,284.8L347.1,290.3z" fill="#00c89c"/>
<circle cx="846.1" cy="132.9" r="4.4" fill="#000" stroke="none"/>
<path d="M799.9,134.5L809.2,135.7L818.3,133.0L808.9,131.8z" fill="#f8f900"/>
<path d="M772.1,134.6L781.5,135.9L790.5,133.2L781.1,131.9z" fill="#f8f900"/>
<path d="M660.9,139.8L670.3,140.6L679.3,135.2L669.9,134.0z" fill="#f8f700"/>
<path d="M744.3,134.5L753.7,135.9L762.7,133.2L753.3,131.8z" fill="#f8f900"/>
<path d="M356.5,284.8L365.8,280.0L374.9,271.5L365.5,276.4z" fill="#00cc83"/>
<path d="M614.7,152.4L624.1,152.5L633.1,145.6L623.7,145.6z" fill="#f9ec00"/>
<path d="M568.5,164.1L577.8,163.9L586.9,158.3L577.5,158.4z" fill="#ffde00"/>
<path d="M411.7,247.5L421.1,244.7L430.1,238.4L420.8,240.6z" fill="#82cb34"/>
<path d="M688.7,136.5L698.1,137.6L707.1,133.6L697.7,132.2z" fill="#f8f900"/>
<path d="M716.5,134.9L725.9,136.1L734.9,133.1L725.5,131.7z" fill="#f8f900"/>
<path d="M374.9,271.5L384.3,267.4L393.3,258.8L383.9,263.0z" fill="#00ce67"/>
<path d="M292.2,341.2L301.5,335.2L310.6,324.3L301.2,330.6z" fill="#00b7d0"/>
<path d="M393.3,258.8L402.7,255.2L411.7,247.5L402.3,250.8z" fill="#50cd4c"/>
<path d="M246.3,386.2L255.7,380.9L264.7,369.2L255.3,374.9z" fill="#0094f1"/>
<circle cx="707.1" cy="133.6" r="4.4" fill="#000" stroke="none"/>
<path d="M892.6,135.3L902.0,136.6L911.1,133.9L901.7,132.6z" fill="#f8f900"/>
<path d="M596.3,158.5L605.6,158.7L614.7,152.4L605.3,152.3z" fill="#fbe600"/>
<path d="M864.8,135.4L874.2,136.7L883.3,134.0L873.9,132.8z" fill="#f8f900"/>
<path d="M642.5,145.8L651.9,146.1L660.9,139.8L651.5,139.1z" fill="#f8f300"/>
<path d="M550.0,170.8L559.4,169.5L568.5,164.1L559.1,165.1z" fill="#ffd900"/>
<path d="M837.0,135.6L846.4,136.9L855.5,134.2L846.1,132.9z" fill="#f8f900"/>
<path d="M476.4,218.9L485.7,214.3L494.8,206.3L485.4,211.6z" fill="#f2bd00"/>
<path d="M310.6,324.3L320.0,318.4L329.0,308.3L319.6,314.3z" fill="#00bfbb"/>
<path d="M457.9,228.5L467.3,225.5L476.4,218.9L467.0,222.6z" fill="#cfc200"/>
<path d="M809.2,135.7L818.6,137.0L827.7,134.3L818.3,133.0z" fill="#f8f900"/>
<path d="M264.7,369.2L274.1,363.8L283.1,352.3L273.7,358.0z" fill="#00a4e7"/>
<path d="M781.5,135.9L790.8,137.2L799.9,134.5L790.5,133.2z" fill="#f8f900"/>
<path d="M494.8,206.3L504.2,200.6L513.2,192.4L503.8,198.1z" fill="#ffbd2a"/>
<path d="M670.3,140.6L679.6,141.4L688.7,136.5L679.3,135.2z" fill="#f8f700"/>
<path d="M753.7,135.9L763.0,137.3L772.1,134.6L762.7,133.2z" fill="#f8f900"/>
<path d="M531.6,180.1L541.0,176.8L550.0,170.8L540.7,173.4z" fill="#ffd200"/>
<path d="M725.9,136.1L735.2,137.4L744.3,134.5L734.9,133.1z" fill="#f8f900"/>
<path d="M698.1,137.6L707.4,138.6L716.5,134.9L707.1,133.6z" fill="#f8f900"/>
<path d="M439.5,236.3L448.9,234.1L457.9,228.5L448.6,230.8z" fill="#b0c611"/>
<path d="M513.2,192.4L522.6,187.3L531.6,180.1L522.2,184.6z" fill="#ffc818"/>
<path d="M624.1,152.5L633.4,152.4L642.5,145.8L633.1,145.6z" fill="#f9ee00"/>
<path d="M329.0,308.3L338.4,302.8L347.4,293.5L338.0,299.0z" fill="#00c5a6"/>
<path d="M577.8,163.9L587.2,164.0L596.3,158.5L586.9,158.3z" fill="#ffe000"/>
<path d="M237.2,397.8L246.6,392.9L255.7,380.9L246.3,386.2z" fill="#008af9"/>
<path d="M283.1,352.3L292.5,346.7L301.5,335.2L292.2,341.2z" fill="#00b1da"/>
<path d="M347.4,293.5L356.8,288.8L365.8,280.0L356.5,284.8z" fill="#00ca90"/>
<path d="M421.1,244.7L430.5,242.2L439.5,236.3L430.1,238.4z" fill="#94c929"/>
<path d="M874.2,136.7L883.6,138.0L892.6,135.3L883.3,134.0z" fill="#f8f900"/>
<path d="M365.8,280.0L375.2,276.0L384.3,267.4L374.9,271.5z" fill="#00cd77"/>
<path d="M651.9,146.1L661.2,146.4L670.3,140.6L660.9,139.8z" fill="#f8f400"/>
<path d="M846.4,136.9L855.8,138.1L864.8,135.4L855.5,134.2z" fill="#f8f900"/>
<path d="M402.7,255.2L412.1,252.1L421.1,244.7L411.7,247.5z" fill="#6dcc3f"/>
<path d="M605.6,158.7L615.0,158.7L624.1,152.5L614.7,152.4z" fill="#fae700"/>
<path d="M384.3,267.4L393.6,263.8L402.7,255.2L393.3,258.8z" fill="#00ce5a"/>
<path d="M818.6,137.0L828.0,138.3L837.0,135.6L827.7,134.3z" fill="#f8f900"/>
<path d="M559.4,169.5L568.8,169.1L577.8,163.9L568.5,164.1z" fill="#ffdb00"/>
<path d="M790.8,137.2L800.2,138.5L809.2,135.7L799.9,134.5z" fill="#f8f900"/>
<path d="M255.7,380.9L265.0,375.9L274.1,363.8L264.7,369.2z" fill="#009bec"/>
<path d="M763.0,137.3L772.4,138.6L781.5,135.9L772.1,134.6z" fill="#f8f900"/>
<path d="M301.5,335.2L310.9,329.6L320.0,318.4L310.6,324.3z" fill="#00bbc6"/>
<path d="M679.6,141.4L689.0,142.2L698.1,137.6L688.7,136.5z" fill="#f8f700"/>
<path d="M735.2,137.4L744.6,138.7L753.7,135.9L744.3,134.5z" fill="#f8f900"/>
<path d="M707.4,138.6L716.8,139.5L725.9,136.1L716.5,134.9z" fill="#f8f900"/>
<path d="M633.4,152.4L642.8,152.4L651.9,146.1L642.5,145.8z" fill="#f8ef00"/>
<path d="M467.3,225.5L476.7,222.2L485.7,214.3L476.4,218.9z" fill="#e3bf00"/>
<path d="M587.2,164.0L596.6,164.2L605.6,158.7L596.3,158.5z" fill="#fee100"/>
<path d="M485.7,214.3L495.1,209.4L504.2,200.6L494.8,206.3z" fill="#ffbb20"/>
<path d="M541.0,176.8L550.4,175.1L559.4,169.5L550.0,170.8z" fill="#ffd500"/>
<path d="M448.9,234.1L458.3,231.9L467.3,225.5L457.9,228.5z" fill="#c1c400"/>
<path d="M320.0,318.4L329.3,313.1L338.4,302.8L329.0,308.3z" fill="#00c2b1"/>
<path d="M274.1,363.8L283.4,358.7L292.5,346.7L283.1,352.3z" fill="#00aae3"/>
<path d="M883.6,138.0L893.0,139.3L902.0,136.6L892.6,135.3z" fill="#f8f900"/>
<path d="M504.2,200.6L513.5,195.3L522.6,187.3L513.2,192.4z" fill="#ffc322"/>
<path d="M855.8,138.1L865.2,139.4L874.2,136.7L864.8,135.4z" fill="#f8f900"/>
<path d="M522.6,187.3L532.0,183.5L541.0,176.8L531.6,180.1z" fill="#ffce08"/>
<path d="M661.2,146.4L670.6,146.8L679.6,141.4L670.3,140.6z" fill="#f8f400"/>
<path d="M828.0,138.3L837.4,139.6L846.4,136.9L837.0,135.6z" fill="#f8f900"/>
<path d="M615.0,158.7L624.4,158.5L633.4,152.4L624.1,152.5z" fill="#fae900"/>
<path d="M338.4,302.8L347.8,298.3L356.8,288.8L347.4,293.5z" fill="#00c89c"/>
<path d="M430.5,242.2L439.9,240.1L448.9,234.1L439.5,236.3z" fill="#a4c81c"/>
<path d="M800.2,138.5L809.6,139.7L818.6,137.0L809.2,135.7z" fill="#f8f900"/>
<path d="M772.4,138.6L781.8,139.9L790.8,137.2L781.5,135.9z" fill="#f8f900"/>
<path d="M568.8,169.1L578.2,169.2L587.2,164.0L577.8,163.9z" fill="#ffdc00"/>
<path d="M246.6,392.9L256.0,388.5L265.0,375.9L255.7,380.9z" fill="#0091f4"/>
<path d="M689.0,142.2L698.4,142.7L707.4,138.6L698.1,137.6z" fill="#f8f800"/>
<path d="M356.8,288.8L366.2,285.1L375.2,276.0L365.8,280.0z" fill="#00cc85"/>
<path d="M744.6,138.7L754.0,140.0L763.0,137.3L753.7,135.9z" fill="#f8f900"/>
<path d="M716.8,139.5L726.2,140.5L735.2,137.4L725.9,136.1z" fill="#f8f900"/>
<path d="M412.1,252.1L421.4,249.5L430.5,242.2L421.1,244.7z" fill="#83cb33"/>
<path d="M292.5,346.7L301.9,341.4L310.9,329.6L301.5,335.2z" fill="#00b6d2"/>
<path d="M375.2,276.0L384.6,272.7L393.6,263.8L384.3,267.4z" fill="#00ce6a"/>
<path d="M393.6,263.8L403.0,260.7L412.1,252.1L402.7,255.2z" fill="#4bcd4e"/>
<circle cx="246.6" cy="392.9" r="4.4" fill="#000" stroke="none"/>
<path d="M642.8,152.4L652.2,152.3L661.2,146.4L651.9,146.1z" fill="#f8f000"/>
<path d="M596.6,164.2L606.0,164.2L615.0,158.7L605.6,158.7z" fill="#fde300"/>
<path d="M265.0,375.9L274.4,371.3L283.4,358.7L274.1,363.8z" fill="#00a1e8"/>
<path d="M550.4,175.1L559.8,174.4L568.8,169.1L559.4,169.5z" fill="#ffd700"/>
<path d="M865.2,139.4L874.5,140.7L883.6,138.0L874.2,136.7z" fill="#f8f900"/>
<path d="M310.9,329.6L320.3,324.5L329.3,313.1L320.0,318.4z" fill="#00bfbd"/>
<circle cx="615.0" cy="158.7" r="4.4" fill="#000" stroke="none"/>
<path d="M837.4,139.6L846.8,140.8L855.8,138.1L846.4,136.9z" fill="#f8f900"/>
<path d="M670.6,146.8L680.0,147.0L689.0,142.2L679.6,141.4z" fill="#f8f500"/>
<path d="M809.6,139.7L819.0,141.0L828.0,138.3L818.6,137.0z" fill="#f8f900"/>
<path d="M476.7,222.2L486.1,218.6L495.1,209.4L485.7,214.3z" fill="#f5bc04"/>
<path d="M458.3,231.9L467.6,230.1L476.7,222.2L467.3,225.5z" fill="#d2c200"/>
<path d="M781.8,139.9L791.2,141.1L800.2,138.5L790.8,137.2z" fill="#f8f900"/>
<path d="M624.4,158.5L633.8,158.2L642.8,152.4L633.4,152.4z" fill="#f9eb00"/>
<path d="M754.0,140.0L763.4,141.2L772.4,138.6L763.0,137.3z" fill="#f8f900"/>
<path d="M698.4,142.7L707.8,143.1L716.8,139.5L707.4,138.6z" fill="#f8f800"/>
<path d="M495.1,209.4L504.5,204.7L513.5,195.3L504.2,200.6z" fill="#ffbd29"/>
<path d="M578.2,169.2L587.5,169.3L596.6,164.2L587.2,164.0z" fill="#ffdd00"/>
<path d="M532.0,183.5L541.3,181.3L550.4,175.1L541.0,176.8z" fill="#ffd100"/>
<path d="M726.2,140.5L735.6,141.5L744.6,138.7L735.2,137.4z" fill="#f8f900"/>
<path d="M329.3,313.1L338.7,308.7L347.8,298.3L338.4,302.8z" fill="#00c5a8"/>
<path d="M439.9,240.1L449.2,238.7L458.3,231.9L448.9,234.1z" fill="#b3c60e"/>
<path d="M283.4,358.7L292.8,353.9L301.9,341.4L292.5,346.7z" fill="#00b0dd"/>
<path d="M513.5,195.3L522.9,191.3L532.0,183.5L522.6,187.3z" fill="#ffc916"/>
<path d="M347.8,298.3L357.1,294.8L366.2,285.1L356.8,288.8z" fill="#00ca92"/>
<path d="M421.4,249.5L430.8,247.4L439.9,240.1L430.5,242.2z" fill="#94c928"/>
<path d="M652.2,152.3L661.6,152.2L670.6,146.8L661.2,146.4z" fill="#f8f100"/>
<path d="M366.2,285.1L375.6,282.2L384.6,272.7L375.2,276.0z" fill="#00cd7a"/>
<path d="M606.0,164.2L615.3,163.8L624.4,158.5L615.0,158.7z" fill="#fce500"/>
<path d="M384.6,272.7L394.0,270.0L403.0,260.7L393.6,263.8z" fill="#00ce5e"/>
<path d="M256.0,388.5L265.4,384.5L274.4,371.3L265.0,375.9z" fill="#0097ef"/>
<path d="M403.0,260.7L412.4,258.2L421.4,249.5L412.1,252.1z" fill="#68cc42"/>
<path d="M874.5,140.7L883.9,142.0L893.0,139.3L883.6,138.0z" fill="#f8f900"/>
<circle cx="893.0" cy="139.3" r="4.4" fill="#000" stroke="none"/>
<path d="M846.8,140.8L856.1,142.1L865.2,139.4L855.8,138.1z" fill="#f8f900"/>
<path d="M559.8,174.4L569.1,174.3L578.2,169.2L568.8,169.1z" fill="#ffd900"/>
<path d="M301.9,341.4L311.2,336.6L320.3,324.5L310.9,329.6z" fill="#00bac9"/>
<path d="M819.0,141.0L828.3,142.2L837.4,139.6L828.0,138.3z" fill="#f8f900"/>
<path d="M680.0,147.0L689.4,147.1L698.4,142.7L689.0,142.2z" fill="#f8f600"/>
<path d="M791.2,141.1L800.5,142.4L809.6,139.7L800.2,138.5z" fill="#f8f900"/>
<path d="M763.4,141.2L772.7,142.5L781.8,139.9L772.4,138.6z" fill="#f8f900"/>
<path d="M707.8,143.1L717.1,143.6L726.2,140.5L716.8,139.5z" fill="#f8f800"/>
<path d="M735.6,141.5L744.9,142.6L754.0,140.0L744.6,138.7z" fill="#f8f900"/>
<path d="M633.8,158.2L643.1,157.9L652.2,152.3L642.8,152.4z" fill="#f9ec00"/>
<circle cx="754.0" cy="140.0" r="4.4" fill="#000" stroke="none"/>
<path d="M274.4,371.3L283.8,367.0L292.8,353.9L283.4,358.7z" fill="#00a7e5"/>
<path d="M587.5,169.3L596.9,169.2L606.0,164.2L596.6,164.2z" fill="#ffdf00"/>
<path d="M467.6,230.1L477.0,228.2L486.1,218.6L476.7,222.2z" fill="#e2bf00"/>
<path d="M320.3,324.5L329.7,320.1L338.7,308.7L329.3,313.1z" fill="#00c1b4"/>
<path d="M541.3,181.3L550.7,180.3L559.8,174.4L550.4,175.1z" fill="#ffd400"/>
<path d="M486.1,218.6L495.4,215.1L504.5,204.7L495.1,209.4z" fill="#ffbb1f"/>
<path d="M449.2,238.7L458.6,238.2L467.6,230.1L458.3,231.9z" fill="#bfc400"/>
<path d="M661.6,152.2L670.9,152.0L680.0,147.0L670.6,146.8z" fill="#f8f200"/>
<path d="M338.7,308.7L348.1,305.4L357.1,294.8L347.8,298.3z" fill="#00c7a0"/>
<path d="M504.5,204.7L513.9,200.8L522.9,191.3L513.5,195.3z" fill="#ffc323"/>
<path d="M522.9,191.3L532.3,188.7L541.3,181.3L532.0,183.5z" fill="#ffcd0a"/>
<path d="M615.3,163.8L624.7,163.4L633.8,158.2L624.4,158.5z" fill="#fbe700"/>
<path d="M856.1,142.1L865.5,143.4L874.5,140.7L865.2,139.4z" fill="#f8f900"/>
<path d="M430.8,247.4L440.2,246.5L449.2,238.7L439.9,240.1z" fill="#a1c81e"/>
<path d="M828.3,142.2L837.7,143.5L846.8,140.8L837.4,139.6z" fill="#f8f900"/>
<path d="M292.8,353.9L302.2,349.4L311.2,336.6L301.9,341.4z" fill="#00b4d6"/>
<path d="M357.1,294.8L366.5,292.3L375.6,282.2L366.2,285.1z" fill="#00cc8a"/>
<path d="M569.1,174.3L578.5,174.4L587.5,169.3L578.2,169.2z" fill="#ffda00"/>
<path d="M800.5,142.4L809.9,143.7L819.0,141.0L809.6,139.7z" fill="#f8f900"/>
<path d="M375.6,282.2L384.9,279.9L394.0,270.0L384.6,272.7z" fill="#00ce70"/>
<path d="M412.4,258.2L421.8,256.1L430.8,247.4L421.4,249.5z" fill="#7ccb37"/>
<path d="M689.4,147.1L698.7,147.0L707.8,143.1L698.4,142.7z" fill="#f8f700"/>
<path d="M394.0,270.0L403.3,267.7L412.4,258.2L403.0,260.7z" fill="#35cd53"/>
<path d="M772.7,142.5L782.1,143.8L791.2,141.1L781.8,139.9z" fill="#f8f900"/>
<path d="M744.9,142.6L754.3,143.8L763.4,141.2L754.0,140.0z" fill="#f8f900"/>
<path d="M717.1,143.6L726.5,144.2L735.6,141.5L726.2,140.5z" fill="#f8f900"/>
<path d="M265.4,384.5L274.7,380.9L283.8,367.0L274.4,371.3z" fill="#009deb"/>
<circle cx="338.7" cy="308.7" r="4.4" fill="#000" stroke="none"/>
<path d="M643.1,157.9L652.5,157.5L661.6,152.2L652.2,152.3z" fill="#f9ee00"/>
<path d="M596.9,169.2L606.3,168.8L615.3,163.8L606.0,164.2z" fill="#fee100"/>
<circle cx="522.9" cy="191.3" r="4.4" fill="#000" stroke="none"/>
<path d="M311.2,336.6L320.6,332.4L329.7,320.1L320.3,324.5z" fill="#00bdc1"/>
<circle cx="430.8" cy="247.4" r="4.4" fill="#000" stroke="none"/>
<path d="M550.7,180.3L560.1,179.8L569.1,174.3L559.8,174.4z" fill="#ffd600"/>
<path d="M458.6,238.2L468.0,237.7L477.0,228.2L467.6,230.1z" fill="#cbc300"/>
<path d="M477.0,228.2L486.4,226.0L495.4,215.1L486.1,218.6z" fill="#f0bd00"/>
<path d="M865.5,143.4L874.9,144.7L883.9,142.0L874.5,140.7z" fill="#f8f900"/>
<path d="M670.9,152.0L680.3,151.6L689.4,147.1L680.0,147.0z" fill="#f8f400"/>
<path d="M837.7,143.5L847.1,144.8L856.1,142.1L846.8,140.8z" fill="#f8f900"/>
<path d="M283.8,367.0L293.2,363.0L302.2,349.4L292.8,353.9z" fill="#00ace1"/>
<path d="M329.7,320.1L339.0,316.8L348.1,305.4L338.7,308.7z" fill="#00c3ad"/>
<path d="M624.7,163.4L634.1,163.0L643.1,157.9L633.8,158.2z" fill="#fae900"/>
<path d="M809.9,143.7L819.3,144.9L828.3,142.2L819.0,141.0z" fill="#f8f900"/>
<path d="M495.4,215.1L504.8,211.7L513.9,200.8L504.5,204.7z" fill="#ffbc2a"/>
<path d="M440.2,246.5L449.6,246.6L458.6,238.2L449.2,238.7z" fill="#a9c718"/>
<path d="M782.1,143.8L791.5,145.1L800.5,142.4L791.2,141.1z" fill="#f8f900"/>
<path d="M532.3,188.7L541.7,187.1L550.7,180.3L541.3,181.3z" fill="#ffd000"/>
<path d="M578.5,174.4L587.9,174.1L596.9,169.2L587.5,169.3z" fill="#ffdc00"/>
<path d="M698.7,147.0L708.1,146.9L717.1,143.6L707.8,143.1z" fill="#f8f800"/>
<path d="M754.3,143.8L763.7,145.0L772.7,142.5L763.4,141.2z" fill="#f8f900"/>
<path d="M348.1,305.4L357.5,303.0L366.5,292.3L357.1,294.8z" fill="#00c999"/>
<path d="M513.9,200.8L523.2,197.8L532.3,188.7L522.9,191.3z" fill="#ffc71a"/>
<path d="M726.5,144.2L735.9,145.0L744.9,142.6L735.6,141.5z" fill="#f8f900"/>
<path d="M366.5,292.3L375.9,290.4L384.9,279.9L375.6,282.2z" fill="#00cd82"/>
<path d="M421.8,256.1L431.1,255.3L440.2,246.5L430.8,247.4z" fill="#88ca30"/>
<path d="M384.9,279.9L394.3,278.0L403.3,267.7L394.0,270.0z" fill="#00ce67"/>
<path d="M403.3,267.7L412.7,265.8L421.8,256.1L412.4,258.2z" fill="#55cd4a"/>
<path d="M652.5,157.5L661.9,157.0L670.9,152.0L661.6,152.2z" fill="#f8f000"/>
<path d="M302.2,349.4L311.6,345.3L320.6,332.4L311.2,336.6z" fill="#00b8cf"/>
<path d="M606.3,168.8L615.7,168.4L624.7,163.4L615.3,163.8z" fill="#fce300"/>
<path d="M274.7,380.9L284.1,377.3L293.2,363.0L283.8,367.0z" fill="#00a2e8"/>
<path d="M560.1,179.8L569.5,179.6L578.5,174.4L569.1,174.3z" fill="#ffd700"/>
<path d="M847.1,144.8L856.5,146.1L865.5,143.4L856.1,142.1z" fill="#f8f900"/>
<path d="M819.3,144.9L828.7,146.2L837.7,143.5L828.3,142.2z" fill="#f8f900"/>
<path d="M680.3,151.6L689.7,151.0L698.7,147.0L689.4,147.1z" fill="#f8f500"/>
<path d="M320.6,332.4L330.0,329.0L339.0,316.8L329.7,320.1z" fill="#00c0ba"/>
<path d="M468.0,237.7L477.4,236.7L486.4,226.0L477.0,228.2z" fill="#d7c100"/>
<path d="M791.5,145.1L800.9,146.4L809.9,143.7L800.5,142.4z" fill="#f8f900"/>
<path d="M634.1,163.0L643.5,162.4L652.5,157.5L643.1,157.9z" fill="#f9eb00"/>
<path d="M763.7,145.0L773.1,146.4L782.1,143.8L772.7,142.5z" fill="#f8f900"/>
<path d="M449.6,246.6L458.9,247.0L468.0,237.7L458.6,238.2z" fill="#b0c611"/>
<path d="M486.4,226.0L495.8,223.1L504.8,211.7L495.4,215.1z" fill="#fcbc14"/>
<path d="M708.1,146.9L717.5,147.0L726.5,144.2L717.1,143.6z" fill="#f8f900"/>
<path d="M587.9,174.1L597.3,173.6L606.3,168.8L596.9,169.2z" fill="#ffde00"/>
<path d="M735.9,145.0L745.3,146.1L754.3,143.8L744.9,142.6z" fill="#f8f900"/>
<path d="M541.7,187.1L551.0,186.1L560.1,179.8L550.7,180.3z" fill="#ffd200"/>
<path d="M339.0,316.8L348.4,314.4L357.5,303.0L348.1,305.4z" fill="#00c5a7"/>
<path d="M293.2,363.0L302.5,359.1L311.6,345.3L302.2,349.4z" fill="#00b1db"/>
<path d="M431.1,255.3L440.5,255.6L449.6,246.6L440.2,246.5z" fill="#8eca2c"/>
<path d="M504.8,211.7L514.2,208.2L523.2,197.8L513.9,200.8z" fill="#ffc028"/>
<path d="M357.5,303.0L366.8,301.2L375.9,290.4L366.5,292.3z" fill="#00ca92"/>
<path d="M523.2,197.8L532.6,195.3L541.7,187.1L532.3,188.7z" fill="#ffcb11"/>
<path d="M375.9,290.4L385.3,288.6L394.3,278.0L384.9,279.9z" fill="#00cd7a"/>
<path d="M661.9,157.0L671.3,156.2L680.3,151.6L670.9,152.0z" fill="#f8f200"/>
<path d="M412.7,265.8L422.1,264.8L431.1,255.3L421.8,256.1z" fill="#64cc44"/>
<path d="M394.3,278.0L403.7,276.1L412.7,265.8L403.3,267.7z" fill="#00ce5e"/>
<path d="M615.7,168.4L625.0,167.9L634.1,163.0L624.7,163.4z" fill="#fbe600"/>
<path d="M856.5,146.1L865.8,147.4L874.9,144.7L865.5,143.4z" fill="#f8f900"/>
<path d="M569.5,179.6L578.8,179.1L587.9,174.1L578.5,174.4z" fill="#ffd900"/>
<path d="M828.7,146.2L838.0,147.5L847.1,144.8L837.7,143.5z" fill="#f8f900"/>
<path d="M311.6,345.3L321.0,341.9L330.0,329.0L320.6,332.4z" fill="#00bbc8"/>
<path d="M800.9,146.4L810.2,147.6L819.3,144.9L809.9,143.7z" fill="#f8f900"/>
<path d="M689.7,151.0L699.1,150.4L708.1,146.9L698.7,147.0z" fill="#f8f700"/>
<path d="M773.1,146.4L782.4,147.7L791.5,145.1L782.1,143.8z" fill="#f8f900"/>
<path d="M745.3,146.1L754.7,147.4L763.7,145.0L754.3,143.8z" fill="#f8f900"/>
<path d="M284.1,377.3L293.5,373.6L302.5,359.1L293.2,363.0z" fill="#00a7e5"/>
<path d="M643.5,162.4L652.8,161.8L661.9,157.0L652.5,157.5z" fill="#f9ed00"/>
<path d="M717.5,147.0L726.9,147.5L735.9,145.0L726.5,144.2z" fill="#f8f900"/>
<path d="M458.9,247.0L468.3,246.7L477.4,236.7L468.0,237.7z" fill="#bac505"/>
<path d="M477.4,236.7L486.7,234.4L495.8,223.1L486.4,226.0z" fill="#e4bf00"/>
<path d="M597.3,173.6L606.6,173.2L615.7,168.4L606.3,168.8z" fill="#fee100"/>
<path d="M330.0,329.0L339.4,326.4L348.4,314.4L339.0,316.8z" fill="#00c1b5"/>
<path d="M551.0,186.1L560.4,185.3L569.5,179.6L560.1,179.8z" fill="#ffd400"/>
<path d="M440.5,255.6L449.9,256.0L458.9,247.0L449.6,246.6z" fill="#92c929"/>
<circle cx="661.9" cy="157.0" r="4.4" fill="#000" stroke="none"/>
<path d="M495.8,223.1L505.2,219.2L514.2,208.2L504.8,211.7z" fill="#ffbb24"/>
<path d="M348.4,314.4L357.8,312.5L366.8,301.2L357.5,303.0z" fill="#00c6a2"/>
<path d="M366.8,301.2L376.2,299.5L385.3,288.6L375.9,290.4z" fill="#00cb8c"/>
<path d="M671.3,156.2L680.6,155.2L689.7,151.0L680.3,151.6z" fill="#f8f400"/>
<path d="M422.1,264.8L431.5,264.7L440.5,255.6L431.1,255.3z" fill="#6bcc41"/>
<path d="M532.6,195.3L542.0,193.3L551.0,186.1L541.7,187.1z" fill="#ffce08"/>
<path d="M838.0,147.5L847.4,148.8L856.5,146.1L847.1,144.8z" fill="#f8f900"/>
<path d="M625.0,167.9L634.4,167.3L643.5,162.4L634.1,163.0z" fill="#fae800"/>
<path d="M385.3,288.6L394.6,286.7L403.7,276.1L394.3,278.0z" fill="#00ce72"/>
<path d="M302.5,359.1L311.9,355.5L321.0,341.9L311.6,345.3z" fill="#00b4d6"/>
<path d="M514.2,208.2L523.6,204.6L532.6,195.3L523.2,197.8z" fill="#ffc420"/>
<path d="M403.7,276.1L413.1,274.8L422.1,264.8L412.7,265.8z" fill="#20ce57"/>
<path d="M810.2,147.6L819.6,148.9L828.7,146.2L819.3,144.9z" fill="#f8f900"/>
<path d="M578.8,179.1L588.2,178.6L597.3,173.6L587.9,174.1z" fill="#ffdc00"/>
<path d="M782.4,147.7L791.8,149.1L800.9,146.4L791.5,145.1z" fill="#f8f900"/>
<circle cx="800.9" cy="146.4" r="4.4" fill="#000" stroke="none"/>
<path d="M754.7,147.4L764.0,148.9L773.1,146.4L763.7,145.0z" fill="#f8f900"/>
<path d="M699.1,150.4L708.4,150.1L717.5,147.0L708.1,146.9z" fill="#f8f800"/>
<path d="M726.9,147.5L736.2,148.5L745.3,146.1L735.9,145.0z" fill="#f8f900"/>
<path d="M321.0,341.9L330.3,339.0L339.4,326.4L330.0,329.0z" fill="#00bdc3"/>
<path d="M652.8,161.8L662.2,160.8L671.3,156.2L661.9,157.0z" fill="#f8ef00"/>
<path d="M606.6,173.2L616.0,172.8L625.0,167.9L615.7,168.4z" fill="#fce300"/>
<path d="M468.3,246.7L477.7,244.6L486.7,234.4L477.4,236.7z" fill="#c8c300"/>
<path d="M449.9,256.0L459.3,255.7L468.3,246.7L458.9,247.0z" fill="#9ac924"/>
<path d="M560.4,185.3L569.8,184.5L578.8,179.1L569.5,179.6z" fill="#ffd600"/>
<path d="M293.5,373.6L302.9,369.8L311.9,355.5L302.5,359.1z" fill="#00ace1"/>
<path d="M339.4,326.4L348.8,324.2L357.8,312.5L348.4,314.4z" fill="#00c3b0"/>
<path d="M486.7,234.4L496.1,230.0L505.2,219.2L495.8,223.1z" fill="#f3bd02"/>
<path d="M847.4,148.8L856.8,150.1L865.8,147.4L856.5,146.1z" fill="#f8f900"/>
<path d="M431.5,264.7L440.9,264.8L449.9,256.0L440.5,255.6z" fill="#70cc3e"/>
<path d="M819.6,148.9L829.0,150.2L838.0,147.5L828.7,146.2z" fill="#f8f900"/>
<path d="M357.8,312.5L367.2,310.6L376.2,299.5L366.8,301.2z" fill="#00c89c"/>
<path d="M680.6,155.2L690.0,154.2L699.1,150.4L689.7,151.0z" fill="#f8f600"/>
<circle cx="293.5" cy="373.6" r="4.4" fill="#000" stroke="none"/>
<path d="M791.8,149.1L801.2,150.3L810.2,147.6L800.9,146.4z" fill="#f8f900"/>
<path d="M634.4,167.3L643.8,166.5L652.8,161.8L643.5,162.4z" fill="#f9ea00"/>
<path d="M376.2,299.5L385.6,297.5L394.6,286.7L385.3,288.6z" fill="#00cc85"/>
<path d="M542.0,193.3L551.4,191.6L560.4,185.3L551.0,186.1z" fill="#ffd000"/>
<path d="M764.0,148.9L773.4,150.4L782.4,147.7L773.1,146.4z" fill="#f8f900"/>
<path d="M413.1,274.8L422.4,274.2L431.5,264.7L422.1,264.8z" fill="#34cd54"/>
<path d="M505.2,219.2L514.5,214.4L523.6,204.6L514.2,208.2z" fill="#ffbd29"/>
<path d="M588.2,178.6L597.6,178.2L606.6,173.2L597.3,173.6z" fill="#ffde00"/>
<path d="M394.6,286.7L404.0,285.1L413.1,274.8L403.7,276.1z" fill="#00ce6b"/>
<path d="M736.2,148.5L745.6,149.9L754.7,147.4L745.3,146.1z" fill="#f8f900"/>
<path d="M708.4,150.1L717.8,150.3L726.9,147.5L717.5,147.0z" fill="#f8f900"/>
<path d="M523.6,204.6L533.0,201.1L542.0,193.3L532.6,195.3z" fill="#ffc818"/>
<path d="M311.9,355.5L321.3,352.2L330.3,339.0L321.0,341.9z" fill="#00b7d0"/>
<path d="M662.2,160.8L671.6,159.5L680.6,155.2L671.3,156.2z" fill="#f8f200"/>
<path d="M616.0,172.8L625.4,172.2L634.4,167.3L625.0,167.9z" fill="#fbe500"/>
<path d="M330.3,339.0L339.7,336.4L348.8,324.2L339.4,326.4z" fill="#00bfbe"/>
<path d="M569.8,184.5L579.2,183.8L588.2,178.6L578.8,179.1z" fill="#ffd900"/>
<path d="M459.3,255.7L468.6,253.5L477.7,244.6L468.3,246.7z" fill="#a9c718"/>
<path d="M829.0,150.2L838.4,151.5L847.4,148.8L838.0,147.5z" fill="#f8f900"/>
<path d="M801.2,150.3L810.6,151.6L819.6,148.9L810.2,147.6z" fill="#f8f900"/>
<path d="M477.7,244.6L487.1,239.9L496.1,230.0L486.7,234.4z" fill="#dbc000"/>
<path d="M440.9,264.8L450.2,264.1L459.3,255.7L449.9,256.0z" fill="#7acb39"/>
<path d="M348.8,324.2L358.1,322.0L367.2,310.6L357.8,312.5z" fill="#00c4ab"/>
<path d="M773.4,150.4L782.8,151.7L791.8,149.1L782.4,147.7z" fill="#f8f900"/>
<path d="M690.0,154.2L699.4,153.5L708.4,150.1L699.1,150.4z" fill="#f8f800"/>
<path d="M745.6,149.9L755.0,151.4L764.0,148.9L754.7,147.4z" fill="#f8f900"/>
<path d="M302.9,369.8L312.2,366.0L321.3,352.2L311.9,355.5z" fill="#00afdd"/>
<path d="M367.2,310.6L376.5,308.4L385.6,297.5L376.2,299.5z" fill="#00c996"/>
<path d="M643.8,166.5L653.2,165.4L662.2,160.8L652.8,161.8z" fill="#f9ed00"/>
<path d="M422.4,274.2L431.8,273.6L440.9,264.8L431.5,264.7z" fill="#42cd50"/>
<path d="M597.6,178.2L607.0,177.8L616.0,172.8L606.6,173.2z" fill="#fee000"/>
<path d="M717.8,150.3L727.2,151.1L736.2,148.5L726.9,147.5z" fill="#f9fa00"/>
<path d="M551.4,191.6L560.7,190.2L569.8,184.5L560.4,185.3z" fill="#ffd300"/>
<path d="M385.6,297.5L395.0,295.5L404.0,285.1L394.6,286.7z" fill="#00cd7e"/>
<path d="M496.1,230.0L505.5,224.1L514.5,214.4L505.2,219.2z" fill="#ffbb1e"/>
<path d="M404.0,285.1L413.4,283.9L422.4,274.2L413.1,274.8z" fill="#00ce66"/>
<circle cx="477.7" cy="244.6" r="4.4" fill="#000" stroke="none"/>
<circle cx="569.8" cy="184.5" r="4.4" fill="#000" stroke="none"/>
<path d="M533.0,201.1L542.3,198.1L551.4,191.6L542.0,193.3z" fill="#ffcc0e"/>
<path d="M514.5,214.4L523.9,209.4L533.0,201.1L523.6,204.6z" fill="#ffc224"/>
<path d="M321.3,352.2L330.7,349.1L339.7,336.4L330.3,339.0z" fill="#00b9cb"/>
<path d="M625.4,172.2L634.8,171.4L643.8,166.5L634.4,167.3z" fill="#fae800"/>
<path d="M671.6,159.5L681.0,158.3L690.0,154.2L680.6,155.2z" fill="#f8f500"/>
<path d="M838.4,151.5L847.8,152.7L856.8,150.1L847.4,148.8z" fill="#f8f900"/>
<circle cx="385.6" cy="297.5" r="4.4" fill="#000" stroke="none"/>
<path d="M579.2,183.8L588.5,183.5L597.6,178.2L588.2,178.6z" fill="#ffdb00"/>
<path d="M810.6,151.6L820.0,152.9L829.0,150.2L819.6,148.9z" fill="#f8f900"/>
<path d="M782.8,151.7L792.2,153.1L801.2,150.3L791.8,149.1z" fill="#f8f900"/>
<path d="M339.7,336.4L349.1,333.8L358.1,322.0L348.8,324.2z" fill="#00c0b8"/>
<path d="M755.0,151.4L764.4,153.0L773.4,150.4L764.0,148.9z" fill="#f8f900"/>
<path d="M450.2,264.1L459.6,261.6L468.6,253.5L459.3,255.7z" fill="#8cca2d"/>
<path d="M699.4,153.5L708.8,153.4L717.8,150.3L708.4,150.1z" fill="#f8f900"/>
<path d="M727.2,151.1L736.6,152.4L745.6,149.9L736.2,148.5z" fill="#f9fa00"/>
<path d="M468.6,253.5L478.0,248.5L487.1,239.9L477.7,244.6z" fill="#c2c400"/>
<path d="M358.1,322.0L367.5,319.5L376.5,308.4L367.2,310.6z" fill="#00c6a5"/>
<path d="M431.8,273.6L441.2,272.3L450.2,264.1L440.9,264.8z" fill="#54cd4a"/>
<path d="M607.0,177.8L616.3,177.3L625.4,172.2L616.0,172.8z" fill="#fde200"/>
<path d="M653.2,165.4L662.6,163.9L671.6,159.5L662.2,160.8z" fill="#f8f000"/>
<path d="M560.7,190.2L570.1,189.3L579.2,183.8L569.8,184.5z" fill="#ffd500"/>
<path d="M376.5,308.4L385.9,306.1L395.0,295.5L385.6,297.5z" fill="#00cb8f"/>
<path d="M413.4,283.9L422.8,282.6L431.8,273.6L422.4,274.2z" fill="#00ce61"/>
<path d="M395.0,295.5L404.3,293.9L413.4,283.9L404.0,285.1z" fill="#00cd79"/>
<path d="M487.1,239.9L496.4,233.2L505.5,224.1L496.1,230.0z" fill="#f0bd00"/>
<path d="M312.2,366.0L321.6,362.3L330.7,349.1L321.3,352.2z" fill="#00b3d8"/>
<path d="M820.0,152.9L829.3,154.2L838.4,151.5L829.0,150.2z" fill="#f8f900"/>
<path d="M792.2,153.1L801.5,154.3L810.6,151.6L801.2,150.3z" fill="#f8f900"/>
<path d="M542.3,198.1L551.7,195.9L560.7,190.2L551.4,191.6z" fill="#ffcf03"/>
<path d="M634.8,171.4L644.1,170.2L653.2,165.4L643.8,166.5z" fill="#f9eb00"/>
<path d="M681.0,158.3L690.4,157.3L699.4,153.5L690.0,154.2z" fill="#f8f700"/>
<path d="M505.5,224.1L514.9,217.8L523.9,209.4L514.5,214.4z" fill="#ffbd2a"/>
<path d="M588.5,183.5L597.9,183.3L607.0,177.8L597.6,178.2z" fill="#ffdd00"/>
<path d="M764.4,153.0L773.7,154.4L782.8,151.7L773.4,150.4z" fill="#f8f900"/>
<path d="M330.7,349.1L340.0,346.0L349.1,333.8L339.7,336.4z" fill="#00bcc6"/>
<path d="M523.9,209.4L533.3,205.0L542.3,198.1L533.0,201.1z" fill="#ffc71a"/>
<path d="M736.6,152.4L745.9,154.0L755.0,151.4L745.6,149.9z" fill="#f8f900"/>
<path d="M708.8,153.4L718.1,154.1L727.2,151.1L717.8,150.3z" fill="#f9fa00"/>
<path d="M349.1,333.8L358.5,331.0L367.5,319.5L358.1,322.0z" fill="#00c2b3"/>
<path d="M616.3,177.3L625.7,176.5L634.8,171.4L625.4,172.2z" fill="#fbe500"/>
<path d="M570.1,189.3L579.5,189.1L588.5,183.5L579.2,183.8z" fill="#ffd700"/>
<path d="M441.2,272.3L450.6,269.3L459.6,261.6L450.2,264.1z" fill="#6ecc3f"/>
<path d="M662.6,163.9L671.9,162.5L681.0,158.3L671.6,159.5z" fill="#f8f300"/>
<path d="M367.5,319.5L376.9,316.9L385.9,306.1L376.5,308.4z" fill="#00c79f"/>
<path d="M459.6,261.6L469.0,256.3L478.0,248.5L468.6,253.5z" fill="#aac717"/>
<path d="M422.8,282.6L432.1,280.6L441.2,272.3L431.8,273.6z" fill="#00ce5a"/>
<path d="M385.9,306.1L395.3,304.0L404.3,293.9L395.0,295.5z" fill="#00cc89"/>
<path d="M829.3,154.2L838.7,155.4L847.8,152.7L838.4,151.5z" fill="#f8f900"/>
<path d="M404.3,293.9L413.7,292.0L422.8,282.6L413.4,283.9z" fill="#00ce72"/>
<circle cx="847.8" cy="152.7" r="4.4" fill="#000" stroke="none"/>
<path d="M801.5,154.3L810.9,155.6L820.0,152.9L810.6,151.6z" fill="#f8f900"/>
<path d="M478.0,248.5L487.4,241.4L496.4,233.2L487.1,239.9z" fill="#ddc000"/>
<path d="M773.7,154.4L783.1,155.8L792.2,153.1L782.8,151.7z" fill="#f8f900"/>
<path d="M321.6,362.3L331.0,358.5L340.0,346.0L330.7,349.1z" fill="#00b6d3"/>
<path d="M745.9,154.0L755.3,155.7L764.4,153.0L755.0,151.4z" fill="#f8f900"/>
<path d="M690.4,157.3L699.7,156.9L708.8,153.4L699.4,153.5z" fill="#f8f900"/>
<path d="M597.9,183.3L607.3,182.9L616.3,177.3L607.0,177.8z" fill="#ffdf00"/>
<path d="M551.7,195.9L561.1,194.9L570.1,189.3L560.7,190.2z" fill="#ffd200"/>
<path d="M644.1,170.2L653.5,168.6L662.6,163.9L653.2,165.4z" fill="#f9ee00"/>
<path d="M718.1,154.1L727.5,155.3L736.6,152.4L727.2,151.1z" fill="#f9fa00"/>
<circle cx="708.8" cy="153.4" r="4.4" fill="#000" stroke="none"/>
<path d="M496.4,233.2L505.8,225.9L514.9,217.8L505.5,224.1z" fill="#ffbb20"/>
<path d="M340.0,346.0L349.4,342.7L358.5,331.0L349.1,333.8z" fill="#00bec0"/>
<path d="M533.3,205.0L542.7,201.9L551.7,195.9L542.3,198.1z" fill="#ffcb10"/>
<path d="M514.9,217.8L524.2,212.1L533.3,205.0L523.9,209.4z" fill="#ffc224"/>
<path d="M579.5,189.1L588.9,189.1L597.9,183.3L588.5,183.5z" fill="#ffd900"/>
<path d="M625.7,176.5L635.1,175.2L644.1,170.2L634.8,171.4z" fill="#fae800"/>
<path d="M358.5,331.0L367.8,328.0L376.9,316.9L367.5,319.5z" fill="#00c4ac"/>
<path d="M810.9,155.6L820.3,156.9L829.3,154.2L820.0,152.9z" fill="#f8f900"/>
<path d="M671.9,162.5L681.3,161.3L690.4,157.3L681.0,158.3z" fill="#f8f600"/>
<path d="M783.1,155.8L792.5,157.1L801.5,154.3L792.2,153.1z" fill="#f8f900"/>
<path d="M376.9,316.9L386.3,314.4L395.3,304.0L385.9,306.1z" fill="#00c998"/>
<path d="M755.3,155.7L764.7,157.1L773.7,154.4L764.4,153.0z" fill="#f8f900"/>
<path d="M432.1,280.6L441.5,277.2L450.6,269.3L441.2,272.3z" fill="#49cd4e"/>
<path d="M395.3,304.0L404.7,301.7L413.7,292.0L404.3,293.9z" fill="#00cc82"/>
<path d="M413.7,292.0L423.1,289.5L432.1,280.6L422.8,282.6z" fill="#00ce69"/>
<path d="M450.6,269.3L459.9,263.9L469.0,256.3L459.6,261.6z" fill="#92c92a"/>
<path d="M727.5,155.3L736.9,156.8L745.9,154.0L736.6,152.4z" fill="#f8f900"/>
<path d="M699.7,156.9L709.1,157.4L718.1,154.1L708.8,153.4z" fill="#f9fa00"/>
<path d="M607.3,182.9L616.7,182.1L625.7,176.5L616.3,177.3z" fill="#fde200"/>
<path d="M561.1,194.9L570.5,194.9L579.5,189.1L570.1,189.3z" fill="#ffd400"/>
<path d="M469.0,256.3L478.4,249.0L487.4,241.4L478.0,248.5z" fill="#cbc300"/>
<path d="M653.5,168.6L662.9,166.9L671.9,162.5L662.6,163.9z" fill="#f8f100"/>
<path d="M331.0,358.5L340.4,354.7L349.4,342.7L340.0,346.0z" fill="#00b9cd"/>
<path d="M487.4,241.4L496.8,233.6L505.8,225.9L496.4,233.2z" fill="#f6bc07"/>
<path d="M820.3,156.9L829.7,158.1L838.7,155.4L829.3,154.2z" fill="#f8f900"/>
<path d="M588.9,189.1L598.3,188.9L607.3,182.9L597.9,183.3z" fill="#ffdc00"/>
<path d="M542.7,201.9L552.0,200.7L561.1,194.9L551.7,195.9z" fill="#ffce07"/>
<path d="M792.5,157.1L801.9,158.3L810.9,155.6L801.5,154.3z" fill="#f8f900"/>
<path d="M349.4,342.7L358.8,339.3L367.8,328.0L358.5,331.0z" fill="#00c0b9"/>
<path d="M764.7,157.1L774.1,158.4L783.1,155.8L773.7,154.4z" fill="#f8f900"/>
<path d="M635.1,175.2L644.5,173.5L653.5,168.6L644.1,170.2z" fill="#f9ec00"/>
<path d="M681.3,161.3L690.7,160.7L699.7,156.9L690.4,157.3z" fill="#f8f800"/>
<path d="M736.9,156.8L746.3,158.4L755.3,155.7L745.9,154.0z" fill="#f8f900"/>
<path d="M505.8,225.9L515.2,219.4L524.2,212.1L514.9,217.8z" fill="#ffbe29"/>
<path d="M367.8,328.0L377.2,325.1L386.3,314.4L376.9,316.9z" fill="#00c5a6"/>
<path d="M524.2,212.1L533.6,208.2L542.7,201.9L533.3,205.0z" fill="#ffc71a"/>
<path d="M709.1,157.4L718.5,158.4L727.5,155.3L718.1,154.1z" fill="#f9fa00"/>
<path d="M386.3,314.4L395.6,311.7L404.7,301.7L395.3,304.0z" fill="#00ca91"/>
<path d="M570.5,194.9L579.8,195.2L588.9,189.1L579.5,189.1z" fill="#ffd500"/>
<path d="M404.7,301.7L414.1,298.9L423.1,289.5L413.7,292.0z" fill="#00cd79"/>
<path d="M616.7,182.1L626.0,180.7L635.1,175.2L625.7,176.5z" fill="#fbe500"/>
<path d="M423.1,289.5L432.5,285.8L441.5,277.2L432.1,280.6z" fill="#00ce5d"/>
<path d="M441.5,277.2L450.9,271.7L459.9,263.9L450.6,269.3z" fill="#78cb3a"/>
<path d="M662.9,166.9L672.3,165.5L681.3,161.3L671.9,162.5z" fill="#f8f400"/>
<path d="M801.9,158.3L811.2,159.6L820.3,156.9L810.9,155.6z" fill="#f8f900"/>
<path d="M459.9,263.9L469.3,256.5L478.4,249.0L469.0,256.3z" fill="#b8c507"/>
<path d="M774.1,158.4L783.4,159.7L792.5,157.1L783.1,155.8z" fill="#f8f900"/>
<path d="M598.3,188.9L607.6,188.2L616.7,182.1L607.3,182.9z" fill="#ffde00"/>
<path d="M340.4,354.7L349.7,350.9L358.8,339.3L349.4,342.7z" fill="#00bbc6"/>
<path d="M552.0,200.7L561.4,200.8L570.5,194.9L561.1,194.9z" fill="#ffd001"/>
<path d="M746.3,158.4L755.6,159.8L764.7,157.1L755.3,155.7z" fill="#f8f900"/>
<path d="M690.7,160.7L700.1,160.9L709.1,157.4L699.7,156.9z" fill="#f8f900"/>
<path d="M718.5,158.4L727.9,159.7L736.9,156.8L727.5,155.3z" fill="#f8f900"/>
<path d="M644.5,173.5L653.8,171.7L662.9,166.9L653.5,168.6z" fill="#f8ef00"/>
<path d="M478.4,249.0L487.7,241.0L496.8,233.6L487.4,241.4z" fill="#e8be00"/>
<path d="M358.8,339.3L368.2,336.0L377.2,325.1L367.8,328.0z" fill="#00c2b3"/>
<circle cx="616.7" cy="182.1" r="4.4" fill="#000" stroke="none"/>
<circle cx="340.4" cy="354.7" r="4.4" fill="#000" stroke="none"/>
<path d="M579.8,195.2L589.2,195.4L598.3,188.9L588.9,189.1z" fill="#ffd700"/>
<path d="M533.6,208.2L543.0,206.8L552.0,200.7L542.7,201.9z" fill="#ffca12"/>
<path d="M377.2,325.1L386.6,322.0L395.6,311.7L386.3,314.4z" fill="#00c79f"/>
<path d="M496.8,233.6L506.2,226.6L515.2,219.4L505.8,225.9z" fill="#ffbb26"/>
<path d="M395.6,311.7L405.0,308.5L414.1,298.9L404.7,301.7z" fill="#00cc89"/>
<path d="M626.0,180.7L635.4,178.9L644.5,173.5L635.1,175.2z" fill="#fae900"/>
<path d="M515.2,219.4L524.6,214.9L533.6,208.2L524.2,212.1z" fill="#ffc322"/>
<path d="M811.2,159.6L820.6,160.8L829.7,158.1L820.3,156.9z" fill="#f8f900"/>
<path d="M414.1,298.9L423.4,295.0L432.5,285.8L423.1,289.5z" fill="#00ce6d"/>
<path d="M672.3,165.5L681.6,164.8L690.7,160.7L681.3,161.3z" fill="#f8f700"/>
<path d="M783.4,159.7L792.8,161.0L801.9,158.3L792.5,157.1z" fill="#f8f900"/>
<path d="M755.6,159.8L765.0,161.1L774.1,158.4L764.7,157.1z" fill="#f8f900"/>
<path d="M561.4,200.8L570.8,201.5L579.8,195.2L570.5,194.9z" fill="#ffd100"/>
<path d="M432.5,285.8L441.8,280.2L450.9,271.7L441.5,277.2z" fill="#56cd49"/>
<path d="M727.9,159.7L737.2,161.1L746.3,158.4L736.9,156.8z" fill="#f8f900"/>
<path d="M700.1,160.9L709.4,161.6L718.5,158.4L709.1,157.4z" fill="#f8f900"/>
<path d="M607.6,188.2L617.0,186.8L626.0,180.7L616.7,182.1z" fill="#fde200"/>
<path d="M450.9,271.7L460.3,264.4L469.3,256.5L459.9,263.9z" fill="#a4c81c"/>
<path d="M349.7,350.9L359.1,347.1L368.2,336.0L358.8,339.3z" fill="#00bebf"/>
<path d="M653.8,171.7L663.2,170.2L672.3,165.5L662.9,166.9z" fill="#f8f200"/>
<circle cx="432.5" cy="285.8" r="4.4" fill="#000" stroke="none"/>
<path d="M589.2,195.4L598.6,194.8L607.6,188.2L598.3,188.9z" fill="#ffda00"/>
<path d="M543.0,206.8L552.4,207.0L561.4,200.8L552.0,200.7z" fill="#ffcc0e"/>
<path d="M368.2,336.0L377.5,332.5L386.6,322.0L377.2,325.1z" fill="#00c4ac"/>
<path d="M469.3,256.5L478.7,248.5L487.7,241.0L478.4,249.0z" fill="#dac000"/>
<path d="M792.8,161.0L802.2,162.3L811.2,159.6L801.9,158.3z" fill="#f8f900"/>
<path d="M765.0,161.1L774.4,162.4L783.4,159.7L774.1,158.4z" fill="#f8f900"/>
<path d="M386.6,322.0L396.0,318.5L405.0,308.5L395.6,311.7z" fill="#00c997"/>
<path d="M635.4,178.9L644.8,177.0L653.8,171.7L644.5,173.5z" fill="#f9ed00"/>
<path d="M681.6,164.8L691.0,164.7L700.1,160.9L690.7,160.7z" fill="#f8f800"/>
<path d="M737.2,161.1L746.6,162.5L755.6,159.8L746.3,158.4z" fill="#f8f900"/>
<path d="M570.8,201.5L580.2,202.0L589.2,195.4L579.8,195.2z" fill="#ffd200"/>
<circle cx="755.6" cy="159.8" r="4.4" fill="#000" stroke="none"/>
<path d="M524.6,214.9L533.9,213.2L543.0,206.8L533.6,208.2z" fill="#ffc61c"/>
<path d="M709.4,161.6L718.8,162.7L727.9,159.7L718.5,158.4z" fill="#f8f900"/>
<path d="M487.7,241.0L497.1,233.8L506.2,226.6L496.8,233.6z" fill="#febc18"/>
<path d="M405.0,308.5L414.4,304.5L423.4,295.0L414.1,298.9z" fill="#00cd7d"/>
<path d="M506.2,226.6L515.5,221.8L524.6,214.9L515.2,219.4z" fill="#ffbf29"/>
<path d="M423.4,295.0L432.8,289.4L441.8,280.2L432.5,285.8z" fill="#00ce5a"/>
<path d="M617.0,186.8L626.4,184.9L635.4,178.9L626.0,180.7z" fill="#fbe600"/>
<path d="M552.4,207.0L561.7,207.9L570.8,201.5L561.4,200.8z" fill="#ffcc0c"/>
<path d="M663.2,170.2L672.6,169.2L681.6,164.8L672.3,165.5z" fill="#f8f500"/>
<path d="M598.6,194.8L608.0,193.4L617.0,186.8L607.6,188.2z" fill="#ffdd00"/>
<path d="M802.2,162.3L811.6,163.5L820.6,160.8L811.2,159.6z" fill="#f8f900"/>
<path d="M441.8,280.2L451.2,273.0L460.3,264.4L450.9,271.7z" fill="#8bca2e"/>
<path d="M359.1,347.1L368.5,343.2L377.5,332.5L368.2,336.0z" fill="#00c0b8"/>
<circle cx="524.6" cy="214.9" r="4.4" fill="#000" stroke="none"/>
<path d="M774.4,162.4L783.8,163.7L792.8,161.0L783.4,159.7z" fill="#f8f900"/>
<path d="M746.6,162.5L756.0,163.7L765.0,161.1L755.6,159.8z" fill="#f8f900"/>
<path d="M691.0,164.7L700.4,165.1L709.4,161.6L700.1,160.9z" fill="#f8f800"/>
<path d="M718.8,162.7L728.2,163.9L737.2,161.1L727.9,159.7z" fill="#f8f900"/>
<path d="M377.5,332.5L386.9,328.7L396.0,318.5L386.6,322.0z" fill="#00c6a4"/>
<path d="M580.2,202.0L589.5,201.6L598.6,194.8L589.2,195.4z" fill="#ffd500"/>
<path d="M460.3,264.4L469.6,256.5L478.7,248.5L469.3,256.5z" fill="#c9c300"/>
<path d="M644.8,177.0L654.2,175.2L663.2,170.2L653.8,171.7z" fill="#f8f000"/>
<path d="M533.9,213.2L543.3,213.4L552.4,207.0L543.0,206.8z" fill="#ffc719"/>
<path d="M396.0,318.5L405.3,314.4L414.4,304.5L405.0,308.5z" fill="#00cb8c"/>
<path d="M478.7,248.5L488.1,241.3L497.1,233.8L487.7,241.0z" fill="#f3bd02"/>
<path d="M561.7,207.9L571.1,208.8L580.2,202.0L570.8,201.5z" fill="#ffcd09"/>
<path d="M626.4,184.9L635.8,182.8L644.8,177.0L635.4,178.9z" fill="#f9ea00"/>
<path d="M515.5,221.8L524.9,219.9L533.9,213.2L524.6,214.9z" fill="#ffc224"/>
<path d="M414.4,304.5L423.8,299.1L432.8,289.4L423.4,295.0z" fill="#00ce6c"/>
<path d="M497.1,233.8L506.5,228.8L515.5,221.8L506.2,226.6z" fill="#ffbc2a"/>
<path d="M783.8,163.7L793.2,164.9L802.2,162.3L792.8,161.0z" fill="#f8f900"/>
<path d="M672.6,169.2L682.0,168.8L691.0,164.7L681.6,164.8z" fill="#f8f700"/>
<path d="M756.0,163.7L765.4,164.9L774.4,162.4L765.0,161.1z" fill="#f8f900"/>
<path d="M728.2,163.9L737.6,165.1L746.6,162.5L737.2,161.1z" fill="#f8f900"/>
<path d="M608.0,193.4L617.3,191.4L626.4,184.9L617.0,186.8z" fill="#fde100"/>
<path d="M700.4,165.1L709.8,165.8L718.8,162.7L709.4,161.6z" fill="#f8f900"/>
<path d="M432.8,289.4L442.2,282.5L451.2,273.0L441.8,280.2z" fill="#69cc41"/>
<path d="M543.3,213.4L552.7,214.5L561.7,207.9L552.4,207.0z" fill="#ffc818"/>
<path d="M368.5,343.2L377.9,339.2L386.9,328.7L377.5,332.5z" fill="#00c2b0"/>
<path d="M589.5,201.6L598.9,200.2L608.0,193.4L598.6,194.8z" fill="#ffd800"/>
<path d="M654.2,175.2L663.5,174.0L672.6,169.2L663.2,170.2z" fill="#f8f300"/>
<path d="M386.9,328.7L396.3,324.5L405.3,314.4L396.0,318.5z" fill="#00c89b"/>
<path d="M451.2,273.0L460.6,265.4L469.6,256.5L460.3,264.4z" fill="#b5c60b"/>
<path d="M571.1,208.8L580.5,208.5L589.5,201.6L580.2,202.0z" fill="#ffcf02"/>
<path d="M793.2,164.9L802.5,166.2L811.6,163.5L802.2,162.3z" fill="#f8f900"/>
<path d="M524.9,219.9L534.3,219.9L543.3,213.4L533.9,213.2z" fill="#ffc322"/>
<path d="M765.4,164.9L774.7,166.2L783.8,163.7L774.4,162.4z" fill="#f8f900"/>
<path d="M682.0,168.8L691.3,168.8L700.4,165.1L691.0,164.7z" fill="#f8f800"/>
<path d="M635.8,182.8L645.1,180.8L654.2,175.2L644.8,177.0z" fill="#f9ed00"/>
<path d="M405.3,314.4L414.7,309.1L423.8,299.1L414.4,304.5z" fill="#00cd7d"/>
<path d="M737.6,165.1L746.9,166.2L756.0,163.7L746.6,162.5z" fill="#f8f900"/>
<path d="M709.8,165.8L719.1,166.7L728.2,163.9L718.8,162.7z" fill="#f8f900"/>
<path d="M469.6,256.5L479.0,249.4L488.1,241.3L478.7,248.5z" fill="#e5bf00"/>
<path d="M506.5,228.8L515.9,226.6L524.9,219.9L515.5,221.8z" fill="#ffbe29"/>
<path d="M552.7,214.5L562.1,215.4L571.1,208.8L561.7,207.9z" fill="#ffc817"/>
<path d="M617.3,191.4L626.7,189.1L635.8,182.8L626.4,184.9z" fill="#fbe600"/>
<path d="M488.1,241.3L497.4,236.2L506.5,228.8L497.1,233.8z" fill="#ffbb1f"/>
<path d="M423.8,299.1L433.1,292.4L442.2,282.5L432.8,289.4z" fill="#2ccd55"/>
<path d="M598.9,200.2L608.3,198.1L617.3,191.4L608.0,193.4z" fill="#ffdd00"/>
<path d="M663.5,174.0L672.9,173.3L682.0,168.8L672.6,169.2z" fill="#f8f500"/>
<path d="M774.7,166.2L784.1,167.5L793.2,164.9L783.8,163.7z" fill="#f8f900"/>
<path d="M377.9,339.2L387.2,335.0L396.3,324.5L386.9,328.7z" fill="#00c5a8"/>
<path d="M534.3,219.9L543.7,220.8L552.7,214.5L543.3,213.4z" fill="#ffc321"/>
<path d="M580.5,208.5L589.9,207.0L598.9,200.2L589.5,201.6z" fill="#ffd300"/>
<path d="M746.9,166.2L756.3,167.4L765.4,164.9L756.0,163.7z" fill="#f8f900"/>
<path d="M442.2,282.5L451.6,275.1L460.6,265.4L451.2,273.0z" fill="#9ac924"/>
<path d="M691.3,168.8L700.7,169.1L709.8,165.8L700.4,165.1z" fill="#f8f800"/>
<path d="M719.1,166.7L728.5,167.7L737.6,165.1L728.2,163.9z" fill="#f8f900"/>
<path d="M396.3,324.5L405.7,319.5L414.7,309.1L405.3,314.4z" fill="#00cb8e"/>
<path d="M645.1,180.8L654.5,179.3L663.5,174.0L654.2,175.2z" fill="#f8f000"/>
<path d="M562.1,215.4L571.5,215.2L580.5,208.5L571.1,208.8z" fill="#ffca12"/>
<path d="M515.9,226.6L525.2,226.4L534.3,219.9L524.9,219.9z" fill="#ffbf29"/>
<path d="M460.6,265.4L470.0,258.4L479.0,249.4L469.6,256.5z" fill="#d4c100"/>
<circle cx="663.5" cy="174.0" r="4.4" fill="#000" stroke="none"/>
<path d="M626.7,189.1L636.1,186.9L645.1,180.8L635.8,182.8z" fill="#f9ea00"/>
<path d="M414.7,309.1L424.1,302.9L433.1,292.4L423.8,299.1z" fill="#00ce69"/>
<path d="M784.1,167.5L793.5,168.9L802.5,166.2L793.2,164.9z" fill="#f8f900"/>
<path d="M672.9,173.3L682.3,172.8L691.3,168.8L682.0,168.8z" fill="#f8f600"/>
<path d="M497.4,236.2L506.8,233.8L515.9,226.6L506.5,228.8z" fill="#ffbc28"/>
<path d="M479.0,249.4L488.4,244.3L497.4,236.2L488.1,241.3z" fill="#f7bc0a"/>
<circle cx="802.5" cy="166.2" r="4.4" fill="#000" stroke="none"/>
<path d="M543.7,220.8L553.0,221.7L562.1,215.4L552.7,214.5z" fill="#ffc421"/>
<path d="M756.3,167.4L765.7,168.7L774.7,166.2L765.4,164.9z" fill="#f8f900"/>
<path d="M608.3,198.1L617.7,195.8L626.7,189.1L617.3,191.4z" fill="#fee100"/>
<path d="M728.5,167.7L737.9,168.7L746.9,166.2L737.6,165.1z" fill="#f8f900"/>
<path d="M700.7,169.1L710.1,169.7L719.1,166.7L709.8,165.8z" fill="#f8f900"/>
<path d="M589.9,207.0L599.2,205.0L608.3,198.1L598.9,200.2z" fill="#ffd700"/>
<path d="M433.1,292.4L442.5,285.5L451.6,275.1L442.2,282.5z" fill="#74cb3c"/>
<path d="M387.2,335.0L396.6,330.3L405.7,319.5L396.3,324.5z" fill="#00c89d"/>
<path d="M654.5,179.3L663.9,178.2L672.9,173.3L663.5,174.0z" fill="#f8f300"/>
<path d="M571.5,215.2L580.8,213.7L589.9,207.0L580.5,208.5z" fill="#ffce08"/>
<path d="M525.2,226.4L534.6,227.1L543.7,220.8L534.3,219.9z" fill="#ffbf28"/>
<circle cx="387.2" cy="335.0" r="4.4" fill="#000" stroke="none"/>
<path d="M451.6,275.1L460.9,268.4L470.0,258.4L460.6,265.4z" fill="#bdc501"/>
<path d="M765.7,168.7L775.1,170.1L784.1,167.5L774.7,166.2z" fill="#f8f900"/>
<path d="M405.7,319.5L415.0,313.9L424.1,302.9L414.7,309.1z" fill="#00cd7d"/>
<path d="M682.3,172.8L691.7,172.7L700.7,169.1L691.3,168.8z" fill="#f8f800"/>
<path d="M636.1,186.9L645.5,185.1L654.5,179.3L645.1,180.8z" fill="#f9ed00"/>
<path d="M553.0,221.7L562.4,221.4L571.5,215.2L562.1,215.4z" fill="#ffc51d"/>
<path d="M737.9,168.7L747.3,169.9L756.3,167.4L746.9,166.2z" fill="#f8f900"/>
<path d="M710.1,169.7L719.5,170.4L728.5,167.7L719.1,166.7z" fill="#f8f900"/>
<path d="M506.8,233.8L516.2,233.2L525.2,226.4L515.9,226.6z" fill="#ffbc2a"/>
<path d="M470.0,258.4L479.3,253.3L488.4,244.3L479.0,249.4z" fill="#e8be00"/>
<path d="M617.7,195.8L627.0,193.3L636.1,186.9L626.7,189.1z" fill="#fbe500"/>
<circle cx="571.5" cy="215.2" r="4.4" fill="#000" stroke="none"/>
<path d="M488.4,244.3L497.8,241.6L506.8,233.8L497.4,236.2z" fill="#ffbb1b"/>
<path d="M424.1,302.9L433.5,296.4L442.5,285.5L433.1,292.4z" fill="#39cd52"/>
<path d="M599.2,205.0L608.6,202.5L617.7,195.8L608.3,198.1z" fill="#ffdc00"/>
<path d="M534.6,227.1L544.0,227.7L553.0,221.7L543.7,220.8z" fill="#ffbf28"/>
<path d="M663.9,178.2L673.3,177.2L682.3,172.8L672.9,173.3z" fill="#f8f500"/>
<path d="M580.8,213.7L590.2,211.7L599.2,205.0L589.9,207.0z" fill="#ffd200"/>
<path d="M775.1,170.1L784.4,171.6L793.5,168.9L784.1,167.5z" fill="#f8f900"/>
<path d="M747.3,169.9L756.6,171.2L765.7,168.7L756.3,167.4z" fill="#f8f900"/>
<path d="M691.7,172.7L701.1,172.9L710.1,169.7L700.7,169.1z" fill="#f8f800"/>
<path d="M719.5,170.4L728.9,171.3L737.9,168.7L728.5,167.7z" fill="#f8f900"/>
<path d="M396.6,330.3L406.0,325.3L415.0,313.9L405.7,319.5z" fill="#00cb8f"/>
<path d="M442.5,285.5L451.9,279.1L460.9,268.4L451.6,275.1z" fill="#9ec821"/>
<path d="M562.4,221.4L571.8,220.0L580.8,213.7L571.5,215.2z" fill="#ffc916"/>
<path d="M516.2,233.2L525.6,233.6L534.6,227.1L525.2,226.4z" fill="#ffbc2a"/>
<path d="M645.5,185.1L654.8,183.4L663.9,178.2L654.5,179.3z" fill="#f8f000"/>
<path d="M460.9,268.4L470.3,263.3L479.3,253.3L470.0,258.4z" fill="#d4c100"/>
<path d="M497.8,241.6L507.1,240.7L516.2,233.2L506.8,233.8z" fill="#ffbb21"/>
<path d="M627.0,193.3L636.4,191.2L645.5,185.1L636.1,186.9z" fill="#f9e900"/>
<path d="M415.0,313.9L424.4,308.0L433.5,296.4L424.1,302.9z" fill="#00ce69"/>
<path d="M544.0,227.7L553.4,227.4L562.4,221.4L553.0,221.7z" fill="#ffc125"/>
<path d="M479.3,253.3L488.7,250.5L497.8,241.6L488.4,244.3z" fill="#f3bd02"/>
<path d="M673.3,177.2L682.6,176.5L691.7,172.7L682.3,172.8z" fill="#f8f600"/>
<path d="M608.6,202.5L618.0,200.0L627.0,193.3L617.7,195.8z" fill="#fee100"/>
<path d="M756.6,171.2L766.0,172.7L775.1,170.1L765.7,168.7z" fill="#f8f900"/>
<path d="M728.9,171.3L738.2,172.4L747.3,169.9L737.9,168.7z" fill="#f9f900"/>
<path d="M701.1,172.9L710.4,173.3L719.5,170.4L710.1,169.7z" fill="#f8f900"/>
<path d="M590.2,211.7L599.6,209.2L608.6,202.5L599.2,205.0z" fill="#ffd700"/>
<path d="M525.6,233.6L534.9,233.9L544.0,227.7L534.6,227.1z" fill="#ffbd2a"/>
<path d="M433.5,296.4L442.8,290.4L451.9,279.1L442.5,285.5z" fill="#75cb3c"/>
<circle cx="479.3" cy="253.3" r="4.4" fill="#000" stroke="none"/>
<path d="M571.8,220.0L581.2,218.0L590.2,211.7L580.8,213.7z" fill="#ffcd0b"/>
<path d="M654.8,183.4L664.2,181.8L673.3,177.2L663.9,178.2z" fill="#f8f300"/>
<path d="M406.0,325.3L415.4,320.2L424.4,308.0L415.0,313.9z" fill="#00cd80"/>
<path d="M507.1,240.7L516.5,240.6L525.6,233.6L516.2,233.2z" fill="#ffbb24"/>
<path d="M451.9,279.1L461.3,274.1L470.3,263.3L460.9,268.4z" fill="#b9c505"/>
<path d="M553.4,227.4L562.7,226.0L571.8,220.0L562.4,221.4z" fill="#ffc41f"/>
<path d="M766.0,172.7L775.4,174.3L784.4,171.6L775.1,170.1z" fill="#f8f900"/>
<path d="M636.4,191.2L645.8,189.0L654.8,183.4L645.5,185.1z" fill="#f9ed00"/>
<path d="M682.6,176.5L692.0,176.1L701.1,172.9L691.7,172.7z" fill="#f8f800"/>
<path d="M738.2,172.4L747.6,173.7L756.6,171.2L747.3,169.9z" fill="#f8f900"/>
<path d="M488.7,250.5L498.1,249.1L507.1,240.7L497.8,241.6z" fill="#f9bc0e"/>
<path d="M710.4,173.3L719.8,174.0L728.9,171.3L719.5,170.4z" fill="#f9f900"/>
<path d="M470.3,263.3L479.7,260.2L488.7,250.5L479.3,253.3z" fill="#e2bf00"/>
<path d="M618.0,200.0L627.4,197.5L636.4,191.2L627.0,193.3z" fill="#fbe500"/>
<path d="M534.9,233.9L544.3,233.4L553.4,227.4L544.0,227.7z" fill="#ffbe29"/>
<path d="M424.4,308.0L433.8,302.5L442.8,290.4L433.5,296.4z" fill="#2ccd55"/>
<path d="M599.6,209.2L609.0,206.6L618.0,200.0L608.6,202.5z" fill="#ffdc00"/>
<path d="M664.2,181.8L673.6,180.3L682.6,176.5L673.3,177.2z" fill="#f8f500"/>
<path d="M581.2,218.0L590.5,215.6L599.6,209.2L590.2,211.7z" fill="#ffd200"/>
<path d="M516.5,240.6L525.9,240.7L534.9,233.9L525.6,233.6z" fill="#ffbb26"/>
<path d="M442.8,290.4L452.2,285.6L461.3,274.1L451.9,279.1z" fill="#96c927"/>
<path d="M747.6,173.7L757.0,175.2L766.0,172.7L756.6,171.2z" fill="#f8f900"/>
<path d="M692.0,176.1L701.4,176.2L710.4,173.3L701.1,172.9z" fill="#f8f900"/>
<path d="M719.8,174.0L729.2,175.0L738.2,172.4L728.9,171.3z" fill="#f9fa00"/>
<path d="M562.7,226.0L572.1,224.1L581.2,218.0L571.8,220.0z" fill="#ffc817"/>
<circle cx="710.4" cy="173.3" r="4.4" fill="#000" stroke="none"/>
<path d="M645.8,189.0L655.2,186.7L664.2,181.8L654.8,183.4z" fill="#f8f100"/>
<path d="M498.1,249.1L507.5,248.6L516.5,240.6L507.1,240.7z" fill="#fcbc15"/>
<path d="M461.3,274.1L470.6,270.8L479.7,260.2L470.3,263.3z" fill="#cac300"/>
<path d="M415.4,320.2L424.8,315.3L433.8,302.5L424.4,308.0z" fill="#00ce6f"/>
<path d="M479.7,260.2L489.1,258.5L498.1,249.1L488.7,250.5z" fill="#e9be00"/>
<path d="M544.3,233.4L553.7,232.0L562.7,226.0L553.4,227.4z" fill="#ffc126"/>
<path d="M627.4,197.5L636.7,194.9L645.8,189.0L636.4,191.2z" fill="#f9e900"/>
<path d="M673.6,180.3L683.0,179.3L692.0,176.1L682.6,176.5z" fill="#f8f700"/>
<path d="M609.0,206.6L618.3,204.0L627.4,197.5L618.0,200.0z" fill="#fee000"/>
<path d="M757.0,175.2L766.4,177.0L775.4,174.3L766.0,172.7z" fill="#f8f900"/>
<path d="M525.9,240.7L535.3,240.0L544.3,233.4L534.9,233.9z" fill="#ffbc2a"/>
<path d="M433.8,302.5L443.2,297.9L452.2,285.6L442.8,290.4z" fill="#64cc44"/>
<path d="M729.2,175.0L738.6,176.3L747.6,173.7L738.2,172.4z" fill="#f9fa00"/>
<path d="M701.4,176.2L710.8,176.6L719.8,174.0L710.4,173.3z" fill="#f8f900"/>
<path d="M590.5,215.6L599.9,213.1L609.0,206.6L599.6,209.2z" fill="#ffd700"/>
<path d="M507.5,248.6L516.9,248.3L525.9,240.7L516.5,240.6z" fill="#ffbb1a"/>
<path d="M572.1,224.1L581.5,221.9L590.5,215.6L581.2,218.0z" fill="#ffcd0b"/>
<path d="M452.2,285.6L461.6,282.2L470.6,270.8L461.3,274.1z" fill="#abc716"/>
<path d="M655.2,186.7L664.5,184.5L673.6,180.3L664.2,181.8z" fill="#f8f400"/>
<path d="M489.1,258.5L498.4,257.6L507.5,248.6L498.1,249.1z" fill="#eebd00"/>
<path d="M470.6,270.8L480.0,268.7L489.1,258.5L479.7,260.2z" fill="#d4c100"/>
<path d="M553.7,232.0L563.1,230.3L572.1,224.1L562.7,226.0z" fill="#ffc41f"/>
<path d="M636.7,194.9L646.1,192.0L655.2,186.7L645.8,189.0z" fill="#f9ee00"/>
<path d="M424.8,315.3L434.1,311.0L443.2,297.9L433.8,302.5z" fill="#00ce5f"/>
<path d="M738.6,176.3L747.9,177.8L757.0,175.2L747.6,173.7z" fill="#f8f900"/>
<path d="M683.0,179.3L692.3,178.9L701.4,176.2L692.0,176.1z" fill="#f8f900"/>
<path d="M710.8,176.6L720.1,177.5L729.2,175.0L719.8,174.0z" fill="#f9fa00"/>
<path d="M535.3,240.0L544.6,238.6L553.7,232.0L544.3,233.4z" fill="#ffbe29"/>
<path d="M618.3,204.0L627.7,201.1L636.7,194.9L627.4,197.5z" fill="#fbe500"/>
<path d="M599.9,213.1L609.3,210.5L618.3,204.0L609.0,206.6z" fill="#ffdc00"/>
<path d="M516.9,248.3L526.2,247.4L535.3,240.0L525.9,240.7z" fill="#ffbb20"/>
<path d="M443.2,297.9L452.5,294.3L461.6,282.2L452.2,285.6z" fill="#81cb35"/>
<path d="M581.5,221.9L590.9,219.5L599.9,213.1L590.5,215.6z" fill="#ffd200"/>
<path d="M664.5,184.5L673.9,182.8L683.0,179.3L673.6,180.3z" fill="#f8f600"/>
<path d="M498.4,257.6L507.8,256.9L516.9,248.3L507.5,248.6z" fill="#f3bd02"/>
<path d="M461.6,282.2L471.0,279.6L480.0,268.7L470.6,270.8z" fill="#b9c506"/>
<path d="M747.9,177.8L757.3,179.7L766.4,177.0L757.0,175.2z" fill="#f8f900"/>
<path d="M480.0,268.7L489.4,267.3L498.4,257.6L489.1,258.5z" fill="#dcc000"/>
<circle cx="618.3" cy="204.0" r="4.4" fill="#000" stroke="none"/>
<path d="M563.1,230.3L572.4,228.3L581.5,221.9L572.1,224.1z" fill="#ffc817"/>
<path d="M720.1,177.5L729.5,178.7L738.6,176.3L729.2,175.0z" fill="#f9fa00"/>
<path d="M692.3,178.9L701.7,179.1L710.8,176.6L701.4,176.2z" fill="#f9f900"/>
<path d="M646.1,192.0L655.5,189.2L664.5,184.5L655.2,186.7z" fill="#f8f200"/>
<path d="M544.6,238.6L554.0,237.0L563.1,230.3L553.7,232.0z" fill="#ffc027"/>
<path d="M434.1,311.0L443.5,307.2L452.5,294.3L443.2,297.9z" fill="#3ecd51"/>
<path d="M627.7,201.1L637.1,197.9L646.1,192.0L636.7,194.9z" fill="#f9eb00"/>
<path d="M526.2,247.4L535.6,246.0L544.6,238.6L535.3,240.0z" fill="#ffbb28"/>
<circle cx="434.1" cy="311.0" r="4.4" fill="#000" stroke="none"/>
<path d="M609.3,210.5L618.7,207.6L627.7,201.1L618.3,204.0z" fill="#fee100"/>
<path d="M452.5,294.3L461.9,291.3L471.0,279.6L461.6,282.2z" fill="#95c928"/>
<path d="M507.8,256.9L517.2,255.7L526.2,247.4L516.9,248.3z" fill="#f8bc0d"/>
<path d="M673.9,182.8L683.3,181.9L692.3,178.9L683.0,179.3z" fill="#f8f800"/>
<path d="M729.5,178.7L738.9,180.3L747.9,177.8L738.6,176.3z" fill="#f8f900"/>
<path d="M590.9,219.5L600.2,217.0L609.3,210.5L599.9,213.1z" fill="#ffd700"/>
<path d="M701.7,179.1L711.1,179.8L720.1,177.5L710.8,176.6z" fill="#f9fa00"/>
<path d="M489.4,267.3L498.8,266.1L507.8,256.9L498.4,257.6z" fill="#e2bf00"/>
<path d="M471.0,279.6L480.3,277.7L489.4,267.3L480.0,268.7z" fill="#c3c400"/>
<path d="M572.4,228.3L581.8,226.1L590.9,219.5L581.5,221.9z" fill="#ffcd0a"/>
<circle cx="526.2" cy="247.4" r="4.4" fill="#000" stroke="none"/>
<path d="M655.5,189.2L664.9,186.9L673.9,182.8L664.5,184.5z" fill="#f8f600"/>
<path d="M554.0,237.0L563.4,235.2L572.4,228.3L563.1,230.3z" fill="#ffc420"/>
<path d="M738.9,180.3L748.3,182.3L757.3,179.7L747.9,177.8z" fill="#f8f900"/>
<path d="M535.6,246.0L545.0,244.5L554.0,237.0L544.6,238.6z" fill="#ffbd2a"/>
<path d="M443.5,307.2L452.9,303.7L461.9,291.3L452.5,294.3z" fill="#61cc45"/>
<circle cx="757.3" cy="179.7" r="4.4" fill="#000" stroke="none"/>
<path d="M637.1,197.9L646.5,194.6L655.5,189.2L646.1,192.0z" fill="#f8f000"/>
<path d="M683.3,181.9L692.7,181.9L701.7,179.1L692.3,178.9z" fill="#f9fa00"/>
<path d="M711.1,179.8L720.5,181.0L729.5,178.7L720.1,177.5z" fill="#f9fa00"/>
<path d="M517.2,255.7L526.6,254.3L535.6,246.0L526.2,247.4z" fill="#ffbc1a"/>
<path d="M618.7,207.6L628.0,204.2L637.1,197.9L627.7,201.1z" fill="#fbe700"/>
<path d="M461.9,291.3L471.3,288.8L480.3,277.7L471.0,279.6z" fill="#a4c81c"/>
<path d="M498.8,266.1L508.1,264.7L517.2,255.7L507.8,256.9z" fill="#e9be00"/>
<path d="M480.3,277.7L489.7,276.0L498.8,266.1L489.4,267.3z" fill="#ccc300"/>
<path d="M600.2,217.0L609.6,214.2L618.7,207.6L609.3,210.5z" fill="#ffdc00"/>
<path d="M581.8,226.1L591.2,223.8L600.2,217.0L590.9,219.5z" fill="#ffd200"/>
<path d="M664.9,186.9L674.3,185.6L683.3,181.9L673.9,182.8z" fill="#f8f800"/>
<path d="M563.4,235.2L572.8,233.3L581.8,226.1L572.4,228.3z" fill="#ffc818"/>
<path d="M720.5,181.0L729.8,182.7L738.9,180.3L729.5,178.7z" fill="#f9fa00"/>
<path d="M692.7,181.9L702.1,182.4L711.1,179.8L701.7,179.1z" fill="#f9fa00"/>
<path d="M545.0,244.5L554.4,243.0L563.4,235.2L554.0,237.0z" fill="#ffbf28"/>
<path d="M452.9,303.7L462.3,300.6L471.3,288.8L461.9,291.3z" fill="#79cb39"/>
<path d="M526.6,254.3L535.9,252.9L545.0,244.5L535.6,246.0z" fill="#ffbb22"/>
<path d="M646.5,194.6L655.8,191.9L664.9,186.9L655.5,189.2z" fill="#f8f400"/>
<path d="M508.1,264.7L517.5,263.2L526.6,254.3L517.2,255.7z" fill="#f1bd00"/>
<path d="M471.3,288.8L480.7,286.6L489.7,276.0L480.3,277.7z" fill="#b0c611"/>
<path d="M489.7,276.0L499.1,274.3L508.1,264.7L498.8,266.1z" fill="#d6c100"/>
<path d="M628.0,204.2L637.4,200.8L646.5,194.6L637.1,197.9z" fill="#f9ec00"/>
<path d="M609.6,214.2L619.0,210.9L628.0,204.2L618.7,207.6z" fill="#fde200"/>
<path d="M729.8,182.7L739.2,184.8L748.3,182.3L738.9,180.3z" fill="#f8f900"/>
<path d="M674.3,185.6L683.6,185.2L692.7,181.9L683.3,181.9z" fill="#f9fa00"/>
<path d="M591.2,223.8L600.6,221.2L609.6,214.2L600.2,217.0z" fill="#ffd700"/>
<path d="M702.1,182.4L711.4,183.5L720.5,181.0L711.1,179.8z" fill="#f9fb00"/>
<path d="M572.8,233.3L582.2,231.1L591.2,223.8L581.8,226.1z" fill="#ffcd0c"/>
<path d="M554.4,243.0L563.7,241.2L572.8,233.3L563.4,235.2z" fill="#ffc322"/>
<path d="M535.9,252.9L545.3,251.5L554.4,243.0L545.0,244.5z" fill="#ffbc2a"/>
<path d="M462.3,300.6L471.6,297.8L480.7,286.6L471.3,288.8z" fill="#8cca2d"/>
<path d="M655.8,191.9L665.2,190.2L674.3,185.6L664.9,186.9z" fill="#f8f700"/>
<path d="M517.5,263.2L526.9,262.0L535.9,252.9L526.6,254.3z" fill="#f8bc0b"/>
<path d="M480.7,286.6L490.1,284.5L499.1,274.3L489.7,276.0z" fill="#bcc501"/>
<path d="M499.1,274.3L508.5,272.8L517.5,263.2L508.1,264.7z" fill="#dec000"/>
<path d="M711.4,183.5L720.8,185.1L729.8,182.7L720.5,181.0z" fill="#f9fa00"/>
<path d="M637.4,200.8L646.8,197.9L655.8,191.9L646.5,194.6z" fill="#f8f100"/>
<path d="M683.6,185.2L693.0,185.4L702.1,182.4L692.7,181.9z" fill="#f9fb00"/>
<path d="M619.0,210.9L628.4,207.6L637.4,200.8L628.0,204.2z" fill="#fae800"/>
<path d="M600.6,221.2L609.9,218.1L619.0,210.9L609.6,214.2z" fill="#ffdd00"/>
<path d="M582.2,231.1L591.5,228.7L600.6,221.2L591.2,223.8z" fill="#ffd100"/>
<path d="M563.7,241.2L573.1,239.2L582.2,231.1L572.8,233.3z" fill="#ffc71a"/>
<path d="M545.3,251.5L554.7,249.9L563.7,241.2L554.4,243.0z" fill="#ffbe29"/>
<path d="M665.2,190.2L674.6,189.5L683.6,185.2L674.3,185.6z" fill="#f8f900"/>
<path d="M720.8,185.1L730.2,187.4L739.2,184.8L729.8,182.7z" fill="#f8f900"/>
<path d="M526.9,262.0L536.3,260.7L545.3,251.5L535.9,252.9z" fill="#febc18"/>
<path d="M471.6,297.8L481.0,295.4L490.1,284.5L480.7,286.6z" fill="#9cc822"/>
<path d="M508.5,272.8L517.9,271.6L526.9,262.0L517.5,263.2z" fill="#e6bf00"/>
<path d="M693.0,185.4L702.4,186.3L711.4,183.5L702.1,182.4z" fill="#f9fb00"/>
<path d="M490.1,284.5L499.4,282.9L508.5,272.8L499.1,274.3z" fill="#c7c300"/>
<path d="M646.8,197.9L656.2,195.9L665.2,190.2L655.8,191.9z" fill="#f8f500"/>
<path d="M628.4,207.6L637.7,204.7L646.8,197.9L637.4,200.8z" fill="#f9ed00"/>
<circle cx="665.2" cy="190.2" r="4.4" fill="#000" stroke="none"/>
<path d="M609.9,218.1L619.3,215.0L628.4,207.6L619.0,210.9z" fill="#fde300"/>
<path d="M591.5,228.7L600.9,225.9L609.9,218.1L600.6,221.2z" fill="#ffd700"/>
<path d="M674.6,189.5L684.0,189.4L693.0,185.4L683.6,185.2z" fill="#f9fa00"/>
<path d="M573.1,239.2L582.5,236.8L591.5,228.7L582.2,231.1z" fill="#ffcb0f"/>
<path d="M702.4,186.3L711.8,187.9L720.8,185.1L711.4,183.5z" fill="#f9fa00"/>
<path d="M554.7,249.9L564.1,248.0L573.1,239.2L563.7,241.2z" fill="#ffc026"/>
<path d="M536.3,260.7L545.6,259.2L554.7,249.9L545.3,251.5z" fill="#ffbb22"/>
<path d="M517.9,271.6L527.2,270.4L536.3,260.7L526.9,262.0z" fill="#eebd00"/>
<path d="M481.0,295.4L490.4,293.7L499.4,282.9L490.1,284.5z" fill="#a9c718"/>
<path d="M499.4,282.9L508.8,281.8L517.9,271.6L508.5,272.8z" fill="#d0c200"/>
<path d="M656.2,195.9L665.5,194.7L674.6,189.5L665.2,190.2z" fill="#f8f700"/>
<circle cx="573.1" cy="239.2" r="4.4" fill="#000" stroke="none"/>
<circle cx="481.0" cy="295.4" r="4.4" fill="#000" stroke="none"/>
<path d="M711.8,187.9L721.1,190.2L730.2,187.4L720.8,185.1z" fill="#f8f900"/>
<path d="M684.0,189.4L693.3,190.0L702.4,186.3L693.0,185.4z" fill="#f9fb00"/>
<path d="M637.7,204.7L647.1,202.4L656.2,195.9L646.8,197.9z" fill="#f8f100"/>
<path d="M619.3,215.0L628.7,212.1L637.7,204.7L628.4,207.6z" fill="#fae800"/>
<path d="M600.9,225.9L610.3,222.9L619.3,215.0L609.9,218.1z" fill="#ffdd00"/>
<path d="M582.5,236.8L591.9,234.1L600.9,225.9L591.5,228.7z" fill="#ffd100"/>
<path d="M564.1,248.0L573.4,245.6L582.5,236.8L573.1,239.2z" fill="#ffc51e"/>
<path d="M545.6,259.2L555.0,257.4L564.1,248.0L554.7,249.9z" fill="#ffbc2a"/>
<path d="M527.2,270.4L536.6,269.1L545.6,259.2L536.3,260.7z" fill="#f5bc05"/>
<path d="M490.4,293.7L499.8,292.6L508.8,281.8L499.4,282.9z" fill="#b4c60d"/>
<path d="M508.8,281.8L518.2,280.8L527.2,270.4L517.9,271.6z" fill="#d8c100"/>
<path d="M665.5,194.7L674.9,194.2L684.0,189.4L674.6,189.5z" fill="#f8f900"/>
<path d="M693.3,190.0L702.7,191.2L711.8,187.9L702.4,186.3z" fill="#f9fa00"/>
<path d="M647.1,202.4L656.5,200.8L665.5,194.7L656.2,195.9z" fill="#f8f400"/>
<path d="M628.7,212.1L638.1,209.6L647.1,202.4L637.7,204.7z" fill="#f9ed00"/>
<path d="M499.8,292.6L509.1,291.8L518.2,280.8L508.8,281.8z" fill="#bdc501"/>
<path d="M610.3,222.9L619.7,220.0L628.7,212.1L619.3,215.0z" fill="#fde200"/>
<path d="M518.2,280.8L527.6,279.6L536.6,269.1L527.2,270.4z" fill="#e0bf00"/>
<path d="M536.6,269.1L546.0,267.3L555.0,257.4L545.6,259.2z" fill="#fdbc16"/>
<path d="M591.9,234.1L601.2,231.3L610.3,222.9L600.9,225.9z" fill="#ffd600"/>
<path d="M555.0,257.4L564.4,255.0L573.4,245.6L564.1,248.0z" fill="#ffbe29"/>
<path d="M573.4,245.6L582.8,242.9L591.9,234.1L582.5,236.8z" fill="#ffca14"/>
<path d="M674.9,194.2L684.3,194.2L693.3,190.0L684.0,189.4z" fill="#f9fa00"/>
<path d="M702.7,191.2L712.1,193.2L721.1,190.2L711.8,187.9z" fill="#f8f900"/>
<path d="M656.5,200.8L665.9,199.6L674.9,194.2L665.5,194.7z" fill="#f8f600"/>
<path d="M684.3,194.2L693.7,194.8L702.7,191.2L693.3,190.0z" fill="#f9fa00"/>
<path d="M638.1,209.6L647.5,207.5L656.5,200.8L647.1,202.4z" fill="#f8f000"/>
<path d="M509.1,291.8L518.5,290.7L527.6,279.6L518.2,280.8z" fill="#c6c300"/>
<path d="M527.6,279.6L536.9,277.9L546.0,267.3L536.6,269.1z" fill="#eabe00"/>
<path d="M546.0,267.3L555.4,264.9L564.4,255.0L555.0,257.4z" fill="#ffbb22"/>
<path d="M619.7,220.0L629.0,217.3L638.1,209.6L628.7,212.1z" fill="#fbe700"/>
<path d="M564.4,255.0L573.8,252.3L582.8,242.9L573.4,245.6z" fill="#ffc223"/>
<path d="M601.2,231.3L610.6,228.3L619.7,220.0L610.3,222.9z" fill="#ffdb00"/>
<path d="M582.8,242.9L592.2,240.1L601.2,231.3L591.9,234.1z" fill="#ffcf04"/>
<path d="M665.9,199.6L675.2,198.8L684.3,194.2L674.9,194.2z" fill="#f8f800"/>
<path d="M693.7,194.8L703.0,196.0L712.1,193.2L702.7,191.2z" fill="#f8f900"/>
<circle cx="712.1" cy="193.2" r="4.4" fill="#000" stroke="none"/>
<path d="M518.5,290.7L527.9,289.0L536.9,277.9L527.6,279.6z" fill="#d1c200"/>
<path d="M647.5,207.5L656.8,205.7L665.9,199.6L656.5,200.8z" fill="#f8f300"/>
<path d="M536.9,277.9L546.3,275.4L555.4,264.9L546.0,267.3z" fill="#f4bd03"/>
<path d="M555.4,264.9L564.7,262.1L573.8,252.3L564.4,255.0z" fill="#ffbc2a"/>
<path d="M629.0,217.3L638.4,214.8L647.5,207.5L638.1,209.6z" fill="#f9eb00"/>
<path d="M573.8,252.3L583.1,249.3L592.2,240.1L582.8,242.9z" fill="#ffc71a"/>
<path d="M610.6,228.3L620.0,225.5L629.0,217.3L619.7,220.0z" fill="#fee100"/>
<path d="M592.2,240.1L601.6,237.1L610.6,228.3L601.2,231.3z" fill="#ffd400"/>
<path d="M675.2,198.8L684.6,198.5L693.7,194.8L684.3,194.2z" fill="#f8f800"/>
<path d="M656.8,205.7L666.2,204.1L675.2,198.8L665.9,199.6z" fill="#f8f500"/>
<path d="M527.9,289.0L537.3,286.5L546.3,275.4L536.9,277.9z" fill="#ddc000"/>
<path d="M546.3,275.4L555.7,272.5L564.7,262.1L555.4,264.9z" fill="#febc18"/>
<path d="M638.4,214.8L647.8,212.4L656.8,205.7L647.5,207.5z" fill="#f8ef00"/>
<path d="M564.7,262.1L574.1,259.1L583.1,249.3L573.8,252.3z" fill="#ffbf28"/>
<path d="M684.6,198.5L694.0,198.7L703.0,196.0L693.7,194.8z" fill="#f8f900"/>
<path d="M583.1,249.3L592.5,246.3L601.6,237.1L592.2,240.1z" fill="#ffcc0c"/>
<path d="M620.0,225.5L629.4,222.7L638.4,214.8L629.0,217.3z" fill="#fbe500"/>
<circle cx="527.9" cy="289.0" r="4.4" fill="#000" stroke="none"/>
<path d="M601.6,237.1L610.9,234.1L620.0,225.5L610.6,228.3z" fill="#ffd900"/>
<circle cx="620.0" cy="225.5" r="4.4" fill="#000" stroke="none"/>
<path d="M666.2,204.1L675.6,202.8L684.6,198.5L675.2,198.8z" fill="#f8f700"/>
<path d="M537.3,286.5L546.6,283.4L555.7,272.5L546.3,275.4z" fill="#eabe00"/>
<path d="M555.7,272.5L565.1,269.4L574.1,259.1L564.7,262.1z" fill="#ffbb26"/>
<path d="M647.8,212.4L657.2,210.1L666.2,204.1L656.8,205.7z" fill="#f8f200"/>
<path d="M574.1,259.1L583.5,256.0L592.5,246.3L583.1,249.3z" fill="#ffc41f"/>
<path d="M629.4,222.7L638.7,219.9L647.8,212.4L638.4,214.8z" fill="#f9ea00"/>
<path d="M592.5,246.3L601.9,243.2L610.9,234.1L601.6,237.1z" fill="#ffd200"/>
<path d="M610.9,234.1L620.3,231.2L629.4,222.7L620.0,225.5z" fill="#ffdf00"/>
<path d="M675.6,202.8L685.0,201.7L694.0,198.7L684.6,198.5z" fill="#f8f900"/>
<path d="M546.6,283.4L556.0,280.1L565.1,269.4L555.7,272.5z" fill="#f6bc07"/>
<path d="M657.2,210.1L666.5,207.9L675.6,202.8L666.2,204.1z" fill="#f8f500"/>
<path d="M565.1,269.4L574.4,266.1L583.5,256.0L574.1,259.1z" fill="#ffbd29"/>
<path d="M583.5,256.0L592.9,252.9L601.9,243.2L592.5,246.3z" fill="#ffca14"/>
<path d="M638.7,219.9L648.1,217.1L657.2,210.1L647.8,212.4z" fill="#f9ee00"/>
<path d="M601.9,243.2L611.3,240.2L620.3,231.2L610.9,234.1z" fill="#ffd700"/>
<path d="M620.3,231.2L629.7,228.2L638.7,219.9L629.4,222.7z" fill="#fce400"/>
<path d="M666.5,207.9L675.9,205.8L685.0,201.7L675.6,202.8z" fill="#f8f800"/>
<path d="M556.0,280.1L565.4,276.8L574.4,266.1L565.1,269.4z" fill="#ffbb1d"/>
<path d="M574.4,266.1L583.8,263.0L592.9,252.9L583.5,256.0z" fill="#ffc125"/>
<path d="M648.1,217.1L657.5,214.3L666.5,207.9L657.2,210.1z" fill="#f8f300"/>
<path d="M592.9,252.9L602.2,249.8L611.3,240.2L601.9,243.2z" fill="#ffcf03"/>
<path d="M611.3,240.2L620.7,237.1L629.7,228.2L620.3,231.2z" fill="#ffdd00"/>
<path d="M629.7,228.2L639.1,225.1L648.1,217.1L638.7,219.9z" fill="#fae900"/>
<path d="M565.4,276.8L574.8,273.7L583.8,263.0L574.4,266.1z" fill="#ffbc29"/>
<path d="M583.8,263.0L593.2,260.1L602.2,249.8L592.9,252.9z" fill="#ffc71b"/>
<path d="M657.5,214.3L666.9,211.5L675.9,205.8L666.5,207.9z" fill="#f8f700"/>
<path d="M602.2,249.8L611.6,246.8L620.7,237.1L611.3,240.2z" fill="#ffd500"/>
<path d="M639.1,225.1L648.5,222.0L657.5,214.3L648.1,217.1z" fill="#f9ee00"/>
<path d="M620.7,237.1L630.0,233.9L639.1,225.1L629.7,228.2z" fill="#fde200"/>
<path d="M574.8,273.7L584.1,270.9L593.2,260.1L583.8,263.0z" fill="#ffbe29"/>
<path d="M593.2,260.1L602.6,257.1L611.6,246.8L602.2,249.8z" fill="#ffcc0e"/>
<path d="M611.6,246.8L621.0,243.6L630.0,233.9L620.7,237.1z" fill="#ffda00"/>
<path d="M648.5,222.0L657.8,218.8L666.9,211.5L657.5,214.3z" fill="#f8f300"/>
<path d="M630.0,233.9L639.4,230.7L648.5,222.0L639.1,225.1z" fill="#fae800"/>
<circle cx="574.8" cy="273.7" r="4.4" fill="#000" stroke="none"/>
<circle cx="666.9" cy="211.5" r="4.4" fill="#000" stroke="none"/>
<path d="M584.1,270.9L593.5,268.2L602.6,257.1L593.2,260.1z" fill="#ffc322"/>
<path d="M602.6,257.1L611.9,254.2L621.0,243.6L611.6,246.8z" fill="#ffd100"/>
<path d="M621.0,243.6L630.4,240.4L639.4,230.7L630.0,233.9z" fill="#fee000"/>
<path d="M639.4,230.7L648.8,227.4L657.8,218.8L648.5,222.0z" fill="#f9ed00"/>
<path d="M593.5,268.2L602.9,265.5L611.9,254.2L602.6,257.1z" fill="#ffc819"/>
<path d="M611.9,254.2L621.3,251.2L630.4,240.4L621.0,243.6z" fill="#ffd700"/>
<path d="M630.4,240.4L639.7,237.2L648.8,227.4L639.4,230.7z" fill="#fbe600"/>
<path d="M602.9,265.5L612.3,263.0L621.3,251.2L611.9,254.2z" fill="#ffcd0b"/>
<path d="M621.3,251.2L630.7,248.2L639.7,237.2L630.4,240.4z" fill="#ffdd00"/>
<path d="M612.3,263.0L621.6,260.5L630.7,248.2L621.3,251.2z" fill="#ffd200"/>
<circle cx="621.6" cy="260.5" r="4.4" fill="#000" stroke="none"/>
</g>
</g>
<g id="ticks"><line x1="606.5" y1="534.2" x2="596.0" y2="537.3" class="b"/><text x="585.3" y="562.0" class="tk" text-anchor="end">0</text><line x1="489.4" y1="518.2" x2="478.8" y2="521.4" class="b"/><text x="468.2" y="546.0" class="tk" text-anchor="end">0.05</text><line x1="372.1" y1="502.2" x2="361.6" y2="505.4" class="b"/><text x="350.9" y="530.0" class="tk" text-anchor="end">0.1</text><line x1="255.0" y1="486.3" x2="244.4" y2="489.4" class="b"/><text x="233.8" y="514.1" class="tk" text-anchor="end">0.15</text><line x1="137.7" y1="470.3" x2="127.2" y2="473.4" class="b"/><text x="116.5" y="498.1" class="tk" text-anchor="end">0.2</text><line x1="915.8" y1="452.0" x2="926.2" y2="453.4" class="b"/><text x="937.8" y="477.2" class="tk" text-anchor="start">6</text><line x1="825.3" y1="478.9" x2="835.7" y2="480.3" class="b"/><text x="847.3" y="504.1" class="tk" text-anchor="start">8</text><line x1="734.9" y1="505.9" x2="745.3" y2="507.3" class="b"/><text x="756.9" y="531.1" class="tk" text-anchor="start">10</text><line x1="644.5" y1="532.8" x2="654.9" y2="534.2" class="b"/><text x="666.5" y="558.0" class="tk" text-anchor="start">12</text><line x1="115.0" y1="431.5" x2="101.7" y2="429.7" class="b"/><text x="92.0" y="438.7" class="tk" text-anchor="end">0.85</text><line x1="115.0" y1="340.2" x2="101.7" y2="338.4" class="b"/><text x="92.0" y="347.4" class="tk" text-anchor="end">0.9</text><line x1="115.0" y1="248.9" x2="101.7" y2="247.1" class="b"/><text x="92.0" y="256.1" class="tk" text-anchor="end">0.95</text><line x1="115.0" y1="157.6" x2="101.7" y2="155.8" class="b"/><text x="92.0" y="164.8" class="tk" text-anchor="end">1</text></g>
<text class="al" transform="translate(37.7,300.0) rotate(-90)" text-anchor="middle">Reliability</text>
<text class="al" transform="translate(306.0,572.6) rotate(9.05)" text-anchor="middle">Coefficient of vehicle parameters</text>
<text class="al" transform="translate(856.3,530.4) rotate(-18.0)" text-anchor="middle">Foundation settling /(mm)</text>
<text class="cap" y="654.5"><tspan x="381.9" textLength="51.2" lengthAdjust="spacingAndGlyphs">(<tspan font-weight="bold">a</tspan>)</tspan> <tspan x="443.5" textLength="67.3" lengthAdjust="spacingAndGlyphs">350</tspan> <tspan x="522.5" textLength="102.8" lengthAdjust="spacingAndGlyphs">km/h</tspan></text>
</svg>
</body></html>
